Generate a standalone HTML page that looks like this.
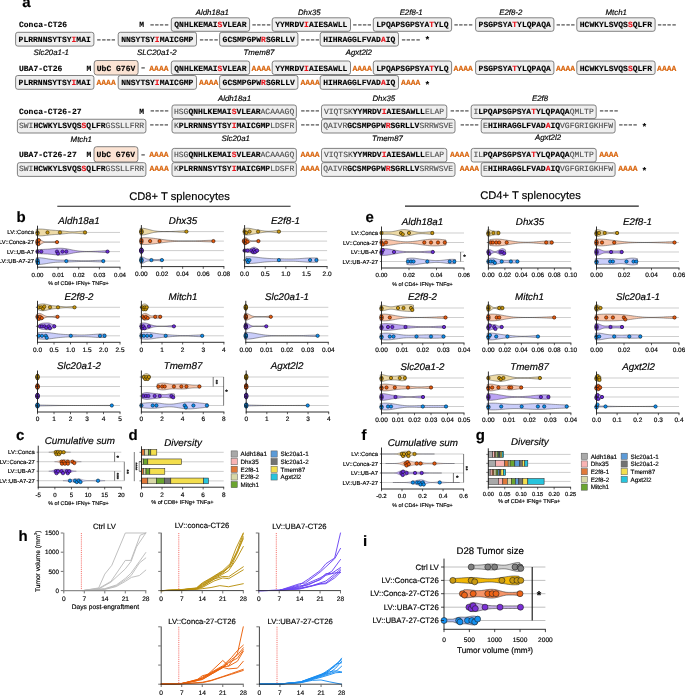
<!DOCTYPE html>
<html lang="en">
<head>
<meta charset="utf-8">
<title>Figure</title>
<style>
html,body{margin:0;padding:0;background:#fff;}
body{width:685px;height:695px;overflow:hidden;}
svg{display:block;font-family:"Liberation Sans", Arial, Helvetica, sans-serif;}
svg text{white-space:pre;}
svg .m{font-family:"Liberation Mono", "Courier New", monospace;}
</style>
</head>
<body>
<svg width="685" height="695" viewBox="0 0 685 695" text-rendering="geometricPrecision">
<rect width="685" height="695" fill="#fff"/>
<text x="22.3" y="7.3" font-size="15" font-weight="bold" stroke="#000" stroke-width="0.16">a</text>
<text x="212.3" y="14.6" font-size="7.85" text-anchor="middle" font-style="italic" stroke="#000" stroke-width="0.16">Aldh18a1</text>
<text x="309.3" y="14.6" font-size="7.85" text-anchor="middle" font-style="italic" stroke="#000" stroke-width="0.16">Dhx35</text>
<text x="411.2" y="14.6" font-size="7.85" text-anchor="middle" font-style="italic" stroke="#000" stroke-width="0.16">E2f8-1</text>
<text x="510.8" y="14.6" font-size="7.85" text-anchor="middle" font-style="italic" stroke="#000" stroke-width="0.16">E2f8-2</text>
<text x="616.2" y="14.6" font-size="7.85" text-anchor="middle" font-style="italic" stroke="#000" stroke-width="0.16">Mtch1</text>
<text x="19" y="27.3" font-size="8.03" font-weight="bold" stroke="#000" stroke-width="0.12" class="m">Conca-CT26</text>
<text x="139.2" y="27.3" font-size="8.03" font-weight="bold" stroke="#000" stroke-width="0.12" class="m">M</text>
<text class="m" font-size="8.03" font-weight="bold" fill="#1a1a1a" letter-spacing="-1.6" transform="translate(148.45 27.4) scale(1.5 1)">----</text>
<rect x="171.3" y="17.8" width="78.3" height="13.5" fill="#efefef" stroke="#6c6c6c" stroke-width="0.85" rx="2.2"/>
<text x="174.3" y="27.3" font-size="8.03" font-weight="bold" stroke="#000" stroke-width="0.12" class="m">QNHLKEMAI<tspan fill="#e8141c" stroke="#e8141c">S</tspan>VLEAR</text>
<text class="m" font-size="8.03" font-weight="bold" fill="#1a1a1a" letter-spacing="-1.6" transform="translate(250.45 27.4) scale(1.5 1)">----</text>
<rect x="272.2" y="17.8" width="78.3" height="13.5" fill="#efefef" stroke="#6c6c6c" stroke-width="0.85" rx="2.2"/>
<text x="275.2" y="27.3" font-size="8.03" font-weight="bold" stroke="#000" stroke-width="0.12" class="m">YYMRDV<tspan fill="#e8141c" stroke="#e8141c">I</tspan>AIESAWLL</text>
<text class="m" font-size="8.03" font-weight="bold" fill="#1a1a1a" letter-spacing="-1.6" transform="translate(351.35 27.4) scale(1.5 1)">----</text>
<rect x="373.3" y="17.8" width="78.3" height="13.5" fill="#efefef" stroke="#6c6c6c" stroke-width="0.85" rx="2.2"/>
<text x="376.3" y="27.3" font-size="8.03" font-weight="bold" stroke="#000" stroke-width="0.12" class="m">LPQAPSGPSYA<tspan fill="#e8141c" stroke="#e8141c">T</tspan>YLQ</text>
<text class="m" font-size="8.03" font-weight="bold" fill="#1a1a1a" letter-spacing="-1.6" transform="translate(452.45 27.4) scale(1.5 1)">----</text>
<rect x="475.6" y="17.8" width="78.3" height="13.5" fill="#efefef" stroke="#6c6c6c" stroke-width="0.85" rx="2.2"/>
<text x="478.6" y="27.3" font-size="8.03" font-weight="bold" stroke="#000" stroke-width="0.12" class="m">PSGPSYA<tspan fill="#e8141c" stroke="#e8141c">T</tspan>YLQPAQA</text>
<text class="m" font-size="8.03" font-weight="bold" fill="#1a1a1a" letter-spacing="-1.6" transform="translate(554.75 27.4) scale(1.5 1)">----</text>
<rect x="576.8" y="17.8" width="78.3" height="13.5" fill="#efefef" stroke="#6c6c6c" stroke-width="0.85" rx="2.2"/>
<text x="579.8" y="27.3" font-size="8.03" font-weight="bold" stroke="#000" stroke-width="0.12" class="m">HCWKYLSVQS<tspan fill="#e8141c" stroke="#e8141c">S</tspan>QLFR</text>
<text class="m" font-size="8.03" font-weight="bold" fill="#1a1a1a" letter-spacing="-1.6" transform="translate(655.95 27.4) scale(1.5 1)">----</text>
<rect x="15.6" y="32.3" width="78.3" height="13.8" fill="#efefef" stroke="#6c6c6c" stroke-width="0.85" rx="2.2"/>
<text x="18.6" y="41.7" font-size="8.03" font-weight="bold" stroke="#000" stroke-width="0.12" class="m">PLRRNNSYTSY<tspan fill="#e8141c" stroke="#e8141c">I</tspan>MAI</text>
<text class="m" font-size="8.03" font-weight="bold" fill="#1a1a1a" letter-spacing="-1.6" transform="translate(95.35 41.8) scale(1.5 1)">----</text>
<rect x="118.2" y="32.3" width="78.3" height="13.8" fill="#efefef" stroke="#6c6c6c" stroke-width="0.85" rx="2.2"/>
<text x="121.2" y="41.7" font-size="8.03" font-weight="bold" stroke="#000" stroke-width="0.12" class="m">NNSYTSY<tspan fill="#e8141c" stroke="#e8141c">I</tspan>MAICGMP</text>
<text class="m" font-size="8.03" font-weight="bold" fill="#1a1a1a" letter-spacing="-1.6" transform="translate(197.95 41.8) scale(1.5 1)">----</text>
<rect x="219.6" y="32.3" width="78.3" height="13.8" fill="#efefef" stroke="#6c6c6c" stroke-width="0.85" rx="2.2"/>
<text x="222.6" y="41.7" font-size="8.03" font-weight="bold" stroke="#000" stroke-width="0.12" class="m">GCSMPGPW<tspan fill="#e8141c" stroke="#e8141c">R</tspan>SGRLLV</text>
<text class="m" font-size="8.03" font-weight="bold" fill="#1a1a1a" letter-spacing="-1.6" transform="translate(299.35 41.8) scale(1.5 1)">----</text>
<rect x="320.2" y="32.3" width="78.3" height="13.8" fill="#efefef" stroke="#6c6c6c" stroke-width="0.85" rx="2.2"/>
<text x="323.2" y="41.7" font-size="8.03" font-weight="bold" stroke="#000" stroke-width="0.12" class="m">HIHRAGGLFVAD<tspan fill="#e8141c" stroke="#e8141c">A</tspan>IQ</text>
<text class="m" font-size="8.03" font-weight="bold" fill="#1a1a1a" letter-spacing="-1.6" transform="translate(399.95 41.8) scale(1.5 1)">----</text>
<text x="424.52" y="42.66" font-size="9.6" font-weight="bold" class="m">*</text>
<text x="51.2" y="54.6" font-size="7.85" text-anchor="middle" font-style="italic" stroke="#000" stroke-width="0.16">Slc20a1-1</text>
<text x="156.8" y="54.6" font-size="7.85" text-anchor="middle" font-style="italic" stroke="#000" stroke-width="0.16">SLC20a1-2</text>
<text x="259" y="54.6" font-size="7.85" text-anchor="middle" font-style="italic" stroke="#000" stroke-width="0.16">Tmem87</text>
<text x="358.8" y="54.6" font-size="7.85" text-anchor="middle" font-style="italic" stroke="#000" stroke-width="0.16">Agxt2l2</text>
<text x="19" y="70.5" font-size="8.03" font-weight="bold" stroke="#000" stroke-width="0.12" class="m">UBA7-CT26</text>
<text x="86.6" y="70.5" font-size="8.03" font-weight="bold" stroke="#000" stroke-width="0.12" class="m">M</text>
<rect x="94.2" y="60.5" width="43.9" height="14.5" fill="#fbe3d3" stroke="#6c6c6c" stroke-width="0.85" rx="2.6"/>
<text x="96.8" y="70.5" font-size="8.03" font-weight="bold" stroke="#000" stroke-width="0.12" class="m">UbC G76V</text>
<text class="m" font-size="8.03" font-weight="bold" fill="#1a1a1a" letter-spacing="-1.6" transform="translate(139.45 69.95) scale(1.5 1)">-</text>
<text x="149.3" y="70.5" font-size="8.03" font-weight="bold" fill="#d9660f" stroke="#d9660f" stroke-width="0.12" class="m">AAAA</text>
<rect x="171.3" y="61" width="78.3" height="13.5" fill="#efefef" stroke="#6c6c6c" stroke-width="0.85" rx="2.2"/>
<text x="174.3" y="70.5" font-size="8.03" font-weight="bold" stroke="#000" stroke-width="0.12" class="m">QNHLKEMAI<tspan fill="#e8141c" stroke="#e8141c">S</tspan>VLEAR</text>
<text x="251.6" y="70.5" font-size="8.03" font-weight="bold" fill="#d9660f" stroke="#d9660f" stroke-width="0.12" class="m">AAAA</text>
<rect x="272.2" y="61" width="78.3" height="13.5" fill="#efefef" stroke="#6c6c6c" stroke-width="0.85" rx="2.2"/>
<text x="275.2" y="70.5" font-size="8.03" font-weight="bold" stroke="#000" stroke-width="0.12" class="m">YYMRDV<tspan fill="#e8141c" stroke="#e8141c">I</tspan>AIESAWLL</text>
<text x="352.5" y="70.5" font-size="8.03" font-weight="bold" fill="#d9660f" stroke="#d9660f" stroke-width="0.12" class="m">AAAA</text>
<rect x="373.3" y="61" width="78.3" height="13.5" fill="#efefef" stroke="#6c6c6c" stroke-width="0.85" rx="2.2"/>
<text x="376.3" y="70.5" font-size="8.03" font-weight="bold" stroke="#000" stroke-width="0.12" class="m">LPQAPSGPSYA<tspan fill="#e8141c" stroke="#e8141c">T</tspan>YLQ</text>
<text x="453.6" y="70.5" font-size="8.03" font-weight="bold" fill="#d9660f" stroke="#d9660f" stroke-width="0.12" class="m">AAAA</text>
<rect x="475.6" y="61" width="78.3" height="13.5" fill="#efefef" stroke="#6c6c6c" stroke-width="0.85" rx="2.2"/>
<text x="478.6" y="70.5" font-size="8.03" font-weight="bold" stroke="#000" stroke-width="0.12" class="m">PSGPSYA<tspan fill="#e8141c" stroke="#e8141c">T</tspan>YLQPAQA</text>
<text x="555.9" y="70.5" font-size="8.03" font-weight="bold" fill="#d9660f" stroke="#d9660f" stroke-width="0.12" class="m">AAAA</text>
<rect x="576.8" y="61" width="78.3" height="13.5" fill="#efefef" stroke="#6c6c6c" stroke-width="0.85" rx="2.2"/>
<text x="579.8" y="70.5" font-size="8.03" font-weight="bold" stroke="#000" stroke-width="0.12" class="m">HCWKYLSVQS<tspan fill="#e8141c" stroke="#e8141c">S</tspan>QLFR</text>
<text x="657.1" y="70.5" font-size="8.03" font-weight="bold" fill="#d9660f" stroke="#d9660f" stroke-width="0.12" class="m">AAAA</text>
<rect x="15.6" y="75.5" width="78.3" height="13.8" fill="#efefef" stroke="#6c6c6c" stroke-width="0.85" rx="2.2"/>
<text x="18.6" y="84.9" font-size="8.03" font-weight="bold" stroke="#000" stroke-width="0.12" class="m">PLRRNNSYTSY<tspan fill="#e8141c" stroke="#e8141c">I</tspan>MAI</text>
<text x="96.5" y="84.9" font-size="8.03" font-weight="bold" fill="#d9660f" stroke="#d9660f" stroke-width="0.12" class="m">AAAA</text>
<rect x="118.2" y="75.5" width="78.3" height="13.8" fill="#efefef" stroke="#6c6c6c" stroke-width="0.85" rx="2.2"/>
<text x="121.2" y="84.9" font-size="8.03" font-weight="bold" stroke="#000" stroke-width="0.12" class="m">NNSYTSY<tspan fill="#e8141c" stroke="#e8141c">I</tspan>MAICGMP</text>
<text x="199.1" y="84.9" font-size="8.03" font-weight="bold" fill="#d9660f" stroke="#d9660f" stroke-width="0.12" class="m">AAAA</text>
<rect x="219.6" y="75.5" width="78.3" height="13.8" fill="#efefef" stroke="#6c6c6c" stroke-width="0.85" rx="2.2"/>
<text x="222.6" y="84.9" font-size="8.03" font-weight="bold" stroke="#000" stroke-width="0.12" class="m">GCSMPGPW<tspan fill="#e8141c" stroke="#e8141c">R</tspan>SGRLLV</text>
<text x="300.5" y="84.9" font-size="8.03" font-weight="bold" fill="#d9660f" stroke="#d9660f" stroke-width="0.12" class="m">AAAA</text>
<rect x="320.2" y="75.5" width="78.3" height="13.8" fill="#efefef" stroke="#6c6c6c" stroke-width="0.85" rx="2.2"/>
<text x="323.2" y="84.9" font-size="8.03" font-weight="bold" stroke="#000" stroke-width="0.12" class="m">HIHRAGGLFVAD<tspan fill="#e8141c" stroke="#e8141c">A</tspan>IQ</text>
<text x="401.1" y="84.9" font-size="8.03" font-weight="bold" fill="#d9660f" stroke="#d9660f" stroke-width="0.12" class="m">AAAA</text>
<text x="424.52" y="87.56" font-size="9.6" font-weight="bold" class="m">*</text>
<text x="234.5" y="101.1" font-size="7.85" text-anchor="middle" font-style="italic" stroke="#000" stroke-width="0.16">Aldh18a1</text>
<text x="383.8" y="101.1" font-size="7.85" text-anchor="middle" font-style="italic" stroke="#000" stroke-width="0.16">Dhx35</text>
<text x="540" y="101.1" font-size="7.85" text-anchor="middle" font-style="italic" stroke="#000" stroke-width="0.16">E2f8</text>
<text x="19" y="113.7" font-size="8.03" font-weight="bold" stroke="#000" stroke-width="0.12" class="m">Conca-CT26-27</text>
<text x="139.2" y="113.7" font-size="8.03" font-weight="bold" stroke="#000" stroke-width="0.12" class="m">M</text>
<text class="m" font-size="8.03" font-weight="bold" fill="#1a1a1a" letter-spacing="-1.6" transform="translate(148.65 113.15) scale(1.5 1)">----</text>
<rect x="172" y="105" width="124.4" height="13.6" fill="#efefef" stroke="#6c6c6c" stroke-width="0.85" rx="2.2"/>
<text x="173.95" y="113.7" font-size="8.03" font-weight="bold" stroke="#000" stroke-width="0.12" class="m"><tspan font-weight="normal" fill="#4a4a4a" stroke="#4a4a4a">HSG</tspan>QNHLKEMAI<tspan fill="#e8141c" stroke="#e8141c">S</tspan>VLEAR<tspan font-weight="normal" fill="#4a4a4a" stroke="#4a4a4a">ACAAAGQ</tspan></text>
<text class="m" font-size="8.03" font-weight="bold" fill="#1a1a1a" letter-spacing="-1.6" transform="translate(299.25 113.15) scale(1.5 1)">----</text>
<rect x="321.5" y="105" width="125.3" height="13.6" fill="#efefef" stroke="#6c6c6c" stroke-width="0.85" rx="2.2"/>
<text x="323.9" y="113.7" font-size="8.03" font-weight="bold" stroke="#000" stroke-width="0.12" class="m"><tspan font-weight="normal" fill="#4a4a4a" stroke="#4a4a4a">VIQTSK</tspan>YYMRDV<tspan fill="#e8141c" stroke="#e8141c">I</tspan>AIESAWLL<tspan font-weight="normal" fill="#4a4a4a" stroke="#4a4a4a">ELAP</tspan></text>
<text class="m" font-size="8.03" font-weight="bold" fill="#1a1a1a" letter-spacing="-1.6" transform="translate(448.85 113.15) scale(1.5 1)">----</text>
<rect x="471.2" y="105" width="125" height="13.6" fill="#efefef" stroke="#6c6c6c" stroke-width="0.85" rx="2.2"/>
<text x="473.45" y="113.7" font-size="8.03" font-weight="bold" stroke="#000" stroke-width="0.12" class="m"><tspan font-weight="normal" fill="#4a4a4a" stroke="#4a4a4a">I</tspan>LPQAPSGPSYA<tspan fill="#e8141c" stroke="#e8141c">T</tspan>YLQPAQA<tspan font-weight="normal" fill="#4a4a4a" stroke="#4a4a4a">QMLTP</tspan></text>
<text class="m" font-size="8.03" font-weight="bold" fill="#1a1a1a" letter-spacing="-1.6" transform="translate(598.05 113.15) scale(1.5 1)">----</text>
<rect x="17.4" y="119.25" width="128.5" height="13.75" fill="#efefef" stroke="#6c6c6c" stroke-width="0.85" rx="2.2"/>
<text x="18.99" y="128" font-size="8.03" font-weight="bold" stroke="#000" stroke-width="0.12" class="m"><tspan font-weight="normal" fill="#4a4a4a" stroke="#4a4a4a">SWI</tspan>HCWKYLSVQS<tspan fill="#e8141c" stroke="#e8141c">S</tspan>QLFR<tspan font-weight="normal" fill="#4a4a4a" stroke="#4a4a4a">GSSLLFRR</tspan></text>
<text class="m" font-size="8.03" font-weight="bold" fill="#1a1a1a" letter-spacing="-1.6" transform="translate(148.35 127.45) scale(1.5 1)">----</text>
<rect x="172" y="119.25" width="124.4" height="13.75" fill="#efefef" stroke="#6c6c6c" stroke-width="0.85" rx="2.2"/>
<text x="173.95" y="128" font-size="8.03" font-weight="bold" stroke="#000" stroke-width="0.12" class="m"><tspan font-weight="normal" fill="#4a4a4a" stroke="#4a4a4a">K</tspan>PLRRNNSYTSY<tspan fill="#e8141c" stroke="#e8141c">I</tspan>MAICGMP<tspan font-weight="normal" fill="#4a4a4a" stroke="#4a4a4a">LDSFR</tspan></text>
<text class="m" font-size="8.03" font-weight="bold" fill="#1a1a1a" letter-spacing="-1.6" transform="translate(299.25 127.45) scale(1.5 1)">----</text>
<rect x="321.5" y="119.25" width="133.5" height="13.75" fill="#efefef" stroke="#6c6c6c" stroke-width="0.85" rx="2.2"/>
<text x="323.18" y="128" font-size="8.03" font-weight="bold" stroke="#000" stroke-width="0.12" class="m"><tspan font-weight="normal" fill="#4a4a4a" stroke="#4a4a4a">QAIVR</tspan>GCSMPGPW<tspan fill="#e8141c" stroke="#e8141c">R</tspan>SGRLLV<tspan font-weight="normal" fill="#4a4a4a" stroke="#4a4a4a">SRRWSVE</tspan></text>
<text class="m" font-size="8.03" font-weight="bold" fill="#1a1a1a" letter-spacing="-1.6" transform="translate(458.65 127.45) scale(1.5 1)">----</text>
<rect x="481.2" y="119.25" width="133.9" height="13.75" fill="#efefef" stroke="#6c6c6c" stroke-width="0.85" rx="2.2"/>
<text x="483.08" y="128" font-size="8.03" font-weight="bold" stroke="#000" stroke-width="0.12" class="m"><tspan font-weight="normal" fill="#4a4a4a" stroke="#4a4a4a">E</tspan>HIHRAGGLFVAD<tspan fill="#e8141c" stroke="#e8141c">A</tspan>IQ<tspan font-weight="normal" fill="#4a4a4a" stroke="#4a4a4a">VGFGRIGKHFW</tspan></text>
<text class="m" font-size="8.03" font-weight="bold" fill="#1a1a1a" letter-spacing="-1.6" transform="translate(617.15 127.45) scale(1.5 1)">----</text>
<text x="641.52" y="129.76" font-size="9.6" font-weight="bold" class="m">*</text>
<text x="81.3" y="141.6" font-size="7.85" text-anchor="middle" font-style="italic" stroke="#000" stroke-width="0.16">Mtch1</text>
<text x="235.8" y="140.9" font-size="7.85" text-anchor="middle" font-style="italic" stroke="#000" stroke-width="0.16">Slc20a1</text>
<text x="387.4" y="140.8" font-size="7.85" text-anchor="middle" font-style="italic" stroke="#000" stroke-width="0.16">Tmem87</text>
<text x="548" y="139.5" font-size="7.85" text-anchor="middle" font-style="italic" stroke="#000" stroke-width="0.16">Agxt2l2</text>
<text x="19" y="157.1" font-size="8.03" font-weight="bold" stroke="#000" stroke-width="0.12" class="m">UBA7-CT26-27</text>
<text x="86.6" y="157.1" font-size="8.03" font-weight="bold" stroke="#000" stroke-width="0.12" class="m">M</text>
<rect x="94" y="146.7" width="43.9" height="15.3" fill="#fbe3d3" stroke="#6c6c6c" stroke-width="0.85" rx="2.6"/>
<text x="96.6" y="157.1" font-size="8.03" font-weight="bold" stroke="#000" stroke-width="0.12" class="m">UbC G76V</text>
<text class="m" font-size="8.03" font-weight="bold" fill="#1a1a1a" letter-spacing="-1.6" transform="translate(139.45 156.55) scale(1.5 1)">-</text>
<text x="149.3" y="157.1" font-size="8.03" font-weight="bold" fill="#d9660f" stroke="#d9660f" stroke-width="0.12" class="m">AAAA</text>
<rect x="172" y="148.4" width="124.4" height="13.6" fill="#efefef" stroke="#6c6c6c" stroke-width="0.85" rx="2.2"/>
<text x="173.95" y="157.1" font-size="8.03" font-weight="bold" stroke="#000" stroke-width="0.12" class="m"><tspan font-weight="normal" fill="#4a4a4a" stroke="#4a4a4a">HSG</tspan>QNHLKEMAI<tspan fill="#e8141c" stroke="#e8141c">S</tspan>VLEAR<tspan font-weight="normal" fill="#4a4a4a" stroke="#4a4a4a">ACAAAGQ</tspan></text>
<text x="300.4" y="157.1" font-size="8.03" font-weight="bold" fill="#d9660f" stroke="#d9660f" stroke-width="0.12" class="m">AAAA</text>
<rect x="321.5" y="148.4" width="125.3" height="13.6" fill="#efefef" stroke="#6c6c6c" stroke-width="0.85" rx="2.2"/>
<text x="323.9" y="157.1" font-size="8.03" font-weight="bold" stroke="#000" stroke-width="0.12" class="m"><tspan font-weight="normal" fill="#4a4a4a" stroke="#4a4a4a">VIQTSK</tspan>YYMRDV<tspan fill="#e8141c" stroke="#e8141c">I</tspan>AIESAWLL<tspan font-weight="normal" fill="#4a4a4a" stroke="#4a4a4a">ELAP</tspan></text>
<text x="450" y="157.1" font-size="8.03" font-weight="bold" fill="#d9660f" stroke="#d9660f" stroke-width="0.12" class="m">AAAA</text>
<rect x="471.2" y="148.4" width="125" height="13.6" fill="#efefef" stroke="#6c6c6c" stroke-width="0.85" rx="2.2"/>
<text x="473.45" y="157.1" font-size="8.03" font-weight="bold" stroke="#000" stroke-width="0.12" class="m"><tspan font-weight="normal" fill="#4a4a4a" stroke="#4a4a4a">IL</tspan>PQAPSGPSYA<tspan fill="#e8141c" stroke="#e8141c">T</tspan>YLQPAQA<tspan font-weight="normal" fill="#4a4a4a" stroke="#4a4a4a">QMLTP</tspan></text>
<text x="599.2" y="157.1" font-size="8.03" font-weight="bold" fill="#d9660f" stroke="#d9660f" stroke-width="0.12" class="m">AAAA</text>
<rect x="17.4" y="162.65" width="128.5" height="13.75" fill="#efefef" stroke="#6c6c6c" stroke-width="0.85" rx="2.2"/>
<text x="18.99" y="171.4" font-size="8.03" font-weight="bold" stroke="#000" stroke-width="0.12" class="m"><tspan font-weight="normal" fill="#4a4a4a" stroke="#4a4a4a">SWI</tspan>HCWKYLSVQS<tspan fill="#e8141c" stroke="#e8141c">S</tspan>QLFR<tspan font-weight="normal" fill="#4a4a4a" stroke="#4a4a4a">GSSLLFRR</tspan></text>
<text x="149.5" y="171.4" font-size="8.03" font-weight="bold" fill="#d9660f" stroke="#d9660f" stroke-width="0.12" class="m">AAAA</text>
<rect x="172" y="162.65" width="124.4" height="13.75" fill="#efefef" stroke="#6c6c6c" stroke-width="0.85" rx="2.2"/>
<text x="173.95" y="171.4" font-size="8.03" font-weight="bold" stroke="#000" stroke-width="0.12" class="m"><tspan font-weight="normal" fill="#4a4a4a" stroke="#4a4a4a">K</tspan>PLRRNNSYTSY<tspan fill="#e8141c" stroke="#e8141c">I</tspan>MAICGMP<tspan font-weight="normal" fill="#4a4a4a" stroke="#4a4a4a">LDSFR</tspan></text>
<text x="300.4" y="171.4" font-size="8.03" font-weight="bold" fill="#d9660f" stroke="#d9660f" stroke-width="0.12" class="m">AAAA</text>
<rect x="321.5" y="162.65" width="133.5" height="13.75" fill="#efefef" stroke="#6c6c6c" stroke-width="0.85" rx="2.2"/>
<text x="323.18" y="171.4" font-size="8.03" font-weight="bold" stroke="#000" stroke-width="0.12" class="m"><tspan font-weight="normal" fill="#4a4a4a" stroke="#4a4a4a">QAIVR</tspan>GCSMPGPW<tspan fill="#e8141c" stroke="#e8141c">R</tspan>SGRLLV<tspan font-weight="normal" fill="#4a4a4a" stroke="#4a4a4a">SRRWSVE</tspan></text>
<text x="459.8" y="171.4" font-size="8.03" font-weight="bold" fill="#d9660f" stroke="#d9660f" stroke-width="0.12" class="m">AAAA</text>
<rect x="481.2" y="162.65" width="133.9" height="13.75" fill="#efefef" stroke="#6c6c6c" stroke-width="0.85" rx="2.2"/>
<text x="483.08" y="171.4" font-size="8.03" font-weight="bold" stroke="#000" stroke-width="0.12" class="m"><tspan font-weight="normal" fill="#4a4a4a" stroke="#4a4a4a">E</tspan>HIHRAGGLFVAD<tspan fill="#e8141c" stroke="#e8141c">A</tspan>IQ<tspan font-weight="normal" fill="#4a4a4a" stroke="#4a4a4a">VGFGRIGKHFW</tspan></text>
<text x="618.3" y="171.4" font-size="8.03" font-weight="bold" fill="#d9660f" stroke="#d9660f" stroke-width="0.12" class="m">AAAA</text>
<text x="641.52" y="173.76" font-size="9.6" font-weight="bold" class="m">*</text>
<text x="129.2" y="199.6" font-size="11.2" stroke="#000" stroke-width="0.16">CD8+ T splenocytes</text>
<line x1="57.3" y1="206.3" x2="290.6" y2="206.3" stroke="#222" stroke-width="1.1" />
<text x="16.6" y="222.3" font-size="15" font-weight="bold" stroke="#000" stroke-width="0.16">b</text>
<line x1="37.5" y1="232.45" x2="120" y2="232.45" stroke="#b9b9b9" stroke-width="0.7" />
<line x1="37.5" y1="242.1" x2="120" y2="242.1" stroke="#b9b9b9" stroke-width="0.7" />
<line x1="37.5" y1="251.6" x2="120" y2="251.6" stroke="#b9b9b9" stroke-width="0.7" />
<line x1="37.5" y1="261.1" x2="120" y2="261.1" stroke="#b9b9b9" stroke-width="0.7" />
<text x="79" y="224.2" font-size="9.8" text-anchor="middle" font-style="italic" stroke="#000" stroke-width="0.16">Aldh18a1</text>
<path d="M36.3,229.34 L37.58,229.18 L38.86,229.09 L40.14,229.05 L41.42,229.07 L42.7,229.15 L43.98,229.26 L45.26,229.4 L46.54,229.55 L47.82,229.71 L49.09,229.86 L50.37,230 L51.65,230.13 L52.93,230.24 L54.21,230.33 L55.49,230.42 L56.77,230.5 L58.05,230.59 L59.33,230.68 L60.61,230.79 L61.89,230.91 L63.17,231.04 L64.45,231.18 L65.73,231.33 L67.01,231.46 L68.29,231.58 L69.57,231.68 L70.85,231.75 L72.13,231.78 L73.41,231.77 L74.68,231.73 L75.96,231.66 L77.24,231.57 L78.52,231.46 L79.8,231.35 L81.08,231.25 L82.36,231.17 L83.64,231.12 L84.92,231.1 L86.2,231.12 L86.2,233.78 L84.92,233.8 L83.64,233.78 L82.36,233.73 L81.08,233.65 L79.8,233.55 L78.52,233.44 L77.24,233.33 L75.96,233.24 L74.68,233.17 L73.41,233.13 L72.13,233.12 L70.85,233.15 L69.57,233.22 L68.29,233.32 L67.01,233.44 L65.73,233.57 L64.45,233.72 L63.17,233.86 L61.89,233.99 L60.61,234.11 L59.33,234.22 L58.05,234.31 L56.77,234.4 L55.49,234.48 L54.21,234.57 L52.93,234.66 L51.65,234.77 L50.37,234.9 L49.09,235.04 L47.82,235.19 L46.54,235.35 L45.26,235.5 L43.98,235.64 L42.7,235.75 L41.42,235.83 L40.14,235.85 L38.86,235.81 L37.58,235.72 L36.3,235.56Z" fill="#eddaa6" stroke="#333" stroke-width="0.45" stroke-linejoin="round"/>
<circle cx="37.5" cy="232.45" r="1.65" fill="#c9960c" stroke="#2c2102" stroke-width="0.6"/>
<circle cx="37.5" cy="233.45" r="1.65" fill="#c9960c" stroke="#2c2102" stroke-width="0.6"/>
<circle cx="47.5" cy="232.45" r="1.65" fill="#c9960c" stroke="#2c2102" stroke-width="0.6"/>
<circle cx="60" cy="232.45" r="1.65" fill="#c9960c" stroke="#2c2102" stroke-width="0.6"/>
<circle cx="85" cy="232.45" r="1.65" fill="#c9960c" stroke="#2c2102" stroke-width="0.6"/>
<path d="M36.3,239.15 L36.86,238.9 L37.42,238.74 L37.98,238.7 L38.55,238.77 L39.11,238.95 L39.67,239.22 L40.23,239.55 L40.79,239.92 L41.35,240.3 L41.92,240.67 L42.48,240.99 L43.04,241.27 L43.6,241.5 L44.16,241.68 L44.72,241.82 L45.28,241.92 L45.85,241.98 L46.41,242.03 L46.97,242.06 L47.53,242.07 L48.09,242.08 L48.65,242.08 L49.22,242.07 L49.78,242.06 L50.34,242.04 L50.9,242.01 L51.46,241.97 L52.02,241.93 L52.58,241.87 L53.15,241.8 L53.71,241.72 L54.27,241.64 L54.83,241.57 L55.39,241.5 L55.95,241.45 L56.52,241.42 L57.08,241.41 L57.64,241.42 L58.2,241.46 L58.2,242.74 L57.64,242.78 L57.08,242.79 L56.52,242.78 L55.95,242.75 L55.39,242.7 L54.83,242.63 L54.27,242.56 L53.71,242.48 L53.15,242.4 L52.58,242.33 L52.02,242.27 L51.46,242.23 L50.9,242.19 L50.34,242.16 L49.78,242.14 L49.22,242.13 L48.65,242.12 L48.09,242.12 L47.53,242.13 L46.97,242.14 L46.41,242.17 L45.85,242.22 L45.28,242.28 L44.72,242.38 L44.16,242.52 L43.6,242.7 L43.04,242.93 L42.48,243.21 L41.92,243.53 L41.35,243.9 L40.79,244.28 L40.23,244.65 L39.67,244.98 L39.11,245.25 L38.55,245.43 L37.98,245.5 L37.42,245.46 L36.86,245.3 L36.3,245.05Z" fill="#f9c6ab" stroke="#333" stroke-width="0.45" stroke-linejoin="round"/>
<circle cx="37.5" cy="242.1" r="1.65" fill="#e8590c" stroke="#331302" stroke-width="0.6"/>
<circle cx="37.5" cy="243.1" r="1.65" fill="#e8590c" stroke="#331302" stroke-width="0.6"/>
<circle cx="37.5" cy="241.1" r="1.65" fill="#e8590c" stroke="#331302" stroke-width="0.6"/>
<circle cx="38.3" cy="244.05" r="1.65" fill="#e8590c" stroke="#331302" stroke-width="0.6"/>
<circle cx="38.8" cy="240.15" r="1.65" fill="#e8590c" stroke="#331302" stroke-width="0.6"/>
<circle cx="57" cy="242.1" r="1.65" fill="#e8590c" stroke="#331302" stroke-width="0.6"/>
<path d="M36.3,249.83 L38.16,249.67 L40.01,249.55 L41.87,249.45 L43.73,249.36 L45.58,249.27 L47.44,249.16 L49.29,249.02 L51.15,248.84 L53.01,248.65 L54.86,248.47 L56.72,248.31 L58.58,248.21 L60.43,248.2 L62.29,248.28 L64.15,248.46 L66,248.72 L67.86,249.05 L69.72,249.42 L71.57,249.8 L73.43,250.16 L75.28,250.5 L77.14,250.78 L79,251.01 L80.85,251.19 L82.71,251.32 L84.57,251.4 L86.42,251.44 L88.28,251.45 L90.14,251.43 L91.99,251.38 L93.85,251.31 L95.71,251.22 L97.56,251.12 L99.42,251.01 L101.27,250.9 L103.13,250.81 L104.99,250.74 L106.84,250.71 L108.7,250.72 L108.7,252.48 L106.84,252.49 L104.99,252.46 L103.13,252.39 L101.27,252.3 L99.42,252.19 L97.56,252.08 L95.71,251.98 L93.85,251.89 L91.99,251.82 L90.14,251.77 L88.28,251.75 L86.42,251.76 L84.57,251.8 L82.71,251.88 L80.85,252.01 L79,252.19 L77.14,252.42 L75.28,252.7 L73.43,253.04 L71.57,253.4 L69.72,253.78 L67.86,254.15 L66,254.48 L64.15,254.74 L62.29,254.92 L60.43,255 L58.58,254.99 L56.72,254.89 L54.86,254.73 L53.01,254.55 L51.15,254.36 L49.29,254.18 L47.44,254.04 L45.58,253.93 L43.73,253.84 L41.87,253.75 L40.01,253.65 L38.16,253.53 L36.3,253.37Z" fill="#bba3f4" stroke="#333" stroke-width="0.45" stroke-linejoin="round"/>
<circle cx="37.5" cy="251.6" r="1.65" fill="#6a2bd9" stroke="#17092f" stroke-width="0.6"/>
<circle cx="41.3" cy="251.6" r="1.65" fill="#6a2bd9" stroke="#17092f" stroke-width="0.6"/>
<circle cx="57" cy="251.6" r="1.65" fill="#6a2bd9" stroke="#17092f" stroke-width="0.6"/>
<circle cx="58" cy="253.55" r="1.65" fill="#6a2bd9" stroke="#17092f" stroke-width="0.6"/>
<circle cx="62.5" cy="251.6" r="1.65" fill="#6a2bd9" stroke="#17092f" stroke-width="0.6"/>
<circle cx="66.3" cy="251.6" r="1.65" fill="#6a2bd9" stroke="#17092f" stroke-width="0.6"/>
<circle cx="107.5" cy="251.6" r="1.65" fill="#6a2bd9" stroke="#17092f" stroke-width="0.6"/>
<path d="M36.3,257.73 L38.05,257.7 L39.8,257.76 L41.55,257.9 L43.29,258.12 L45.04,258.38 L46.79,258.67 L48.54,258.96 L50.29,259.24 L52.04,259.49 L53.79,259.69 L55.54,259.85 L57.28,259.96 L59.03,260.04 L60.78,260.09 L62.53,260.12 L64.28,260.15 L66.03,260.17 L67.78,260.21 L69.53,260.26 L71.27,260.32 L73.02,260.39 L74.77,260.47 L76.52,260.55 L78.27,260.62 L80.02,260.68 L81.77,260.72 L83.52,260.75 L85.26,260.76 L87.01,260.74 L88.76,260.7 L90.51,260.65 L92.26,260.58 L94.01,260.51 L95.76,260.44 L97.51,260.37 L99.25,260.31 L101,260.27 L102.75,260.25 L104.5,260.26 L104.5,261.94 L102.75,261.95 L101,261.93 L99.25,261.89 L97.51,261.83 L95.76,261.76 L94.01,261.69 L92.26,261.62 L90.51,261.55 L88.76,261.5 L87.01,261.46 L85.26,261.44 L83.52,261.45 L81.77,261.48 L80.02,261.52 L78.27,261.58 L76.52,261.65 L74.77,261.73 L73.02,261.81 L71.27,261.88 L69.53,261.94 L67.78,261.99 L66.03,262.03 L64.28,262.05 L62.53,262.08 L60.78,262.11 L59.03,262.16 L57.28,262.24 L55.54,262.35 L53.79,262.51 L52.04,262.71 L50.29,262.96 L48.54,263.24 L46.79,263.53 L45.04,263.82 L43.29,264.08 L41.55,264.3 L39.8,264.44 L38.05,264.5 L36.3,264.47Z" fill="#c9cdfa" stroke="#333" stroke-width="0.45" stroke-linejoin="round"/>
<circle cx="37.5" cy="261.1" r="1.65" fill="#0d8ff0" stroke="#021f34" stroke-width="0.6"/>
<circle cx="37.5" cy="262.1" r="1.65" fill="#0d8ff0" stroke="#021f34" stroke-width="0.6"/>
<circle cx="37.5" cy="260.1" r="1.65" fill="#0d8ff0" stroke="#021f34" stroke-width="0.6"/>
<circle cx="38" cy="263.05" r="1.65" fill="#0d8ff0" stroke="#021f34" stroke-width="0.6"/>
<circle cx="66.3" cy="261.1" r="1.65" fill="#0d8ff0" stroke="#021f34" stroke-width="0.6"/>
<circle cx="103.3" cy="261.1" r="1.65" fill="#0d8ff0" stroke="#021f34" stroke-width="0.6"/>
<line x1="37.5" y1="225.7" x2="37.5" y2="267.65" stroke="#1a1a1a" stroke-width="0.9" />
<line x1="37.05" y1="267.2" x2="120.45" y2="267.2" stroke="#1a1a1a" stroke-width="0.9" />
<line x1="37.5" y1="267.2" x2="37.5" y2="269.4" stroke="#1a1a1a" stroke-width="0.7" />
<text x="37.5" y="276.5" font-size="6.1" text-anchor="middle" stroke="#000" stroke-width="0.16">0.00</text>
<line x1="58.12" y1="267.2" x2="58.12" y2="269.4" stroke="#1a1a1a" stroke-width="0.7" />
<text x="58.12" y="276.5" font-size="6.1" text-anchor="middle" stroke="#000" stroke-width="0.16">0.01</text>
<line x1="78.75" y1="267.2" x2="78.75" y2="269.4" stroke="#1a1a1a" stroke-width="0.7" />
<text x="78.75" y="276.5" font-size="6.1" text-anchor="middle" stroke="#000" stroke-width="0.16">0.02</text>
<line x1="99.38" y1="267.2" x2="99.38" y2="269.4" stroke="#1a1a1a" stroke-width="0.7" />
<text x="99.38" y="276.5" font-size="6.1" text-anchor="middle" stroke="#000" stroke-width="0.16">0.03</text>
<line x1="120" y1="267.2" x2="120" y2="269.4" stroke="#1a1a1a" stroke-width="0.7" />
<text x="120" y="276.5" font-size="6.1" text-anchor="middle" stroke="#000" stroke-width="0.16">0.04</text>
<line x1="35.9" y1="232.45" x2="37.5" y2="232.45" stroke="#1a1a1a" stroke-width="0.6" />
<line x1="35.9" y1="242.1" x2="37.5" y2="242.1" stroke="#1a1a1a" stroke-width="0.6" />
<line x1="35.9" y1="251.6" x2="37.5" y2="251.6" stroke="#1a1a1a" stroke-width="0.6" />
<line x1="35.9" y1="261.1" x2="37.5" y2="261.1" stroke="#1a1a1a" stroke-width="0.6" />
<text x="34" y="234.45" font-size="5.85" text-anchor="end" stroke="#000" stroke-width="0.16">LV::Conca</text>
<text x="34" y="244.1" font-size="5.85" text-anchor="end" stroke="#000" stroke-width="0.16">LV::Conca-27</text>
<text x="34" y="253.6" font-size="5.85" text-anchor="end" stroke="#000" stroke-width="0.16">LV::UB-A7</text>
<text x="34" y="263.1" font-size="5.85" text-anchor="end" stroke="#000" stroke-width="0.16">LV::UB-A7-27</text>
<text x="78.5" y="285.2" font-size="5.4" text-anchor="middle" stroke="#000" stroke-width="0.16">% of CD8+ IFNγ+ TNFα+</text>
<line x1="141.4" y1="231.6" x2="223.9" y2="231.6" stroke="#b9b9b9" stroke-width="0.7" />
<line x1="141.4" y1="241.1" x2="223.9" y2="241.1" stroke="#b9b9b9" stroke-width="0.7" />
<line x1="141.4" y1="250.6" x2="223.9" y2="250.6" stroke="#b9b9b9" stroke-width="0.7" />
<line x1="141.4" y1="260.1" x2="223.9" y2="260.1" stroke="#b9b9b9" stroke-width="0.7" />
<text x="183" y="224.2" font-size="9.8" text-anchor="middle" font-style="italic" stroke="#000" stroke-width="0.16">Dhx35</text>
<path d="M140.2,228.24 L141.42,228.2 L142.63,228.24 L143.85,228.37 L145.06,228.58 L146.28,228.84 L147.49,229.14 L148.71,229.47 L149.92,229.8 L151.14,230.12 L152.35,230.41 L153.57,230.67 L154.78,230.89 L156,231.07 L157.22,231.22 L158.43,231.33 L159.65,231.41 L160.86,231.47 L162.08,231.51 L163.29,231.54 L164.51,231.56 L165.72,231.56 L166.94,231.56 L168.15,231.55 L169.37,231.53 L170.58,231.5 L171.8,231.47 L173.02,231.42 L174.23,231.37 L175.45,231.3 L176.66,231.23 L177.88,231.15 L179.09,231.07 L180.31,230.99 L181.52,230.91 L182.74,230.84 L183.95,230.79 L185.17,230.76 L186.38,230.75 L187.6,230.76 L187.6,232.44 L186.38,232.45 L185.17,232.44 L183.95,232.41 L182.74,232.36 L181.52,232.29 L180.31,232.21 L179.09,232.13 L177.88,232.05 L176.66,231.97 L175.45,231.9 L174.23,231.83 L173.02,231.78 L171.8,231.73 L170.58,231.7 L169.37,231.67 L168.15,231.65 L166.94,231.64 L165.72,231.64 L164.51,231.64 L163.29,231.66 L162.08,231.69 L160.86,231.73 L159.65,231.79 L158.43,231.87 L157.22,231.98 L156,232.13 L154.78,232.31 L153.57,232.53 L152.35,232.79 L151.14,233.08 L149.92,233.4 L148.71,233.73 L147.49,234.06 L146.28,234.36 L145.06,234.62 L143.85,234.83 L142.63,234.96 L141.42,235 L140.2,234.96Z" fill="#eddaa6" stroke="#333" stroke-width="0.45" stroke-linejoin="round"/>
<circle cx="141.4" cy="231.6" r="1.65" fill="#c9960c" stroke="#2c2102" stroke-width="0.6"/>
<circle cx="141.4" cy="232.6" r="1.65" fill="#c9960c" stroke="#2c2102" stroke-width="0.6"/>
<circle cx="141.4" cy="230.6" r="1.65" fill="#c9960c" stroke="#2c2102" stroke-width="0.6"/>
<circle cx="141.4" cy="232.1" r="1.65" fill="#c9960c" stroke="#2c2102" stroke-width="0.6"/>
<circle cx="186.4" cy="231.6" r="1.65" fill="#c9960c" stroke="#2c2102" stroke-width="0.6"/>
<path d="M140.2,237.94 L142.11,237.78 L144.02,237.7 L145.92,237.7 L147.83,237.77 L149.74,237.9 L151.65,238.08 L153.55,238.3 L155.46,238.55 L157.37,238.81 L159.28,239.07 L161.18,239.34 L163.09,239.59 L165,239.83 L166.91,240.05 L168.82,240.25 L170.72,240.42 L172.63,240.57 L174.54,240.7 L176.45,240.8 L178.35,240.88 L180.26,240.94 L182.17,240.98 L184.08,241.01 L185.98,241.02 L187.89,241.02 L189.8,241.01 L191.71,240.98 L193.62,240.94 L195.52,240.89 L197.43,240.82 L199.34,240.75 L201.25,240.66 L203.15,240.57 L205.06,240.49 L206.97,240.41 L208.88,240.34 L210.78,240.3 L212.69,240.28 L214.6,240.28 L214.6,241.92 L212.69,241.92 L210.78,241.9 L208.88,241.86 L206.97,241.79 L205.06,241.71 L203.15,241.63 L201.25,241.54 L199.34,241.45 L197.43,241.38 L195.52,241.31 L193.62,241.26 L191.71,241.22 L189.8,241.19 L187.89,241.18 L185.98,241.18 L184.08,241.19 L182.17,241.22 L180.26,241.26 L178.35,241.32 L176.45,241.4 L174.54,241.5 L172.63,241.63 L170.72,241.78 L168.82,241.95 L166.91,242.15 L165,242.37 L163.09,242.61 L161.18,242.86 L159.28,243.13 L157.37,243.39 L155.46,243.65 L153.55,243.9 L151.65,244.12 L149.74,244.3 L147.83,244.43 L145.92,244.5 L144.02,244.5 L142.11,244.42 L140.2,244.26Z" fill="#f9c6ab" stroke="#333" stroke-width="0.45" stroke-linejoin="round"/>
<circle cx="141.4" cy="241.1" r="1.65" fill="#e8590c" stroke="#331302" stroke-width="0.6"/>
<circle cx="141.4" cy="242.1" r="1.65" fill="#e8590c" stroke="#331302" stroke-width="0.6"/>
<circle cx="141.4" cy="240.1" r="1.65" fill="#e8590c" stroke="#331302" stroke-width="0.6"/>
<circle cx="150.1" cy="241.1" r="1.65" fill="#e8590c" stroke="#331302" stroke-width="0.6"/>
<circle cx="159.6" cy="241.1" r="1.65" fill="#e8590c" stroke="#331302" stroke-width="0.6"/>
<circle cx="213.4" cy="241.1" r="1.65" fill="#e8590c" stroke="#331302" stroke-width="0.6"/>
<ellipse cx="141.4" cy="250.6" rx="1.3" ry="3.4" fill="#bba3f4" stroke="#333" stroke-width="0.45"/>
<circle cx="141.4" cy="250.6" r="1.65" fill="#6a2bd9" stroke="#17092f" stroke-width="0.6"/>
<circle cx="141.4" cy="251.6" r="1.65" fill="#6a2bd9" stroke="#17092f" stroke-width="0.6"/>
<circle cx="141.4" cy="249.6" r="1.65" fill="#6a2bd9" stroke="#17092f" stroke-width="0.6"/>
<circle cx="141.4" cy="251.1" r="1.65" fill="#6a2bd9" stroke="#17092f" stroke-width="0.6"/>
<circle cx="141.4" cy="250.1" r="1.65" fill="#6a2bd9" stroke="#17092f" stroke-width="0.6"/>
<circle cx="141.4" cy="251.4" r="1.65" fill="#6a2bd9" stroke="#17092f" stroke-width="0.6"/>
<circle cx="141.4" cy="249.8" r="1.65" fill="#6a2bd9" stroke="#17092f" stroke-width="0.6"/>
<path d="M140.2,256.93 L140.79,256.76 L141.37,256.7 L141.96,256.74 L142.55,256.89 L143.14,257.12 L143.72,257.41 L144.31,257.73 L144.9,258.06 L145.48,258.37 L146.07,258.65 L146.66,258.87 L147.25,259.03 L147.83,259.14 L148.42,259.2 L149.01,259.22 L149.59,259.22 L150.18,259.21 L150.77,259.21 L151.36,259.21 L151.94,259.24 L152.53,259.28 L153.12,259.33 L153.71,259.4 L154.29,259.47 L154.88,259.53 L155.47,259.58 L156.05,259.62 L156.64,259.63 L157.23,259.62 L157.82,259.59 L158.4,259.53 L158.99,259.47 L159.58,259.4 L160.16,259.34 L160.75,259.29 L161.34,259.26 L161.93,259.25 L162.51,259.26 L163.1,259.31 L163.1,260.89 L162.51,260.94 L161.93,260.95 L161.34,260.94 L160.75,260.91 L160.16,260.86 L159.58,260.8 L158.99,260.73 L158.4,260.67 L157.82,260.61 L157.23,260.58 L156.64,260.57 L156.05,260.58 L155.47,260.62 L154.88,260.67 L154.29,260.73 L153.71,260.8 L153.12,260.87 L152.53,260.92 L151.94,260.96 L151.36,260.99 L150.77,260.99 L150.18,260.99 L149.59,260.98 L149.01,260.98 L148.42,261 L147.83,261.06 L147.25,261.17 L146.66,261.33 L146.07,261.55 L145.48,261.83 L144.9,262.14 L144.31,262.47 L143.72,262.79 L143.14,263.08 L142.55,263.31 L141.96,263.46 L141.37,263.5 L140.79,263.44 L140.2,263.27Z" fill="#c9cdfa" stroke="#333" stroke-width="0.45" stroke-linejoin="round"/>
<circle cx="141.4" cy="260.1" r="1.65" fill="#0d8ff0" stroke="#021f34" stroke-width="0.6"/>
<circle cx="141.4" cy="261.1" r="1.65" fill="#0d8ff0" stroke="#021f34" stroke-width="0.6"/>
<circle cx="141.4" cy="259.1" r="1.65" fill="#0d8ff0" stroke="#021f34" stroke-width="0.6"/>
<circle cx="141.4" cy="260.6" r="1.65" fill="#0d8ff0" stroke="#021f34" stroke-width="0.6"/>
<circle cx="151.4" cy="260.1" r="1.65" fill="#0d8ff0" stroke="#021f34" stroke-width="0.6"/>
<circle cx="161.9" cy="260.1" r="1.65" fill="#0d8ff0" stroke="#021f34" stroke-width="0.6"/>
<line x1="141.4" y1="225.1" x2="141.4" y2="267.05" stroke="#1a1a1a" stroke-width="0.9" />
<line x1="140.95" y1="266.6" x2="224.35" y2="266.6" stroke="#1a1a1a" stroke-width="0.9" />
<line x1="141.4" y1="266.6" x2="141.4" y2="268.8" stroke="#1a1a1a" stroke-width="0.7" />
<text x="141.4" y="275.9" font-size="6.5" text-anchor="middle" stroke="#000" stroke-width="0.16">0.00</text>
<line x1="162.03" y1="266.6" x2="162.03" y2="268.8" stroke="#1a1a1a" stroke-width="0.7" />
<text x="162.03" y="275.9" font-size="6.5" text-anchor="middle" stroke="#000" stroke-width="0.16">0.02</text>
<line x1="182.65" y1="266.6" x2="182.65" y2="268.8" stroke="#1a1a1a" stroke-width="0.7" />
<text x="182.65" y="275.9" font-size="6.5" text-anchor="middle" stroke="#000" stroke-width="0.16">0.04</text>
<line x1="203.28" y1="266.6" x2="203.28" y2="268.8" stroke="#1a1a1a" stroke-width="0.7" />
<text x="203.28" y="275.9" font-size="6.5" text-anchor="middle" stroke="#000" stroke-width="0.16">0.06</text>
<line x1="223.9" y1="266.6" x2="223.9" y2="268.8" stroke="#1a1a1a" stroke-width="0.7" />
<text x="223.9" y="275.9" font-size="6.5" text-anchor="middle" stroke="#000" stroke-width="0.16">0.08</text>
<line x1="139.8" y1="231.6" x2="141.4" y2="231.6" stroke="#1a1a1a" stroke-width="0.6" />
<line x1="139.8" y1="241.1" x2="141.4" y2="241.1" stroke="#1a1a1a" stroke-width="0.6" />
<line x1="139.8" y1="250.6" x2="141.4" y2="250.6" stroke="#1a1a1a" stroke-width="0.6" />
<line x1="139.8" y1="260.1" x2="141.4" y2="260.1" stroke="#1a1a1a" stroke-width="0.6" />
<line x1="244.6" y1="231.6" x2="327.1" y2="231.6" stroke="#b9b9b9" stroke-width="0.7" />
<line x1="244.6" y1="241.1" x2="327.1" y2="241.1" stroke="#b9b9b9" stroke-width="0.7" />
<line x1="244.6" y1="250.6" x2="327.1" y2="250.6" stroke="#b9b9b9" stroke-width="0.7" />
<line x1="244.6" y1="260.1" x2="327.1" y2="260.1" stroke="#b9b9b9" stroke-width="0.7" />
<text x="285.5" y="224.2" font-size="9.8" text-anchor="middle" font-style="italic" stroke="#000" stroke-width="0.16">E2f8-1</text>
<path d="M243.4,228.83 L244.34,228.58 L245.28,228.38 L246.22,228.25 L247.16,228.2 L248.11,228.22 L249.05,228.3 L249.99,228.44 L250.93,228.61 L251.87,228.81 L252.81,229 L253.75,229.2 L254.69,229.38 L255.63,229.55 L256.57,229.71 L257.52,229.86 L258.46,230.02 L259.4,230.17 L260.34,230.33 L261.28,230.48 L262.22,230.64 L263.16,230.79 L264.1,230.93 L265.04,231.05 L265.98,231.14 L266.93,231.21 L267.87,231.25 L268.81,231.26 L269.75,231.23 L270.69,231.18 L271.63,231.1 L272.57,231 L273.51,230.88 L274.45,230.77 L275.39,230.65 L276.34,230.55 L277.28,230.48 L278.22,230.43 L279.16,230.43 L280.1,230.45 L280.1,232.75 L279.16,232.77 L278.22,232.77 L277.28,232.72 L276.34,232.65 L275.39,232.55 L274.45,232.43 L273.51,232.32 L272.57,232.2 L271.63,232.1 L270.69,232.02 L269.75,231.97 L268.81,231.94 L267.87,231.95 L266.93,231.99 L265.98,232.06 L265.04,232.15 L264.1,232.27 L263.16,232.41 L262.22,232.56 L261.28,232.72 L260.34,232.87 L259.4,233.03 L258.46,233.18 L257.52,233.34 L256.57,233.49 L255.63,233.65 L254.69,233.82 L253.75,234 L252.81,234.2 L251.87,234.39 L250.93,234.59 L249.99,234.76 L249.05,234.9 L248.11,234.98 L247.16,235 L246.22,234.95 L245.28,234.82 L244.34,234.62 L243.4,234.37Z" fill="#eddaa6" stroke="#333" stroke-width="0.45" stroke-linejoin="round"/>
<circle cx="244.6" cy="231.6" r="1.65" fill="#c9960c" stroke="#2c2102" stroke-width="0.6"/>
<circle cx="246.35" cy="232.9" r="1.65" fill="#c9960c" stroke="#2c2102" stroke-width="0.6"/>
<circle cx="249.6" cy="231.6" r="1.65" fill="#c9960c" stroke="#2c2102" stroke-width="0.6"/>
<circle cx="258.1" cy="231.6" r="1.65" fill="#c9960c" stroke="#2c2102" stroke-width="0.6"/>
<circle cx="278.9" cy="231.6" r="1.65" fill="#c9960c" stroke="#2c2102" stroke-width="0.6"/>
<path d="M242.65,239.23 L243.08,238.88 L243.52,238.54 L243.95,238.23 L244.39,237.98 L244.82,237.8 L245.26,237.7 L245.69,237.7 L246.13,237.78 L246.56,237.95 L247,238.18 L247.43,238.47 L247.87,238.78 L248.3,239.11 L248.73,239.44 L249.17,239.75 L249.6,240.04 L250.04,240.28 L250.47,240.49 L250.91,240.66 L251.34,240.79 L251.78,240.88 L252.21,240.94 L252.65,240.98 L253.08,240.99 L253.52,240.98 L253.95,240.95 L254.38,240.9 L254.82,240.82 L255.25,240.73 L255.69,240.62 L256.12,240.5 L256.56,240.38 L256.99,240.27 L257.43,240.18 L257.86,240.12 L258.3,240.09 L258.73,240.1 L259.17,240.15 L259.6,240.23 L259.6,241.97 L259.17,242.05 L258.73,242.1 L258.3,242.11 L257.86,242.08 L257.43,242.02 L256.99,241.93 L256.56,241.82 L256.12,241.7 L255.69,241.58 L255.25,241.47 L254.82,241.38 L254.38,241.3 L253.95,241.25 L253.52,241.22 L253.08,241.21 L252.65,241.22 L252.21,241.26 L251.78,241.32 L251.34,241.41 L250.91,241.54 L250.47,241.71 L250.04,241.92 L249.6,242.16 L249.17,242.45 L248.73,242.76 L248.3,243.09 L247.87,243.42 L247.43,243.73 L247,244.02 L246.56,244.25 L246.13,244.42 L245.69,244.5 L245.26,244.5 L244.82,244.4 L244.39,244.22 L243.95,243.97 L243.52,243.66 L243.08,243.32 L242.65,242.97Z" fill="#f9c6ab" stroke="#333" stroke-width="0.45" stroke-linejoin="round"/>
<circle cx="243.85" cy="241.1" r="1.65" fill="#e8590c" stroke="#331302" stroke-width="0.6"/>
<circle cx="245.1" cy="243.05" r="1.65" fill="#e8590c" stroke="#331302" stroke-width="0.6"/>
<circle cx="245.8" cy="240.45" r="1.65" fill="#e8590c" stroke="#331302" stroke-width="0.6"/>
<circle cx="247.6" cy="241.75" r="1.65" fill="#e8590c" stroke="#331302" stroke-width="0.6"/>
<circle cx="258.4" cy="241.1" r="1.65" fill="#e8590c" stroke="#331302" stroke-width="0.6"/>
<path d="M243.4,249.65 L243.78,249.53 L244.16,249.42 L244.55,249.32 L244.93,249.23 L245.31,249.16 L245.69,249.11 L246.07,249.08 L246.46,249.06 L246.84,249.05 L247.22,249.05 L247.6,249.05 L247.98,249.04 L248.37,249.02 L248.75,248.99 L249.13,248.93 L249.51,248.84 L249.89,248.73 L250.28,248.58 L250.66,248.41 L251.04,248.22 L251.42,248.02 L251.81,247.82 L252.19,247.64 L252.57,247.47 L252.95,247.34 L253.33,247.25 L253.72,247.2 L254.1,247.2 L254.48,247.25 L254.86,247.35 L255.24,247.49 L255.63,247.66 L256.01,247.86 L256.39,248.09 L256.77,248.32 L257.15,248.57 L257.54,248.82 L257.92,249.06 L258.3,249.29 L258.3,251.91 L257.92,252.14 L257.54,252.38 L257.15,252.63 L256.77,252.88 L256.39,253.11 L256.01,253.34 L255.63,253.54 L255.24,253.71 L254.86,253.85 L254.48,253.95 L254.1,254 L253.72,254 L253.33,253.95 L252.95,253.86 L252.57,253.73 L252.19,253.56 L251.81,253.38 L251.42,253.18 L251.04,252.98 L250.66,252.79 L250.28,252.62 L249.89,252.47 L249.51,252.36 L249.13,252.27 L248.75,252.21 L248.37,252.18 L247.98,252.16 L247.6,252.15 L247.22,252.15 L246.84,252.15 L246.46,252.14 L246.07,252.12 L245.69,252.09 L245.31,252.04 L244.93,251.97 L244.55,251.88 L244.16,251.78 L243.78,251.67 L243.4,251.55Z" fill="#bba3f4" stroke="#333" stroke-width="0.45" stroke-linejoin="round"/>
<circle cx="244.6" cy="250.6" r="1.65" fill="#6a2bd9" stroke="#17092f" stroke-width="0.6"/>
<circle cx="247.6" cy="250.6" r="1.65" fill="#6a2bd9" stroke="#17092f" stroke-width="0.6"/>
<circle cx="251.4" cy="250.6" r="1.65" fill="#6a2bd9" stroke="#17092f" stroke-width="0.6"/>
<circle cx="253.1" cy="251.9" r="1.65" fill="#6a2bd9" stroke="#17092f" stroke-width="0.6"/>
<circle cx="253.9" cy="249.95" r="1.65" fill="#6a2bd9" stroke="#17092f" stroke-width="0.6"/>
<circle cx="255.1" cy="251.9" r="1.65" fill="#6a2bd9" stroke="#17092f" stroke-width="0.6"/>
<circle cx="257.1" cy="250.6" r="1.65" fill="#6a2bd9" stroke="#17092f" stroke-width="0.6"/>
<path d="M245.9,256.77 L247.74,256.7 L249.58,256.7 L251.42,256.77 L253.25,256.89 L255.09,257.06 L256.93,257.26 L258.77,257.49 L260.61,257.71 L262.45,257.93 L264.28,258.12 L266.12,258.28 L267.96,258.42 L269.8,258.52 L271.64,258.6 L273.48,258.66 L275.32,258.7 L277.15,258.74 L278.99,258.78 L280.83,258.81 L282.67,258.85 L284.51,258.88 L286.35,258.91 L288.18,258.93 L290.02,258.94 L291.86,258.93 L293.7,258.89 L295.54,258.83 L297.38,258.75 L299.22,258.64 L301.05,258.51 L302.89,258.38 L304.73,258.24 L306.57,258.12 L308.41,258.02 L310.25,257.95 L312.08,257.91 L313.92,257.91 L315.76,257.96 L317.6,258.04 L317.6,262.16 L315.76,262.24 L313.92,262.29 L312.08,262.29 L310.25,262.25 L308.41,262.18 L306.57,262.08 L304.73,261.96 L302.89,261.82 L301.05,261.69 L299.22,261.56 L297.38,261.45 L295.54,261.37 L293.7,261.31 L291.86,261.27 L290.02,261.26 L288.18,261.27 L286.35,261.29 L284.51,261.32 L282.67,261.35 L280.83,261.39 L278.99,261.42 L277.15,261.46 L275.32,261.5 L273.48,261.54 L271.64,261.6 L269.8,261.68 L267.96,261.78 L266.12,261.92 L264.28,262.08 L262.45,262.27 L260.61,262.49 L258.77,262.71 L256.93,262.94 L255.09,263.14 L253.25,263.31 L251.42,263.43 L249.58,263.5 L247.74,263.5 L245.9,263.43Z" fill="#c9cdfa" stroke="#333" stroke-width="0.45" stroke-linejoin="round"/>
<circle cx="247.1" cy="260.1" r="1.65" fill="#0d8ff0" stroke="#021f34" stroke-width="0.6"/>
<circle cx="248.1" cy="262.05" r="1.65" fill="#0d8ff0" stroke="#021f34" stroke-width="0.6"/>
<circle cx="249.4" cy="260.1" r="1.65" fill="#0d8ff0" stroke="#021f34" stroke-width="0.6"/>
<circle cx="278.9" cy="260.1" r="1.65" fill="#0d8ff0" stroke="#021f34" stroke-width="0.6"/>
<circle cx="310.1" cy="260.1" r="1.65" fill="#0d8ff0" stroke="#021f34" stroke-width="0.6"/>
<circle cx="316.4" cy="260.1" r="1.65" fill="#0d8ff0" stroke="#021f34" stroke-width="0.6"/>
<line x1="244.6" y1="225.1" x2="244.6" y2="267.05" stroke="#1a1a1a" stroke-width="0.9" />
<line x1="244.15" y1="266.6" x2="327.55" y2="266.6" stroke="#1a1a1a" stroke-width="0.9" />
<line x1="244.6" y1="266.6" x2="244.6" y2="268.8" stroke="#1a1a1a" stroke-width="0.7" />
<text x="244.6" y="275.9" font-size="6.5" text-anchor="middle" stroke="#000" stroke-width="0.16">0.0</text>
<line x1="265.23" y1="266.6" x2="265.23" y2="268.8" stroke="#1a1a1a" stroke-width="0.7" />
<text x="265.23" y="275.9" font-size="6.5" text-anchor="middle" stroke="#000" stroke-width="0.16">0.5</text>
<line x1="285.85" y1="266.6" x2="285.85" y2="268.8" stroke="#1a1a1a" stroke-width="0.7" />
<text x="285.85" y="275.9" font-size="6.5" text-anchor="middle" stroke="#000" stroke-width="0.16">1.0</text>
<line x1="306.48" y1="266.6" x2="306.48" y2="268.8" stroke="#1a1a1a" stroke-width="0.7" />
<text x="306.48" y="275.9" font-size="6.5" text-anchor="middle" stroke="#000" stroke-width="0.16">1.5</text>
<line x1="327.1" y1="266.6" x2="327.1" y2="268.8" stroke="#1a1a1a" stroke-width="0.7" />
<text x="327.1" y="275.9" font-size="6.5" text-anchor="middle" stroke="#000" stroke-width="0.16">2.0</text>
<line x1="243" y1="231.6" x2="244.6" y2="231.6" stroke="#1a1a1a" stroke-width="0.6" />
<line x1="243" y1="241.1" x2="244.6" y2="241.1" stroke="#1a1a1a" stroke-width="0.6" />
<line x1="243" y1="250.6" x2="244.6" y2="250.6" stroke="#1a1a1a" stroke-width="0.6" />
<line x1="243" y1="260.1" x2="244.6" y2="260.1" stroke="#1a1a1a" stroke-width="0.6" />
<line x1="37.5" y1="307.3" x2="120" y2="307.3" stroke="#b9b9b9" stroke-width="0.7" />
<line x1="37.5" y1="316.8" x2="120" y2="316.8" stroke="#b9b9b9" stroke-width="0.7" />
<line x1="37.5" y1="326.3" x2="120" y2="326.3" stroke="#b9b9b9" stroke-width="0.7" />
<line x1="37.5" y1="335.8" x2="120" y2="335.8" stroke="#b9b9b9" stroke-width="0.7" />
<text x="79" y="299.6" font-size="9.8" text-anchor="middle" font-style="italic" stroke="#000" stroke-width="0.16">E2f8-2</text>
<path d="M37.6,304.99 L38.58,304.65 L39.55,304.36 L40.53,304.12 L41.51,303.97 L42.48,303.9 L43.46,303.92 L44.44,304.02 L45.42,304.18 L46.39,304.38 L47.37,304.62 L48.35,304.86 L49.32,305.09 L50.3,305.3 L51.28,305.49 L52.25,305.64 L53.23,305.77 L54.21,305.87 L55.18,305.96 L56.16,306.04 L57.14,306.11 L58.12,306.2 L59.09,306.29 L60.07,306.4 L61.05,306.5 L62.02,306.61 L63,306.71 L63.98,306.8 L64.95,306.85 L65.93,306.88 L66.91,306.88 L67.88,306.85 L68.86,306.79 L69.84,306.71 L70.82,306.63 L71.79,306.55 L72.77,306.49 L73.75,306.45 L74.72,306.44 L75.7,306.47 L75.7,308.13 L74.72,308.16 L73.75,308.15 L72.77,308.11 L71.79,308.05 L70.82,307.97 L69.84,307.89 L68.86,307.81 L67.88,307.75 L66.91,307.72 L65.93,307.72 L64.95,307.75 L63.98,307.8 L63,307.89 L62.02,307.99 L61.05,308.1 L60.07,308.2 L59.09,308.31 L58.12,308.4 L57.14,308.49 L56.16,308.56 L55.18,308.64 L54.21,308.73 L53.23,308.83 L52.25,308.96 L51.28,309.11 L50.3,309.3 L49.32,309.51 L48.35,309.74 L47.37,309.98 L46.39,310.22 L45.42,310.42 L44.44,310.58 L43.46,310.68 L42.48,310.7 L41.51,310.63 L40.53,310.48 L39.55,310.24 L38.58,309.95 L37.6,309.61Z" fill="#eddaa6" stroke="#333" stroke-width="0.45" stroke-linejoin="round"/>
<circle cx="38.8" cy="307.3" r="1.65" fill="#c9960c" stroke="#2c2102" stroke-width="0.6"/>
<circle cx="41.3" cy="307.3" r="1.65" fill="#c9960c" stroke="#2c2102" stroke-width="0.6"/>
<circle cx="43" cy="308.6" r="1.65" fill="#c9960c" stroke="#2c2102" stroke-width="0.6"/>
<circle cx="44.3" cy="306.65" r="1.65" fill="#c9960c" stroke="#2c2102" stroke-width="0.6"/>
<circle cx="50" cy="307.3" r="1.65" fill="#c9960c" stroke="#2c2102" stroke-width="0.6"/>
<circle cx="58" cy="307.3" r="1.65" fill="#c9960c" stroke="#2c2102" stroke-width="0.6"/>
<circle cx="74.5" cy="307.3" r="1.65" fill="#c9960c" stroke="#2c2102" stroke-width="0.6"/>
<path d="M36.3,314.54 L36.87,314.21 L37.45,313.91 L38.02,313.67 L38.6,313.49 L39.17,313.4 L39.75,313.4 L40.32,313.49 L40.89,313.65 L41.47,313.89 L42.04,314.18 L42.62,314.5 L43.19,314.84 L43.77,315.17 L44.34,315.48 L44.92,315.76 L45.49,316.01 L46.06,316.21 L46.64,316.37 L47.21,316.5 L47.79,316.59 L48.36,316.65 L48.94,316.69 L49.51,316.71 L50.08,316.72 L50.66,316.7 L51.23,316.67 L51.81,316.62 L52.38,316.55 L52.96,316.47 L53.53,316.38 L54.11,316.27 L54.68,316.16 L55.25,316.06 L55.83,315.97 L56.4,315.89 L56.98,315.85 L57.55,315.83 L58.13,315.85 L58.7,315.9 L58.7,317.7 L58.13,317.75 L57.55,317.77 L56.98,317.75 L56.4,317.71 L55.83,317.63 L55.25,317.54 L54.68,317.44 L54.11,317.33 L53.53,317.22 L52.96,317.13 L52.38,317.05 L51.81,316.98 L51.23,316.93 L50.66,316.9 L50.08,316.88 L49.51,316.89 L48.94,316.91 L48.36,316.95 L47.79,317.01 L47.21,317.1 L46.64,317.23 L46.06,317.39 L45.49,317.59 L44.92,317.84 L44.34,318.12 L43.77,318.43 L43.19,318.76 L42.62,319.1 L42.04,319.42 L41.47,319.71 L40.89,319.95 L40.32,320.11 L39.75,320.2 L39.17,320.2 L38.6,320.11 L38.02,319.93 L37.45,319.69 L36.87,319.39 L36.3,319.06Z" fill="#f9c6ab" stroke="#333" stroke-width="0.45" stroke-linejoin="round"/>
<circle cx="37.5" cy="316.8" r="1.65" fill="#e8590c" stroke="#331302" stroke-width="0.6"/>
<circle cx="38.8" cy="318.75" r="1.65" fill="#e8590c" stroke="#331302" stroke-width="0.6"/>
<circle cx="40" cy="316.8" r="1.65" fill="#e8590c" stroke="#331302" stroke-width="0.6"/>
<circle cx="41.8" cy="318.1" r="1.65" fill="#e8590c" stroke="#331302" stroke-width="0.6"/>
<circle cx="57.5" cy="316.8" r="1.65" fill="#e8590c" stroke="#331302" stroke-width="0.6"/>
<path d="M38.8,324.72 L39.23,324.45 L39.66,324.2 L40.08,323.97 L40.51,323.77 L40.94,323.6 L41.37,323.46 L41.8,323.36 L42.23,323.28 L42.65,323.22 L43.08,323.18 L43.51,323.14 L43.94,323.1 L44.37,323.06 L44.79,323.03 L45.22,323 L45.65,322.97 L46.08,322.95 L46.51,322.92 L46.94,322.91 L47.36,322.9 L47.79,322.91 L48.22,322.93 L48.65,322.99 L49.08,323.07 L49.51,323.2 L49.93,323.35 L50.36,323.53 L50.79,323.73 L51.22,323.92 L51.65,324.1 L52.07,324.26 L52.5,324.39 L52.93,324.5 L53.36,324.59 L53.79,324.67 L54.22,324.76 L54.64,324.87 L55.07,324.99 L55.5,325.14 L55.5,327.46 L55.07,327.61 L54.64,327.73 L54.22,327.84 L53.79,327.93 L53.36,328.01 L52.93,328.1 L52.5,328.21 L52.07,328.34 L51.65,328.5 L51.22,328.68 L50.79,328.87 L50.36,329.07 L49.93,329.25 L49.51,329.4 L49.08,329.53 L48.65,329.61 L48.22,329.67 L47.79,329.69 L47.36,329.7 L46.94,329.69 L46.51,329.68 L46.08,329.65 L45.65,329.63 L45.22,329.6 L44.79,329.57 L44.37,329.54 L43.94,329.5 L43.51,329.46 L43.08,329.42 L42.65,329.38 L42.23,329.32 L41.8,329.24 L41.37,329.14 L40.94,329 L40.51,328.83 L40.08,328.63 L39.66,328.4 L39.23,328.15 L38.8,327.88Z" fill="#bba3f4" stroke="#333" stroke-width="0.45" stroke-linejoin="round"/>
<circle cx="40" cy="326.3" r="1.65" fill="#6a2bd9" stroke="#17092f" stroke-width="0.6"/>
<circle cx="42" cy="326.3" r="1.65" fill="#6a2bd9" stroke="#17092f" stroke-width="0.6"/>
<circle cx="44.5" cy="326.3" r="1.65" fill="#6a2bd9" stroke="#17092f" stroke-width="0.6"/>
<circle cx="46.3" cy="327.6" r="1.65" fill="#6a2bd9" stroke="#17092f" stroke-width="0.6"/>
<circle cx="48.8" cy="326.3" r="1.65" fill="#6a2bd9" stroke="#17092f" stroke-width="0.6"/>
<circle cx="50" cy="328.25" r="1.65" fill="#6a2bd9" stroke="#17092f" stroke-width="0.6"/>
<circle cx="54.3" cy="326.3" r="1.65" fill="#6a2bd9" stroke="#17092f" stroke-width="0.6"/>
<path d="M37.6,332.83 L39.35,332.62 L41.09,332.48 L42.84,332.4 L44.58,332.4 L46.33,332.47 L48.08,332.6 L49.82,332.79 L51.57,333.01 L53.32,333.25 L55.06,333.5 L56.81,333.73 L58.55,333.95 L60.3,334.13 L62.05,334.29 L63.79,334.41 L65.54,334.51 L67.28,334.59 L69.03,334.65 L70.78,334.71 L72.52,334.76 L74.27,334.81 L76.02,334.86 L77.76,334.9 L79.51,334.93 L81.25,334.94 L83,334.93 L84.75,334.91 L86.49,334.85 L88.24,334.77 L89.98,334.67 L91.73,334.56 L93.48,334.44 L95.22,334.32 L96.97,334.21 L98.72,334.13 L100.46,334.08 L102.21,334.07 L103.95,334.09 L105.7,334.16 L105.7,337.44 L103.95,337.51 L102.21,337.53 L100.46,337.52 L98.72,337.47 L96.97,337.39 L95.22,337.28 L93.48,337.16 L91.73,337.04 L89.98,336.93 L88.24,336.83 L86.49,336.75 L84.75,336.69 L83,336.67 L81.25,336.66 L79.51,336.67 L77.76,336.7 L76.02,336.74 L74.27,336.79 L72.52,336.84 L70.78,336.89 L69.03,336.95 L67.28,337.01 L65.54,337.09 L63.79,337.19 L62.05,337.31 L60.3,337.47 L58.55,337.65 L56.81,337.87 L55.06,338.1 L53.32,338.35 L51.57,338.59 L49.82,338.81 L48.08,339 L46.33,339.13 L44.58,339.2 L42.84,339.2 L41.09,339.12 L39.35,338.98 L37.6,338.77Z" fill="#c9cdfa" stroke="#333" stroke-width="0.45" stroke-linejoin="round"/>
<circle cx="38.8" cy="335.8" r="1.65" fill="#0d8ff0" stroke="#021f34" stroke-width="0.6"/>
<circle cx="42" cy="335.8" r="1.65" fill="#0d8ff0" stroke="#021f34" stroke-width="0.6"/>
<circle cx="45.8" cy="335.8" r="1.65" fill="#0d8ff0" stroke="#021f34" stroke-width="0.6"/>
<circle cx="46.8" cy="337.75" r="1.65" fill="#0d8ff0" stroke="#021f34" stroke-width="0.6"/>
<circle cx="70.8" cy="335.8" r="1.65" fill="#0d8ff0" stroke="#021f34" stroke-width="0.6"/>
<circle cx="100" cy="335.8" r="1.65" fill="#0d8ff0" stroke="#021f34" stroke-width="0.6"/>
<circle cx="104.5" cy="335.8" r="1.65" fill="#0d8ff0" stroke="#021f34" stroke-width="0.6"/>
<line x1="37.5" y1="300.8" x2="37.5" y2="342.75" stroke="#1a1a1a" stroke-width="0.9" />
<line x1="37.05" y1="342.3" x2="120.45" y2="342.3" stroke="#1a1a1a" stroke-width="0.9" />
<line x1="37.5" y1="342.3" x2="37.5" y2="344.5" stroke="#1a1a1a" stroke-width="0.7" />
<text x="37.5" y="351.6" font-size="6.5" text-anchor="middle" stroke="#000" stroke-width="0.16">0.0</text>
<line x1="54" y1="342.3" x2="54" y2="344.5" stroke="#1a1a1a" stroke-width="0.7" />
<text x="54" y="351.6" font-size="6.5" text-anchor="middle" stroke="#000" stroke-width="0.16">0.5</text>
<line x1="70.5" y1="342.3" x2="70.5" y2="344.5" stroke="#1a1a1a" stroke-width="0.7" />
<text x="70.5" y="351.6" font-size="6.5" text-anchor="middle" stroke="#000" stroke-width="0.16">1.0</text>
<line x1="87" y1="342.3" x2="87" y2="344.5" stroke="#1a1a1a" stroke-width="0.7" />
<text x="87" y="351.6" font-size="6.5" text-anchor="middle" stroke="#000" stroke-width="0.16">1.5</text>
<line x1="103.5" y1="342.3" x2="103.5" y2="344.5" stroke="#1a1a1a" stroke-width="0.7" />
<text x="103.5" y="351.6" font-size="6.5" text-anchor="middle" stroke="#000" stroke-width="0.16">2.0</text>
<line x1="120" y1="342.3" x2="120" y2="344.5" stroke="#1a1a1a" stroke-width="0.7" />
<text x="120" y="351.6" font-size="6.5" text-anchor="middle" stroke="#000" stroke-width="0.16">2.5</text>
<line x1="35.9" y1="307.3" x2="37.5" y2="307.3" stroke="#1a1a1a" stroke-width="0.6" />
<line x1="35.9" y1="316.8" x2="37.5" y2="316.8" stroke="#1a1a1a" stroke-width="0.6" />
<line x1="35.9" y1="326.3" x2="37.5" y2="326.3" stroke="#1a1a1a" stroke-width="0.6" />
<line x1="35.9" y1="335.8" x2="37.5" y2="335.8" stroke="#1a1a1a" stroke-width="0.6" />
<line x1="141.4" y1="307.3" x2="223.9" y2="307.3" stroke="#b9b9b9" stroke-width="0.7" />
<line x1="141.4" y1="316.8" x2="223.9" y2="316.8" stroke="#b9b9b9" stroke-width="0.7" />
<line x1="141.4" y1="326.3" x2="223.9" y2="326.3" stroke="#b9b9b9" stroke-width="0.7" />
<line x1="141.4" y1="335.8" x2="223.9" y2="335.8" stroke="#b9b9b9" stroke-width="0.7" />
<text x="183" y="299.6" font-size="9.8" text-anchor="middle" font-style="italic" stroke="#000" stroke-width="0.16">Mitch1</text>
<path d="M141,305.75 L141.18,305.62 L141.35,305.49 L141.53,305.36 L141.71,305.24 L141.88,305.11 L142.06,304.98 L142.24,304.86 L142.42,304.74 L142.59,304.62 L142.77,304.51 L142.95,304.41 L143.12,304.31 L143.3,304.22 L143.48,304.15 L143.65,304.08 L143.83,304.02 L144.01,303.97 L144.18,303.94 L144.36,303.91 L144.54,303.9 L144.72,303.9 L144.89,303.91 L145.07,303.94 L145.25,303.98 L145.42,304.03 L145.6,304.09 L145.78,304.16 L145.95,304.24 L146.13,304.34 L146.31,304.44 L146.48,304.55 L146.66,304.67 L146.84,304.79 L147.02,304.92 L147.19,305.05 L147.37,305.18 L147.55,305.32 L147.72,305.46 L147.9,305.59 L147.9,309.01 L147.72,309.14 L147.55,309.28 L147.37,309.42 L147.19,309.55 L147.02,309.68 L146.84,309.81 L146.66,309.93 L146.48,310.05 L146.31,310.16 L146.13,310.26 L145.95,310.36 L145.78,310.44 L145.6,310.51 L145.42,310.57 L145.25,310.62 L145.07,310.66 L144.89,310.69 L144.72,310.7 L144.54,310.7 L144.36,310.69 L144.18,310.66 L144.01,310.63 L143.83,310.58 L143.65,310.52 L143.48,310.45 L143.3,310.38 L143.12,310.29 L142.95,310.19 L142.77,310.09 L142.59,309.98 L142.42,309.86 L142.24,309.74 L142.06,309.62 L141.88,309.49 L141.71,309.36 L141.53,309.24 L141.35,309.11 L141.18,308.98 L141,308.85Z" fill="#eddaa6" stroke="#333" stroke-width="0.45" stroke-linejoin="round"/>
<circle cx="142.2" cy="307.3" r="1.65" fill="#c9960c" stroke="#2c2102" stroke-width="0.6"/>
<circle cx="143.4" cy="309.25" r="1.65" fill="#c9960c" stroke="#2c2102" stroke-width="0.6"/>
<circle cx="144.7" cy="307.3" r="1.65" fill="#c9960c" stroke="#2c2102" stroke-width="0.6"/>
<circle cx="145.7" cy="309.25" r="1.65" fill="#c9960c" stroke="#2c2102" stroke-width="0.6"/>
<circle cx="146.7" cy="307.3" r="1.65" fill="#c9960c" stroke="#2c2102" stroke-width="0.6"/>
<path d="M141.5,314.93 L142.01,314.61 L142.52,314.29 L143.03,314.01 L143.54,313.76 L144.05,313.57 L144.56,313.45 L145.07,313.4 L145.58,313.42 L146.09,313.52 L146.6,313.69 L147.11,313.91 L147.62,314.17 L148.13,314.46 L148.64,314.76 L149.15,315.05 L149.66,315.32 L150.17,315.54 L150.68,315.72 L151.19,315.84 L151.71,315.9 L152.22,315.91 L152.73,315.88 L153.24,315.82 L153.75,315.74 L154.26,315.66 L154.77,315.59 L155.28,315.53 L155.79,315.49 L156.3,315.46 L156.81,315.45 L157.32,315.44 L157.83,315.44 L158.34,315.45 L158.85,315.46 L159.36,315.48 L159.87,315.52 L160.38,315.58 L160.89,315.67 L161.4,315.77 L161.4,317.83 L160.89,317.93 L160.38,318.02 L159.87,318.08 L159.36,318.12 L158.85,318.14 L158.34,318.15 L157.83,318.16 L157.32,318.16 L156.81,318.15 L156.3,318.14 L155.79,318.11 L155.28,318.07 L154.77,318.01 L154.26,317.94 L153.75,317.86 L153.24,317.78 L152.73,317.72 L152.22,317.69 L151.71,317.7 L151.19,317.76 L150.68,317.88 L150.17,318.06 L149.66,318.28 L149.15,318.55 L148.64,318.84 L148.13,319.14 L147.62,319.43 L147.11,319.69 L146.6,319.91 L146.09,320.08 L145.58,320.18 L145.07,320.2 L144.56,320.15 L144.05,320.03 L143.54,319.84 L143.03,319.59 L142.52,319.31 L142.01,318.99 L141.5,318.67Z" fill="#f9c6ab" stroke="#333" stroke-width="0.45" stroke-linejoin="round"/>
<circle cx="142.7" cy="316.8" r="1.65" fill="#e8590c" stroke="#331302" stroke-width="0.6"/>
<circle cx="144.4" cy="318.1" r="1.65" fill="#e8590c" stroke="#331302" stroke-width="0.6"/>
<circle cx="145.9" cy="316.8" r="1.65" fill="#e8590c" stroke="#331302" stroke-width="0.6"/>
<circle cx="147.7" cy="318.1" r="1.65" fill="#e8590c" stroke="#331302" stroke-width="0.6"/>
<circle cx="155.2" cy="316.8" r="1.65" fill="#e8590c" stroke="#331302" stroke-width="0.6"/>
<circle cx="160.2" cy="316.8" r="1.65" fill="#e8590c" stroke="#331302" stroke-width="0.6"/>
<path d="M140.2,323.57 L141.09,323.29 L141.99,323.07 L142.88,322.94 L143.78,322.9 L144.67,322.95 L145.57,323.09 L146.46,323.29 L147.36,323.55 L148.25,323.85 L149.15,324.17 L150.04,324.48 L150.94,324.79 L151.83,325.07 L152.73,325.32 L153.62,325.54 L154.52,325.72 L155.41,325.87 L156.31,325.99 L157.2,326.08 L158.1,326.15 L158.99,326.2 L159.89,326.23 L160.78,326.24 L161.68,326.25 L162.57,326.24 L163.47,326.22 L164.36,326.19 L165.26,326.15 L166.15,326.09 L167.05,326.02 L167.94,325.94 L168.84,325.86 L169.73,325.77 L170.63,325.69 L171.52,325.61 L172.42,325.56 L173.31,325.53 L174.21,325.52 L175.1,325.55 L175.1,327.05 L174.21,327.08 L173.31,327.07 L172.42,327.04 L171.52,326.99 L170.63,326.91 L169.73,326.83 L168.84,326.74 L167.94,326.66 L167.05,326.58 L166.15,326.51 L165.26,326.45 L164.36,326.41 L163.47,326.38 L162.57,326.36 L161.68,326.35 L160.78,326.36 L159.89,326.37 L158.99,326.4 L158.1,326.45 L157.2,326.52 L156.31,326.61 L155.41,326.73 L154.52,326.88 L153.62,327.06 L152.73,327.28 L151.83,327.53 L150.94,327.81 L150.04,328.12 L149.15,328.43 L148.25,328.75 L147.36,329.05 L146.46,329.31 L145.57,329.51 L144.67,329.65 L143.78,329.7 L142.88,329.66 L141.99,329.53 L141.09,329.31 L140.2,329.03Z" fill="#bba3f4" stroke="#333" stroke-width="0.45" stroke-linejoin="round"/>
<circle cx="141.4" cy="326.3" r="1.65" fill="#6a2bd9" stroke="#17092f" stroke-width="0.6"/>
<circle cx="142.2" cy="328.25" r="1.65" fill="#6a2bd9" stroke="#17092f" stroke-width="0.6"/>
<circle cx="143.4" cy="326.3" r="1.65" fill="#6a2bd9" stroke="#17092f" stroke-width="0.6"/>
<circle cx="144.7" cy="328.25" r="1.65" fill="#6a2bd9" stroke="#17092f" stroke-width="0.6"/>
<circle cx="148.9" cy="326.3" r="1.65" fill="#6a2bd9" stroke="#17092f" stroke-width="0.6"/>
<circle cx="173.9" cy="326.3" r="1.65" fill="#6a2bd9" stroke="#17092f" stroke-width="0.6"/>
<path d="M140.2,332.98 L141.82,332.72 L143.44,332.53 L145.06,332.42 L146.68,332.4 L148.3,332.46 L149.92,332.59 L151.54,332.77 L153.16,332.99 L154.78,333.23 L156.41,333.48 L158.03,333.7 L159.65,333.91 L161.27,334.1 L162.89,334.26 L164.51,334.41 L166.13,334.55 L167.75,334.68 L169.37,334.81 L170.99,334.94 L172.61,335.07 L174.23,335.19 L175.85,335.3 L177.47,335.4 L179.09,335.48 L180.71,335.54 L182.33,335.57 L183.95,335.59 L185.57,335.57 L187.19,335.54 L188.82,335.49 L190.44,335.41 L192.06,335.32 L193.68,335.23 L195.3,335.13 L196.92,335.05 L198.54,334.97 L200.16,334.92 L201.78,334.9 L203.4,334.91 L203.4,336.69 L201.78,336.7 L200.16,336.68 L198.54,336.63 L196.92,336.55 L195.3,336.47 L193.68,336.37 L192.06,336.28 L190.44,336.19 L188.82,336.11 L187.19,336.06 L185.57,336.03 L183.95,336.01 L182.33,336.03 L180.71,336.06 L179.09,336.12 L177.47,336.2 L175.85,336.3 L174.23,336.41 L172.61,336.53 L170.99,336.66 L169.37,336.79 L167.75,336.92 L166.13,337.05 L164.51,337.19 L162.89,337.34 L161.27,337.5 L159.65,337.69 L158.03,337.9 L156.41,338.12 L154.78,338.37 L153.16,338.61 L151.54,338.83 L149.92,339.01 L148.3,339.14 L146.68,339.2 L145.06,339.18 L143.44,339.07 L141.82,338.88 L140.2,338.62Z" fill="#c9cdfa" stroke="#333" stroke-width="0.45" stroke-linejoin="round"/>
<circle cx="141.4" cy="335.8" r="1.65" fill="#0d8ff0" stroke="#021f34" stroke-width="0.6"/>
<circle cx="143.9" cy="335.8" r="1.65" fill="#0d8ff0" stroke="#021f34" stroke-width="0.6"/>
<circle cx="147.2" cy="335.8" r="1.65" fill="#0d8ff0" stroke="#021f34" stroke-width="0.6"/>
<circle cx="150.9" cy="335.8" r="1.65" fill="#0d8ff0" stroke="#021f34" stroke-width="0.6"/>
<circle cx="165.7" cy="335.8" r="1.65" fill="#0d8ff0" stroke="#021f34" stroke-width="0.6"/>
<circle cx="202.2" cy="335.8" r="1.65" fill="#0d8ff0" stroke="#021f34" stroke-width="0.6"/>
<line x1="141.4" y1="300.8" x2="141.4" y2="342.75" stroke="#1a1a1a" stroke-width="0.9" />
<line x1="140.95" y1="342.3" x2="224.35" y2="342.3" stroke="#1a1a1a" stroke-width="0.9" />
<line x1="141.4" y1="342.3" x2="141.4" y2="344.5" stroke="#1a1a1a" stroke-width="0.7" />
<text x="141.4" y="351.6" font-size="6.5" text-anchor="middle" stroke="#000" stroke-width="0.16">0</text>
<line x1="162.03" y1="342.3" x2="162.03" y2="344.5" stroke="#1a1a1a" stroke-width="0.7" />
<text x="162.03" y="351.6" font-size="6.5" text-anchor="middle" stroke="#000" stroke-width="0.16">1</text>
<line x1="182.65" y1="342.3" x2="182.65" y2="344.5" stroke="#1a1a1a" stroke-width="0.7" />
<text x="182.65" y="351.6" font-size="6.5" text-anchor="middle" stroke="#000" stroke-width="0.16">2</text>
<line x1="203.28" y1="342.3" x2="203.28" y2="344.5" stroke="#1a1a1a" stroke-width="0.7" />
<text x="203.28" y="351.6" font-size="6.5" text-anchor="middle" stroke="#000" stroke-width="0.16">3</text>
<line x1="223.9" y1="342.3" x2="223.9" y2="344.5" stroke="#1a1a1a" stroke-width="0.7" />
<text x="223.9" y="351.6" font-size="6.5" text-anchor="middle" stroke="#000" stroke-width="0.16">4</text>
<line x1="139.8" y1="307.3" x2="141.4" y2="307.3" stroke="#1a1a1a" stroke-width="0.6" />
<line x1="139.8" y1="316.8" x2="141.4" y2="316.8" stroke="#1a1a1a" stroke-width="0.6" />
<line x1="139.8" y1="326.3" x2="141.4" y2="326.3" stroke="#1a1a1a" stroke-width="0.6" />
<line x1="139.8" y1="335.8" x2="141.4" y2="335.8" stroke="#1a1a1a" stroke-width="0.6" />
<line x1="245.8" y1="307.3" x2="328.3" y2="307.3" stroke="#b9b9b9" stroke-width="0.7" />
<line x1="245.8" y1="316.8" x2="328.3" y2="316.8" stroke="#b9b9b9" stroke-width="0.7" />
<line x1="245.8" y1="326.3" x2="328.3" y2="326.3" stroke="#b9b9b9" stroke-width="0.7" />
<line x1="245.8" y1="335.8" x2="328.3" y2="335.8" stroke="#b9b9b9" stroke-width="0.7" />
<text x="287" y="299.6" font-size="9.8" text-anchor="middle" font-style="italic" stroke="#000" stroke-width="0.16">Slc20a1-1</text>
<ellipse cx="245.8" cy="307.3" rx="1.3" ry="3.4" fill="#eddaa6" stroke="#333" stroke-width="0.45"/>
<circle cx="245.8" cy="307.3" r="1.65" fill="#c9960c" stroke="#2c2102" stroke-width="0.6"/>
<circle cx="245.8" cy="308.3" r="1.65" fill="#c9960c" stroke="#2c2102" stroke-width="0.6"/>
<circle cx="245.8" cy="306.3" r="1.65" fill="#c9960c" stroke="#2c2102" stroke-width="0.6"/>
<circle cx="245.8" cy="307.8" r="1.65" fill="#c9960c" stroke="#2c2102" stroke-width="0.6"/>
<circle cx="245.8" cy="306.8" r="1.65" fill="#c9960c" stroke="#2c2102" stroke-width="0.6"/>
<path d="M244.6,313.55 L245.3,313.42 L246.01,313.4 L246.71,313.49 L247.41,313.67 L248.11,313.94 L248.82,314.27 L249.52,314.63 L250.22,315 L250.92,315.35 L251.63,315.68 L252.33,315.95 L253.03,316.18 L253.73,316.36 L254.44,316.5 L255.14,316.6 L255.84,316.67 L256.54,316.72 L257.25,316.75 L257.95,316.77 L258.65,316.78 L259.35,316.78 L260.06,316.78 L260.76,316.77 L261.46,316.76 L262.16,316.74 L262.87,316.71 L263.57,316.68 L264.27,316.63 L264.97,316.58 L265.68,316.51 L266.38,316.44 L267.08,316.37 L267.78,316.29 L268.49,316.23 L269.19,316.17 L269.89,316.14 L270.59,316.12 L271.3,316.12 L272,316.15 L272,317.45 L271.3,317.48 L270.59,317.48 L269.89,317.46 L269.19,317.43 L268.49,317.37 L267.78,317.31 L267.08,317.23 L266.38,317.16 L265.68,317.09 L264.97,317.02 L264.27,316.97 L263.57,316.92 L262.87,316.89 L262.16,316.86 L261.46,316.84 L260.76,316.83 L260.06,316.82 L259.35,316.82 L258.65,316.82 L257.95,316.83 L257.25,316.85 L256.54,316.88 L255.84,316.93 L255.14,317 L254.44,317.1 L253.73,317.24 L253.03,317.42 L252.33,317.65 L251.63,317.92 L250.92,318.25 L250.22,318.6 L249.52,318.97 L248.82,319.33 L248.11,319.66 L247.41,319.93 L246.71,320.11 L246.01,320.2 L245.3,320.18 L244.6,320.05Z" fill="#f9c6ab" stroke="#333" stroke-width="0.45" stroke-linejoin="round"/>
<circle cx="245.8" cy="316.8" r="1.65" fill="#e8590c" stroke="#331302" stroke-width="0.6"/>
<circle cx="245.8" cy="317.8" r="1.65" fill="#e8590c" stroke="#331302" stroke-width="0.6"/>
<circle cx="245.8" cy="315.8" r="1.65" fill="#e8590c" stroke="#331302" stroke-width="0.6"/>
<circle cx="245.8" cy="317.3" r="1.65" fill="#e8590c" stroke="#331302" stroke-width="0.6"/>
<circle cx="245.8" cy="316.3" r="1.65" fill="#e8590c" stroke="#331302" stroke-width="0.6"/>
<circle cx="270.8" cy="316.8" r="1.65" fill="#e8590c" stroke="#331302" stroke-width="0.6"/>
<path d="M244.6,323.16 L245.19,322.97 L245.77,322.9 L246.36,322.96 L246.95,323.14 L247.54,323.42 L248.12,323.77 L248.71,324.17 L249.3,324.57 L249.88,324.94 L250.47,325.28 L251.06,325.56 L251.65,325.78 L252.23,325.95 L252.82,326.07 L253.41,326.16 L253.99,326.22 L254.58,326.25 L255.17,326.27 L255.76,326.28 L256.34,326.29 L256.93,326.29 L257.52,326.29 L258.11,326.29 L258.69,326.28 L259.28,326.26 L259.87,326.24 L260.45,326.21 L261.04,326.18 L261.63,326.13 L262.22,326.07 L262.8,326.01 L263.39,325.94 L263.98,325.88 L264.56,325.82 L265.15,325.77 L265.74,325.74 L266.33,325.73 L266.91,325.74 L267.5,325.78 L267.5,326.82 L266.91,326.86 L266.33,326.87 L265.74,326.86 L265.15,326.83 L264.56,326.78 L263.98,326.72 L263.39,326.66 L262.8,326.59 L262.22,326.53 L261.63,326.47 L261.04,326.42 L260.45,326.39 L259.87,326.36 L259.28,326.34 L258.69,326.32 L258.11,326.31 L257.52,326.31 L256.93,326.31 L256.34,326.31 L255.76,326.32 L255.17,326.33 L254.58,326.35 L253.99,326.38 L253.41,326.44 L252.82,326.53 L252.23,326.65 L251.65,326.82 L251.06,327.04 L250.47,327.32 L249.88,327.66 L249.3,328.03 L248.71,328.43 L248.12,328.83 L247.54,329.18 L246.95,329.46 L246.36,329.64 L245.77,329.7 L245.19,329.63 L244.6,329.44Z" fill="#bba3f4" stroke="#333" stroke-width="0.45" stroke-linejoin="round"/>
<circle cx="245.8" cy="326.3" r="1.65" fill="#6a2bd9" stroke="#17092f" stroke-width="0.6"/>
<circle cx="245.8" cy="327.3" r="1.65" fill="#6a2bd9" stroke="#17092f" stroke-width="0.6"/>
<circle cx="245.8" cy="325.3" r="1.65" fill="#6a2bd9" stroke="#17092f" stroke-width="0.6"/>
<circle cx="245.8" cy="326.8" r="1.65" fill="#6a2bd9" stroke="#17092f" stroke-width="0.6"/>
<circle cx="245.8" cy="325.8" r="1.65" fill="#6a2bd9" stroke="#17092f" stroke-width="0.6"/>
<circle cx="245.8" cy="327.1" r="1.65" fill="#6a2bd9" stroke="#17092f" stroke-width="0.6"/>
<circle cx="266.3" cy="326.3" r="1.65" fill="#6a2bd9" stroke="#17092f" stroke-width="0.6"/>
<path d="M244.6,332.41 L246.5,332.4 L248.41,332.48 L250.31,332.66 L252.21,332.9 L254.11,333.21 L256.02,333.55 L257.92,333.9 L259.82,334.24 L261.72,334.55 L263.63,334.83 L265.53,335.07 L267.43,335.27 L269.33,335.42 L271.24,335.54 L273.14,335.62 L275.04,335.68 L276.94,335.73 L278.85,335.75 L280.75,335.77 L282.65,335.78 L284.55,335.78 L286.46,335.78 L288.36,335.77 L290.26,335.76 L292.16,335.75 L294.07,335.72 L295.97,335.69 L297.87,335.65 L299.77,335.61 L301.68,335.55 L303.58,335.49 L305.48,335.42 L307.38,335.35 L309.29,335.28 L311.19,335.22 L313.09,335.17 L314.99,335.14 L316.9,335.12 L318.8,335.12 L318.8,336.48 L316.9,336.48 L314.99,336.46 L313.09,336.43 L311.19,336.38 L309.29,336.32 L307.38,336.25 L305.48,336.18 L303.58,336.11 L301.68,336.05 L299.77,335.99 L297.87,335.95 L295.97,335.91 L294.07,335.88 L292.16,335.85 L290.26,335.84 L288.36,335.83 L286.46,335.82 L284.55,335.82 L282.65,335.82 L280.75,335.83 L278.85,335.85 L276.94,335.87 L275.04,335.92 L273.14,335.98 L271.24,336.06 L269.33,336.18 L267.43,336.33 L265.53,336.53 L263.63,336.77 L261.72,337.05 L259.82,337.36 L257.92,337.7 L256.02,338.05 L254.11,338.39 L252.21,338.7 L250.31,338.94 L248.41,339.12 L246.5,339.2 L244.6,339.19Z" fill="#c9cdfa" stroke="#333" stroke-width="0.45" stroke-linejoin="round"/>
<circle cx="245.8" cy="335.8" r="1.65" fill="#0d8ff0" stroke="#021f34" stroke-width="0.6"/>
<circle cx="245.8" cy="336.8" r="1.65" fill="#0d8ff0" stroke="#021f34" stroke-width="0.6"/>
<circle cx="245.8" cy="334.8" r="1.65" fill="#0d8ff0" stroke="#021f34" stroke-width="0.6"/>
<circle cx="245.8" cy="336.3" r="1.65" fill="#0d8ff0" stroke="#021f34" stroke-width="0.6"/>
<circle cx="245.8" cy="335.3" r="1.65" fill="#0d8ff0" stroke="#021f34" stroke-width="0.6"/>
<circle cx="317.6" cy="335.8" r="1.65" fill="#0d8ff0" stroke="#021f34" stroke-width="0.6"/>
<line x1="245.8" y1="300.8" x2="245.8" y2="342.75" stroke="#1a1a1a" stroke-width="0.9" />
<line x1="245.35" y1="342.3" x2="328.75" y2="342.3" stroke="#1a1a1a" stroke-width="0.9" />
<line x1="245.8" y1="342.3" x2="245.8" y2="344.5" stroke="#1a1a1a" stroke-width="0.7" />
<text x="245.8" y="351.6" font-size="6.5" text-anchor="middle" stroke="#000" stroke-width="0.16">0.00</text>
<line x1="266.43" y1="342.3" x2="266.43" y2="344.5" stroke="#1a1a1a" stroke-width="0.7" />
<text x="266.43" y="351.6" font-size="6.5" text-anchor="middle" stroke="#000" stroke-width="0.16">0.01</text>
<line x1="287.05" y1="342.3" x2="287.05" y2="344.5" stroke="#1a1a1a" stroke-width="0.7" />
<text x="287.05" y="351.6" font-size="6.5" text-anchor="middle" stroke="#000" stroke-width="0.16">0.02</text>
<line x1="307.68" y1="342.3" x2="307.68" y2="344.5" stroke="#1a1a1a" stroke-width="0.7" />
<text x="307.68" y="351.6" font-size="6.5" text-anchor="middle" stroke="#000" stroke-width="0.16">0.03</text>
<line x1="328.3" y1="342.3" x2="328.3" y2="344.5" stroke="#1a1a1a" stroke-width="0.7" />
<text x="328.3" y="351.6" font-size="6.5" text-anchor="middle" stroke="#000" stroke-width="0.16">0.04</text>
<line x1="244.2" y1="307.3" x2="245.8" y2="307.3" stroke="#1a1a1a" stroke-width="0.6" />
<line x1="244.2" y1="316.8" x2="245.8" y2="316.8" stroke="#1a1a1a" stroke-width="0.6" />
<line x1="244.2" y1="326.3" x2="245.8" y2="326.3" stroke="#1a1a1a" stroke-width="0.6" />
<line x1="244.2" y1="335.8" x2="245.8" y2="335.8" stroke="#1a1a1a" stroke-width="0.6" />
<line x1="37.5" y1="377" x2="120" y2="377" stroke="#b9b9b9" stroke-width="0.7" />
<line x1="37.5" y1="386.5" x2="120" y2="386.5" stroke="#b9b9b9" stroke-width="0.7" />
<line x1="37.5" y1="396" x2="120" y2="396" stroke="#b9b9b9" stroke-width="0.7" />
<line x1="37.5" y1="405.5" x2="120" y2="405.5" stroke="#b9b9b9" stroke-width="0.7" />
<text x="79" y="369.4" font-size="9.8" text-anchor="middle" font-style="italic" stroke="#000" stroke-width="0.16">Slc20a1-2</text>
<ellipse cx="37.5" cy="377" rx="1.3" ry="3.4" fill="#eddaa6" stroke="#333" stroke-width="0.45"/>
<circle cx="37.5" cy="377" r="1.65" fill="#c9960c" stroke="#2c2102" stroke-width="0.6"/>
<circle cx="37.5" cy="378" r="1.65" fill="#c9960c" stroke="#2c2102" stroke-width="0.6"/>
<circle cx="37.5" cy="376" r="1.65" fill="#c9960c" stroke="#2c2102" stroke-width="0.6"/>
<circle cx="37.5" cy="377.5" r="1.65" fill="#c9960c" stroke="#2c2102" stroke-width="0.6"/>
<circle cx="37.5" cy="376.5" r="1.65" fill="#c9960c" stroke="#2c2102" stroke-width="0.6"/>
<ellipse cx="37.5" cy="386.5" rx="1.3" ry="3.4" fill="#f9c6ab" stroke="#333" stroke-width="0.45"/>
<circle cx="37.5" cy="386.5" r="1.65" fill="#e8590c" stroke="#331302" stroke-width="0.6"/>
<circle cx="37.5" cy="387.5" r="1.65" fill="#e8590c" stroke="#331302" stroke-width="0.6"/>
<circle cx="37.5" cy="385.5" r="1.65" fill="#e8590c" stroke="#331302" stroke-width="0.6"/>
<circle cx="37.5" cy="387" r="1.65" fill="#e8590c" stroke="#331302" stroke-width="0.6"/>
<circle cx="37.5" cy="386" r="1.65" fill="#e8590c" stroke="#331302" stroke-width="0.6"/>
<circle cx="37.5" cy="387.3" r="1.65" fill="#e8590c" stroke="#331302" stroke-width="0.6"/>
<ellipse cx="37.5" cy="396" rx="1.3" ry="3.4" fill="#bba3f4" stroke="#333" stroke-width="0.45"/>
<circle cx="37.5" cy="396" r="1.65" fill="#6a2bd9" stroke="#17092f" stroke-width="0.6"/>
<circle cx="37.5" cy="397" r="1.65" fill="#6a2bd9" stroke="#17092f" stroke-width="0.6"/>
<circle cx="37.5" cy="395" r="1.65" fill="#6a2bd9" stroke="#17092f" stroke-width="0.6"/>
<circle cx="37.5" cy="396.5" r="1.65" fill="#6a2bd9" stroke="#17092f" stroke-width="0.6"/>
<circle cx="37.5" cy="395.5" r="1.65" fill="#6a2bd9" stroke="#17092f" stroke-width="0.6"/>
<circle cx="37.5" cy="396.8" r="1.65" fill="#6a2bd9" stroke="#17092f" stroke-width="0.6"/>
<circle cx="37.5" cy="395.2" r="1.65" fill="#6a2bd9" stroke="#17092f" stroke-width="0.6"/>
<path d="M36.3,405.05 L38.27,405.05 L40.23,405.06 L42.2,405.08 L44.17,405.12 L46.13,405.16 L48.1,405.2 L50.07,405.25 L52.03,405.29 L54,405.34 L55.97,405.37 L57.93,405.4 L59.9,405.43 L61.87,405.45 L63.83,405.47 L65.8,405.48 L67.77,405.48 L69.73,405.49 L71.7,405.49 L73.67,405.5 L75.63,405.5 L77.6,405.5 L79.57,405.5 L81.53,405.5 L83.5,405.5 L85.47,405.49 L87.43,405.49 L89.4,405.49 L91.37,405.48 L93.33,405.47 L95.3,405.47 L97.27,405.46 L99.23,405.45 L101.2,405.44 L103.17,405.43 L105.13,405.42 L107.1,405.42 L109.07,405.41 L111.03,405.41 L113,405.41 L113,405.59 L111.03,405.59 L109.07,405.59 L107.1,405.58 L105.13,405.58 L103.17,405.57 L101.2,405.56 L99.23,405.55 L97.27,405.54 L95.3,405.53 L93.33,405.53 L91.37,405.52 L89.4,405.51 L87.43,405.51 L85.47,405.51 L83.5,405.5 L81.53,405.5 L79.57,405.5 L77.6,405.5 L75.63,405.5 L73.67,405.5 L71.7,405.51 L69.73,405.51 L67.77,405.52 L65.8,405.52 L63.83,405.53 L61.87,405.55 L59.9,405.57 L57.93,405.6 L55.97,405.63 L54,405.66 L52.03,405.71 L50.07,405.75 L48.1,405.8 L46.13,405.84 L44.17,405.88 L42.2,405.92 L40.23,405.94 L38.27,405.95 L36.3,405.95Z" fill="#c9cdfa" stroke="#333" stroke-width="0.45" stroke-linejoin="round"/>
<circle cx="37.5" cy="405.5" r="1.65" fill="#0d8ff0" stroke="#021f34" stroke-width="0.6"/>
<circle cx="37.5" cy="406.5" r="1.65" fill="#0d8ff0" stroke="#021f34" stroke-width="0.6"/>
<circle cx="37.5" cy="404.5" r="1.65" fill="#0d8ff0" stroke="#021f34" stroke-width="0.6"/>
<circle cx="37.5" cy="406" r="1.65" fill="#0d8ff0" stroke="#021f34" stroke-width="0.6"/>
<circle cx="37.5" cy="405" r="1.65" fill="#0d8ff0" stroke="#021f34" stroke-width="0.6"/>
<circle cx="111.8" cy="405.5" r="1.65" fill="#0d8ff0" stroke="#021f34" stroke-width="0.6"/>
<line x1="37.5" y1="370.5" x2="37.5" y2="412.45" stroke="#1a1a1a" stroke-width="0.9" />
<line x1="37.05" y1="412" x2="120.45" y2="412" stroke="#1a1a1a" stroke-width="0.9" />
<line x1="37.5" y1="412" x2="37.5" y2="414.2" stroke="#1a1a1a" stroke-width="0.7" />
<text x="37.5" y="421.3" font-size="6.5" text-anchor="middle" stroke="#000" stroke-width="0.16">0</text>
<line x1="54" y1="412" x2="54" y2="414.2" stroke="#1a1a1a" stroke-width="0.7" />
<text x="54" y="421.3" font-size="6.5" text-anchor="middle" stroke="#000" stroke-width="0.16">1</text>
<line x1="70.5" y1="412" x2="70.5" y2="414.2" stroke="#1a1a1a" stroke-width="0.7" />
<text x="70.5" y="421.3" font-size="6.5" text-anchor="middle" stroke="#000" stroke-width="0.16">2</text>
<line x1="87" y1="412" x2="87" y2="414.2" stroke="#1a1a1a" stroke-width="0.7" />
<text x="87" y="421.3" font-size="6.5" text-anchor="middle" stroke="#000" stroke-width="0.16">3</text>
<line x1="103.5" y1="412" x2="103.5" y2="414.2" stroke="#1a1a1a" stroke-width="0.7" />
<text x="103.5" y="421.3" font-size="6.5" text-anchor="middle" stroke="#000" stroke-width="0.16">4</text>
<line x1="120" y1="412" x2="120" y2="414.2" stroke="#1a1a1a" stroke-width="0.7" />
<text x="120" y="421.3" font-size="6.5" text-anchor="middle" stroke="#000" stroke-width="0.16">5</text>
<line x1="35.9" y1="377" x2="37.5" y2="377" stroke="#1a1a1a" stroke-width="0.6" />
<line x1="35.9" y1="386.5" x2="37.5" y2="386.5" stroke="#1a1a1a" stroke-width="0.6" />
<line x1="35.9" y1="396" x2="37.5" y2="396" stroke="#1a1a1a" stroke-width="0.6" />
<line x1="35.9" y1="405.5" x2="37.5" y2="405.5" stroke="#1a1a1a" stroke-width="0.6" />
<line x1="141.4" y1="377" x2="223.9" y2="377" stroke="#b9b9b9" stroke-width="0.7" />
<line x1="141.4" y1="386.5" x2="223.9" y2="386.5" stroke="#b9b9b9" stroke-width="0.7" />
<line x1="141.4" y1="396" x2="223.9" y2="396" stroke="#b9b9b9" stroke-width="0.7" />
<line x1="141.4" y1="405.5" x2="223.9" y2="405.5" stroke="#b9b9b9" stroke-width="0.7" />
<text x="183" y="369.4" font-size="9.8" text-anchor="middle" font-style="italic" stroke="#000" stroke-width="0.16">Tmem87</text>
<path d="M142.7,375.44 L142.89,375.3 L143.08,375.17 L143.27,375.03 L143.46,374.89 L143.65,374.76 L143.84,374.63 L144.03,374.5 L144.22,374.37 L144.41,374.26 L144.6,374.15 L144.79,374.04 L144.98,373.95 L145.17,373.87 L145.36,373.79 L145.55,373.73 L145.74,373.68 L145.93,373.64 L146.12,373.62 L146.31,373.6 L146.49,373.6 L146.68,373.61 L146.87,373.63 L147.06,373.67 L147.25,373.72 L147.44,373.77 L147.63,373.84 L147.82,373.92 L148.01,374.01 L148.2,374.11 L148.39,374.22 L148.58,374.34 L148.77,374.46 L148.96,374.59 L149.15,374.72 L149.34,374.86 L149.53,374.99 L149.72,375.13 L149.91,375.27 L150.1,375.41 L150.1,378.59 L149.91,378.73 L149.72,378.87 L149.53,379.01 L149.34,379.14 L149.15,379.28 L148.96,379.41 L148.77,379.54 L148.58,379.66 L148.39,379.78 L148.2,379.89 L148.01,379.99 L147.82,380.08 L147.63,380.16 L147.44,380.23 L147.25,380.28 L147.06,380.33 L146.87,380.37 L146.68,380.39 L146.49,380.4 L146.31,380.4 L146.12,380.38 L145.93,380.36 L145.74,380.32 L145.55,380.27 L145.36,380.21 L145.17,380.13 L144.98,380.05 L144.79,379.96 L144.6,379.85 L144.41,379.74 L144.22,379.63 L144.03,379.5 L143.84,379.37 L143.65,379.24 L143.46,379.11 L143.27,378.97 L143.08,378.83 L142.89,378.7 L142.7,378.56Z" fill="#eddaa6" stroke="#333" stroke-width="0.45" stroke-linejoin="round"/>
<circle cx="143.9" cy="377" r="1.65" fill="#c9960c" stroke="#2c2102" stroke-width="0.6"/>
<circle cx="145.2" cy="378.95" r="1.65" fill="#c9960c" stroke="#2c2102" stroke-width="0.6"/>
<circle cx="146.4" cy="377" r="1.65" fill="#c9960c" stroke="#2c2102" stroke-width="0.6"/>
<circle cx="147.7" cy="378.95" r="1.65" fill="#c9960c" stroke="#2c2102" stroke-width="0.6"/>
<circle cx="148.9" cy="377" r="1.65" fill="#c9960c" stroke="#2c2102" stroke-width="0.6"/>
<path d="M157.2,383.99 L158.31,383.68 L159.43,383.43 L160.54,383.24 L161.65,383.13 L162.76,383.1 L163.88,383.14 L164.99,383.25 L166.1,383.39 L167.22,383.56 L168.33,383.73 L169.44,383.88 L170.55,384.01 L171.67,384.1 L172.78,384.15 L173.89,384.17 L175.01,384.16 L176.12,384.13 L177.23,384.08 L178.34,384.03 L179.46,383.99 L180.57,383.96 L181.68,383.95 L182.79,383.97 L183.91,384.03 L185.02,384.12 L186.13,384.25 L187.25,384.4 L188.36,384.56 L189.47,384.72 L190.58,384.86 L191.7,384.98 L192.81,385.07 L193.92,385.12 L195.04,385.15 L196.15,385.15 L197.26,385.16 L198.37,385.17 L199.49,385.21 L200.6,385.27 L200.6,387.73 L199.49,387.79 L198.37,387.83 L197.26,387.84 L196.15,387.85 L195.04,387.85 L193.92,387.88 L192.81,387.93 L191.7,388.02 L190.58,388.14 L189.47,388.28 L188.36,388.44 L187.25,388.6 L186.13,388.75 L185.02,388.88 L183.91,388.97 L182.79,389.03 L181.68,389.05 L180.57,389.04 L179.46,389.01 L178.34,388.97 L177.23,388.92 L176.12,388.87 L175.01,388.84 L173.89,388.83 L172.78,388.85 L171.67,388.9 L170.55,388.99 L169.44,389.12 L168.33,389.27 L167.22,389.44 L166.1,389.61 L164.99,389.75 L163.88,389.86 L162.76,389.9 L161.65,389.87 L160.54,389.76 L159.43,389.57 L158.31,389.32 L157.2,389.01Z" fill="#f9c6ab" stroke="#333" stroke-width="0.45" stroke-linejoin="round"/>
<circle cx="158.4" cy="386.5" r="1.65" fill="#e8590c" stroke="#331302" stroke-width="0.6"/>
<circle cx="162.2" cy="386.5" r="1.65" fill="#e8590c" stroke="#331302" stroke-width="0.6"/>
<circle cx="164.7" cy="386.5" r="1.65" fill="#e8590c" stroke="#331302" stroke-width="0.6"/>
<circle cx="173.9" cy="386.5" r="1.65" fill="#e8590c" stroke="#331302" stroke-width="0.6"/>
<circle cx="181.4" cy="386.5" r="1.65" fill="#e8590c" stroke="#331302" stroke-width="0.6"/>
<circle cx="186.4" cy="386.5" r="1.65" fill="#e8590c" stroke="#331302" stroke-width="0.6"/>
<circle cx="199.4" cy="386.5" r="1.65" fill="#e8590c" stroke="#331302" stroke-width="0.6"/>
<path d="M142.2,393.53 L143.03,393.25 L143.85,393.01 L144.68,392.82 L145.5,392.68 L146.33,392.61 L147.15,392.6 L147.98,392.64 L148.81,392.72 L149.63,392.83 L150.46,392.95 L151.28,393.07 L152.11,393.19 L152.93,393.29 L153.76,393.38 L154.58,393.47 L155.41,393.54 L156.24,393.62 L157.06,393.7 L157.89,393.8 L158.71,393.91 L159.54,394.03 L160.36,394.16 L161.19,394.29 L162.02,394.41 L162.84,394.51 L163.67,394.57 L164.49,394.6 L165.32,394.58 L166.14,394.52 L166.97,394.41 L167.79,394.28 L168.62,394.12 L169.45,393.97 L170.27,393.84 L171.1,393.75 L171.92,393.71 L172.75,393.72 L173.57,393.8 L174.4,393.94 L174.4,398.06 L173.57,398.2 L172.75,398.28 L171.92,398.29 L171.1,398.25 L170.27,398.16 L169.45,398.03 L168.62,397.88 L167.79,397.72 L166.97,397.59 L166.14,397.48 L165.32,397.42 L164.49,397.4 L163.67,397.43 L162.84,397.49 L162.02,397.59 L161.19,397.71 L160.36,397.84 L159.54,397.97 L158.71,398.09 L157.89,398.2 L157.06,398.3 L156.24,398.38 L155.41,398.46 L154.58,398.53 L153.76,398.62 L152.93,398.71 L152.11,398.81 L151.28,398.93 L150.46,399.05 L149.63,399.17 L148.81,399.28 L147.98,399.36 L147.15,399.4 L146.33,399.39 L145.5,399.32 L144.68,399.18 L143.85,398.99 L143.03,398.75 L142.2,398.47Z" fill="#bba3f4" stroke="#333" stroke-width="0.45" stroke-linejoin="round"/>
<circle cx="143.4" cy="396" r="1.65" fill="#6a2bd9" stroke="#17092f" stroke-width="0.6"/>
<circle cx="145.9" cy="396" r="1.65" fill="#6a2bd9" stroke="#17092f" stroke-width="0.6"/>
<circle cx="148.4" cy="396" r="1.65" fill="#6a2bd9" stroke="#17092f" stroke-width="0.6"/>
<circle cx="154.7" cy="396" r="1.65" fill="#6a2bd9" stroke="#17092f" stroke-width="0.6"/>
<circle cx="159.7" cy="396" r="1.65" fill="#6a2bd9" stroke="#17092f" stroke-width="0.6"/>
<circle cx="171.4" cy="396" r="1.65" fill="#6a2bd9" stroke="#17092f" stroke-width="0.6"/>
<circle cx="173.2" cy="397.3" r="1.65" fill="#6a2bd9" stroke="#17092f" stroke-width="0.6"/>
<path d="M140.2,403.59 L141.94,403.36 L143.68,403.16 L145.42,402.97 L147.16,402.83 L148.91,402.72 L150.65,402.67 L152.39,402.67 L154.13,402.73 L155.87,402.85 L157.61,403.02 L159.35,403.23 L161.09,403.46 L162.83,403.69 L164.57,403.89 L166.32,404.05 L168.06,404.15 L169.8,404.17 L171.54,404.12 L173.28,403.99 L175.02,403.79 L176.76,403.54 L178.5,403.25 L180.24,402.95 L181.98,402.67 L183.73,402.43 L185.47,402.25 L187.21,402.14 L188.95,402.1 L190.69,402.13 L192.43,402.23 L194.17,402.37 L195.91,402.54 L197.65,402.73 L199.39,402.93 L201.14,403.12 L202.88,403.32 L204.62,403.5 L206.36,403.69 L208.1,403.87 L208.1,407.13 L206.36,407.31 L204.62,407.5 L202.88,407.68 L201.14,407.88 L199.39,408.07 L197.65,408.27 L195.91,408.46 L194.17,408.63 L192.43,408.77 L190.69,408.87 L188.95,408.9 L187.21,408.86 L185.47,408.75 L183.73,408.57 L181.98,408.33 L180.24,408.05 L178.5,407.75 L176.76,407.46 L175.02,407.21 L173.28,407.01 L171.54,406.88 L169.8,406.83 L168.06,406.85 L166.32,406.95 L164.57,407.11 L162.83,407.31 L161.09,407.54 L159.35,407.77 L157.61,407.98 L155.87,408.15 L154.13,408.27 L152.39,408.33 L150.65,408.33 L148.91,408.28 L147.16,408.17 L145.42,408.03 L143.68,407.84 L141.94,407.64 L140.2,407.41Z" fill="#c9cdfa" stroke="#333" stroke-width="0.45" stroke-linejoin="round"/>
<circle cx="141.4" cy="405.5" r="1.65" fill="#0d8ff0" stroke="#021f34" stroke-width="0.6"/>
<circle cx="152.7" cy="405.5" r="1.65" fill="#0d8ff0" stroke="#021f34" stroke-width="0.6"/>
<circle cx="156.4" cy="405.5" r="1.65" fill="#0d8ff0" stroke="#021f34" stroke-width="0.6"/>
<circle cx="184.7" cy="405.5" r="1.65" fill="#0d8ff0" stroke="#021f34" stroke-width="0.6"/>
<circle cx="185.9" cy="407.45" r="1.65" fill="#0d8ff0" stroke="#021f34" stroke-width="0.6"/>
<circle cx="193.4" cy="405.5" r="1.65" fill="#0d8ff0" stroke="#021f34" stroke-width="0.6"/>
<circle cx="206.9" cy="405.5" r="1.65" fill="#0d8ff0" stroke="#021f34" stroke-width="0.6"/>
<line x1="141.4" y1="370.5" x2="141.4" y2="412.45" stroke="#1a1a1a" stroke-width="0.9" />
<line x1="140.95" y1="412" x2="224.35" y2="412" stroke="#1a1a1a" stroke-width="0.9" />
<line x1="141.4" y1="412" x2="141.4" y2="414.2" stroke="#1a1a1a" stroke-width="0.7" />
<text x="141.4" y="421.3" font-size="6.5" text-anchor="middle" stroke="#000" stroke-width="0.16">0</text>
<line x1="162.03" y1="412" x2="162.03" y2="414.2" stroke="#1a1a1a" stroke-width="0.7" />
<text x="162.03" y="421.3" font-size="6.5" text-anchor="middle" stroke="#000" stroke-width="0.16">2</text>
<line x1="182.65" y1="412" x2="182.65" y2="414.2" stroke="#1a1a1a" stroke-width="0.7" />
<text x="182.65" y="421.3" font-size="6.5" text-anchor="middle" stroke="#000" stroke-width="0.16">4</text>
<line x1="203.28" y1="412" x2="203.28" y2="414.2" stroke="#1a1a1a" stroke-width="0.7" />
<text x="203.28" y="421.3" font-size="6.5" text-anchor="middle" stroke="#000" stroke-width="0.16">6</text>
<line x1="223.9" y1="412" x2="223.9" y2="414.2" stroke="#1a1a1a" stroke-width="0.7" />
<text x="223.9" y="421.3" font-size="6.5" text-anchor="middle" stroke="#000" stroke-width="0.16">8</text>
<line x1="139.8" y1="377" x2="141.4" y2="377" stroke="#1a1a1a" stroke-width="0.6" />
<line x1="139.8" y1="386.5" x2="141.4" y2="386.5" stroke="#1a1a1a" stroke-width="0.6" />
<line x1="139.8" y1="396" x2="141.4" y2="396" stroke="#1a1a1a" stroke-width="0.6" />
<line x1="139.8" y1="405.5" x2="141.4" y2="405.5" stroke="#1a1a1a" stroke-width="0.6" />
<line x1="213.2" y1="377" x2="213.2" y2="386.5" stroke="#222" stroke-width="0.6" />
<text x="213.79" y="381.95" font-size="5.5" text-anchor="middle" font-weight="bold" stroke="#000" stroke-width="0.16" transform="rotate(90 213.79 381.95)">**</text>
<line x1="223.6" y1="377" x2="223.6" y2="405.5" stroke="#222" stroke-width="0.6" />
<text x="226.6" y="393.5" font-size="6.5" text-anchor="middle" font-weight="bold" stroke="#000" stroke-width="0.16">*</text>
<line x1="246.2" y1="377" x2="328.7" y2="377" stroke="#b9b9b9" stroke-width="0.7" />
<line x1="246.2" y1="386.5" x2="328.7" y2="386.5" stroke="#b9b9b9" stroke-width="0.7" />
<line x1="246.2" y1="396" x2="328.7" y2="396" stroke="#b9b9b9" stroke-width="0.7" />
<line x1="246.2" y1="405.5" x2="328.7" y2="405.5" stroke="#b9b9b9" stroke-width="0.7" />
<text x="287" y="369.4" font-size="9.8" text-anchor="middle" font-style="italic" stroke="#000" stroke-width="0.16">Agxt2l2</text>
<ellipse cx="246.2" cy="377" rx="1.3" ry="3.4" fill="#eddaa6" stroke="#333" stroke-width="0.45"/>
<circle cx="246.2" cy="377" r="1.65" fill="#c9960c" stroke="#2c2102" stroke-width="0.6"/>
<circle cx="246.2" cy="378" r="1.65" fill="#c9960c" stroke="#2c2102" stroke-width="0.6"/>
<circle cx="246.2" cy="376" r="1.65" fill="#c9960c" stroke="#2c2102" stroke-width="0.6"/>
<circle cx="246.2" cy="377.5" r="1.65" fill="#c9960c" stroke="#2c2102" stroke-width="0.6"/>
<circle cx="246.2" cy="376.5" r="1.65" fill="#c9960c" stroke="#2c2102" stroke-width="0.6"/>
<ellipse cx="246.2" cy="386.5" rx="1.3" ry="3.4" fill="#f9c6ab" stroke="#333" stroke-width="0.45"/>
<circle cx="246.2" cy="386.5" r="1.65" fill="#e8590c" stroke="#331302" stroke-width="0.6"/>
<circle cx="246.2" cy="387.5" r="1.65" fill="#e8590c" stroke="#331302" stroke-width="0.6"/>
<circle cx="246.2" cy="385.5" r="1.65" fill="#e8590c" stroke="#331302" stroke-width="0.6"/>
<circle cx="246.2" cy="387" r="1.65" fill="#e8590c" stroke="#331302" stroke-width="0.6"/>
<circle cx="246.2" cy="386" r="1.65" fill="#e8590c" stroke="#331302" stroke-width="0.6"/>
<circle cx="246.2" cy="387.3" r="1.65" fill="#e8590c" stroke="#331302" stroke-width="0.6"/>
<ellipse cx="246.2" cy="396" rx="1.3" ry="3.4" fill="#bba3f4" stroke="#333" stroke-width="0.45"/>
<circle cx="246.2" cy="396" r="1.65" fill="#6a2bd9" stroke="#17092f" stroke-width="0.6"/>
<circle cx="246.2" cy="397" r="1.65" fill="#6a2bd9" stroke="#17092f" stroke-width="0.6"/>
<circle cx="246.2" cy="395" r="1.65" fill="#6a2bd9" stroke="#17092f" stroke-width="0.6"/>
<circle cx="246.2" cy="396.5" r="1.65" fill="#6a2bd9" stroke="#17092f" stroke-width="0.6"/>
<circle cx="246.2" cy="395.5" r="1.65" fill="#6a2bd9" stroke="#17092f" stroke-width="0.6"/>
<circle cx="246.2" cy="396.8" r="1.65" fill="#6a2bd9" stroke="#17092f" stroke-width="0.6"/>
<circle cx="246.2" cy="395.2" r="1.65" fill="#6a2bd9" stroke="#17092f" stroke-width="0.6"/>
<path d="M245,405.05 L246.64,405.05 L248.28,405.06 L249.92,405.08 L251.55,405.11 L253.19,405.15 L254.83,405.2 L256.47,405.25 L258.11,405.29 L259.75,405.33 L261.38,405.37 L263.02,405.4 L264.66,405.43 L266.3,405.45 L267.94,405.46 L269.58,405.48 L271.22,405.48 L272.85,405.49 L274.49,405.49 L276.13,405.5 L277.77,405.5 L279.41,405.5 L281.05,405.5 L282.68,405.5 L284.32,405.5 L285.96,405.49 L287.6,405.49 L289.24,405.49 L290.88,405.48 L292.52,405.47 L294.15,405.47 L295.79,405.46 L297.43,405.45 L299.07,405.44 L300.71,405.43 L302.35,405.42 L303.98,405.42 L305.62,405.41 L307.26,405.41 L308.9,405.41 L308.9,405.59 L307.26,405.59 L305.62,405.59 L303.98,405.58 L302.35,405.58 L300.71,405.57 L299.07,405.56 L297.43,405.55 L295.79,405.54 L294.15,405.53 L292.52,405.53 L290.88,405.52 L289.24,405.51 L287.6,405.51 L285.96,405.51 L284.32,405.5 L282.68,405.5 L281.05,405.5 L279.41,405.5 L277.77,405.5 L276.13,405.5 L274.49,405.51 L272.85,405.51 L271.22,405.52 L269.58,405.52 L267.94,405.54 L266.3,405.55 L264.66,405.57 L263.02,405.6 L261.38,405.63 L259.75,405.67 L258.11,405.71 L256.47,405.75 L254.83,405.8 L253.19,405.85 L251.55,405.89 L249.92,405.92 L248.28,405.94 L246.64,405.95 L245,405.95Z" fill="#c9cdfa" stroke="#333" stroke-width="0.45" stroke-linejoin="round"/>
<circle cx="246.2" cy="405.5" r="1.65" fill="#0d8ff0" stroke="#021f34" stroke-width="0.6"/>
<circle cx="246.2" cy="406.5" r="1.65" fill="#0d8ff0" stroke="#021f34" stroke-width="0.6"/>
<circle cx="246.2" cy="404.5" r="1.65" fill="#0d8ff0" stroke="#021f34" stroke-width="0.6"/>
<circle cx="246.2" cy="406" r="1.65" fill="#0d8ff0" stroke="#021f34" stroke-width="0.6"/>
<circle cx="246.2" cy="405" r="1.65" fill="#0d8ff0" stroke="#021f34" stroke-width="0.6"/>
<circle cx="307.7" cy="405.5" r="1.65" fill="#0d8ff0" stroke="#021f34" stroke-width="0.6"/>
<line x1="246.2" y1="370.5" x2="246.2" y2="412.45" stroke="#1a1a1a" stroke-width="0.9" />
<line x1="245.75" y1="412" x2="329.15" y2="412" stroke="#1a1a1a" stroke-width="0.9" />
<line x1="246.2" y1="412" x2="246.2" y2="414.2" stroke="#1a1a1a" stroke-width="0.7" />
<text x="246.2" y="421.3" font-size="6.5" text-anchor="middle" stroke="#000" stroke-width="0.16">0</text>
<line x1="266.82" y1="412" x2="266.82" y2="414.2" stroke="#1a1a1a" stroke-width="0.7" />
<text x="266.82" y="421.3" font-size="6.5" text-anchor="middle" stroke="#000" stroke-width="0.16">1</text>
<line x1="287.45" y1="412" x2="287.45" y2="414.2" stroke="#1a1a1a" stroke-width="0.7" />
<text x="287.45" y="421.3" font-size="6.5" text-anchor="middle" stroke="#000" stroke-width="0.16">2</text>
<line x1="308.07" y1="412" x2="308.07" y2="414.2" stroke="#1a1a1a" stroke-width="0.7" />
<text x="308.07" y="421.3" font-size="6.5" text-anchor="middle" stroke="#000" stroke-width="0.16">3</text>
<line x1="328.7" y1="412" x2="328.7" y2="414.2" stroke="#1a1a1a" stroke-width="0.7" />
<text x="328.7" y="421.3" font-size="6.5" text-anchor="middle" stroke="#000" stroke-width="0.16">4</text>
<line x1="244.6" y1="377" x2="246.2" y2="377" stroke="#1a1a1a" stroke-width="0.6" />
<line x1="244.6" y1="386.5" x2="246.2" y2="386.5" stroke="#1a1a1a" stroke-width="0.6" />
<line x1="244.6" y1="396" x2="246.2" y2="396" stroke="#1a1a1a" stroke-width="0.6" />
<line x1="244.6" y1="405.5" x2="246.2" y2="405.5" stroke="#1a1a1a" stroke-width="0.6" />
<text x="16" y="440.3" font-size="15" font-weight="bold" stroke="#000" stroke-width="0.16">c</text>
<line x1="38.25" y1="452.2" x2="121.3" y2="452.2" stroke="#b9b9b9" stroke-width="0.7" />
<line x1="38.25" y1="461.7" x2="121.3" y2="461.7" stroke="#b9b9b9" stroke-width="0.7" />
<line x1="38.25" y1="471.2" x2="121.3" y2="471.2" stroke="#b9b9b9" stroke-width="0.7" />
<line x1="38.25" y1="480.7" x2="121.3" y2="480.7" stroke="#b9b9b9" stroke-width="0.7" />
<text x="79.8" y="443.8" font-size="9.8" text-anchor="middle" font-style="italic" stroke="#000" stroke-width="0.16">Cumulative sum</text>
<path d="M48.8,452.15 L49.36,452.12 L49.92,452.08 L50.48,452.02 L51.04,451.94 L51.59,451.84 L52.15,451.72 L52.71,451.58 L53.27,451.41 L53.83,451.23 L54.39,451.04 L54.95,450.85 L55.51,450.67 L56.07,450.51 L56.63,450.37 L57.18,450.28 L57.74,450.22 L58.3,450.2 L58.86,450.22 L59.42,450.28 L59.98,450.37 L60.54,450.48 L61.1,450.61 L61.66,450.74 L62.22,450.89 L62.77,451.03 L63.33,451.17 L63.89,451.3 L64.45,451.43 L65.01,451.56 L65.57,451.67 L66.13,451.77 L66.69,451.86 L67.25,451.94 L67.81,452 L68.36,452.05 L68.92,452.1 L69.48,452.13 L70.04,452.15 L70.6,452.17 L70.6,452.23 L70.04,452.25 L69.48,452.27 L68.92,452.3 L68.36,452.35 L67.81,452.4 L67.25,452.46 L66.69,452.54 L66.13,452.63 L65.57,452.73 L65.01,452.84 L64.45,452.97 L63.89,453.1 L63.33,453.23 L62.77,453.37 L62.22,453.51 L61.66,453.66 L61.1,453.79 L60.54,453.92 L59.98,454.03 L59.42,454.12 L58.86,454.18 L58.3,454.2 L57.74,454.18 L57.18,454.12 L56.63,454.03 L56.07,453.89 L55.51,453.73 L54.95,453.55 L54.39,453.36 L53.83,453.17 L53.27,452.99 L52.71,452.82 L52.15,452.68 L51.59,452.56 L51.04,452.46 L50.48,452.38 L49.92,452.32 L49.36,452.28 L48.8,452.25Z" fill="#eddaa6" stroke="#7a7a84" stroke-width="0.4" stroke-linejoin="round"/>
<circle cx="55.8" cy="452.2" r="1.7" fill="#c9960c" stroke="#2c2102" stroke-width="0.6"/>
<circle cx="56.5" cy="454.15" r="1.7" fill="#c9960c" stroke="#2c2102" stroke-width="0.6"/>
<circle cx="58" cy="452.2" r="1.7" fill="#c9960c" stroke="#2c2102" stroke-width="0.6"/>
<circle cx="59" cy="454.15" r="1.7" fill="#c9960c" stroke="#2c2102" stroke-width="0.6"/>
<circle cx="60.5" cy="452.2" r="1.7" fill="#c9960c" stroke="#2c2102" stroke-width="0.6"/>
<circle cx="63.6" cy="452.2" r="1.7" fill="#c9960c" stroke="#2c2102" stroke-width="0.6"/>
<path d="M54.6,461.64 L55.28,461.6 L55.97,461.54 L56.65,461.45 L57.34,461.33 L58.02,461.18 L58.71,460.99 L59.39,460.78 L60.08,460.56 L60.76,460.34 L61.45,460.13 L62.13,459.96 L62.82,459.83 L63.5,459.74 L64.18,459.7 L64.87,459.7 L65.55,459.74 L66.24,459.8 L66.92,459.89 L67.61,459.99 L68.29,460.09 L68.98,460.19 L69.66,460.29 L70.35,460.37 L71.03,460.44 L71.72,460.5 L72.4,460.56 L73.08,460.62 L73.77,460.7 L74.45,460.79 L75.14,460.9 L75.82,461.03 L76.51,461.15 L77.19,461.27 L77.88,461.38 L78.56,461.47 L79.25,461.55 L79.93,461.6 L80.62,461.64 L81.3,461.66 L81.3,461.74 L80.62,461.76 L79.93,461.8 L79.25,461.85 L78.56,461.93 L77.88,462.02 L77.19,462.13 L76.51,462.25 L75.82,462.37 L75.14,462.5 L74.45,462.61 L73.77,462.7 L73.08,462.78 L72.4,462.84 L71.72,462.9 L71.03,462.96 L70.35,463.03 L69.66,463.11 L68.98,463.21 L68.29,463.31 L67.61,463.41 L66.92,463.51 L66.24,463.6 L65.55,463.66 L64.87,463.7 L64.18,463.7 L63.5,463.66 L62.82,463.57 L62.13,463.44 L61.45,463.27 L60.76,463.06 L60.08,462.84 L59.39,462.62 L58.71,462.41 L58.02,462.22 L57.34,462.07 L56.65,461.95 L55.97,461.86 L55.28,461.8 L54.6,461.76Z" fill="#f9c6ab" stroke="#7a7a84" stroke-width="0.4" stroke-linejoin="round"/>
<circle cx="61.6" cy="461.7" r="1.7" fill="#e8590c" stroke="#331302" stroke-width="0.6"/>
<circle cx="62" cy="463.65" r="1.7" fill="#e8590c" stroke="#331302" stroke-width="0.6"/>
<circle cx="63.8" cy="461.7" r="1.7" fill="#e8590c" stroke="#331302" stroke-width="0.6"/>
<circle cx="64.9" cy="463.65" r="1.7" fill="#e8590c" stroke="#331302" stroke-width="0.6"/>
<circle cx="67.8" cy="461.7" r="1.7" fill="#e8590c" stroke="#331302" stroke-width="0.6"/>
<circle cx="67.9" cy="463.65" r="1.7" fill="#e8590c" stroke="#331302" stroke-width="0.6"/>
<circle cx="72.5" cy="461.7" r="1.7" fill="#e8590c" stroke="#331302" stroke-width="0.6"/>
<circle cx="74.3" cy="463" r="1.7" fill="#e8590c" stroke="#331302" stroke-width="0.6"/>
<path d="M48.8,471.13 L49.51,471.09 L50.21,471.01 L50.92,470.9 L51.62,470.76 L52.33,470.57 L53.03,470.35 L53.74,470.11 L54.44,469.87 L55.15,469.64 L55.85,469.45 L56.56,469.32 L57.26,469.23 L57.97,469.2 L58.67,469.21 L59.38,469.24 L60.08,469.28 L60.79,469.31 L61.49,469.34 L62.2,469.35 L62.9,469.35 L63.61,469.33 L64.31,469.31 L65.02,469.27 L65.72,469.24 L66.43,469.23 L67.13,469.25 L67.84,469.31 L68.54,469.43 L69.25,469.59 L69.95,469.79 L70.66,470.02 L71.36,470.26 L72.07,470.48 L72.77,470.67 L73.48,470.83 L74.18,470.96 L74.89,471.05 L75.59,471.11 L76.3,471.15 L76.3,471.25 L75.59,471.29 L74.89,471.35 L74.18,471.44 L73.48,471.57 L72.77,471.73 L72.07,471.92 L71.36,472.14 L70.66,472.38 L69.95,472.61 L69.25,472.81 L68.54,472.97 L67.84,473.09 L67.13,473.15 L66.43,473.17 L65.72,473.16 L65.02,473.13 L64.31,473.09 L63.61,473.07 L62.9,473.05 L62.2,473.05 L61.49,473.06 L60.79,473.09 L60.08,473.12 L59.38,473.16 L58.67,473.19 L57.97,473.2 L57.26,473.17 L56.56,473.08 L55.85,472.95 L55.15,472.76 L54.44,472.53 L53.74,472.29 L53.03,472.05 L52.33,471.83 L51.62,471.64 L50.92,471.5 L50.21,471.39 L49.51,471.31 L48.8,471.27Z" fill="#bba3f4" stroke="#7a7a84" stroke-width="0.4" stroke-linejoin="round"/>
<circle cx="55.8" cy="471.2" r="1.7" fill="#6a2bd9" stroke="#17092f" stroke-width="0.6"/>
<circle cx="56.5" cy="473.15" r="1.7" fill="#6a2bd9" stroke="#17092f" stroke-width="0.6"/>
<circle cx="58" cy="471.2" r="1.7" fill="#6a2bd9" stroke="#17092f" stroke-width="0.6"/>
<circle cx="61.6" cy="471.2" r="1.7" fill="#6a2bd9" stroke="#17092f" stroke-width="0.6"/>
<circle cx="63" cy="473.15" r="1.7" fill="#6a2bd9" stroke="#17092f" stroke-width="0.6"/>
<circle cx="66.7" cy="471.2" r="1.7" fill="#6a2bd9" stroke="#17092f" stroke-width="0.6"/>
<circle cx="67.8" cy="473.15" r="1.7" fill="#6a2bd9" stroke="#17092f" stroke-width="0.6"/>
<circle cx="69.3" cy="471.2" r="1.7" fill="#6a2bd9" stroke="#17092f" stroke-width="0.6"/>
<path d="M63,480.6 L64.08,480.54 L65.15,480.44 L66.23,480.32 L67.31,480.18 L68.38,480.02 L69.46,479.85 L70.54,479.68 L71.62,479.5 L72.69,479.3 L73.77,479.1 L74.85,478.92 L75.92,478.78 L77,478.7 L78.08,478.71 L79.15,478.83 L80.23,479.03 L81.31,479.3 L82.38,479.6 L83.46,479.89 L84.54,480.14 L85.62,480.34 L86.69,480.48 L87.77,480.57 L88.85,480.61 L89.92,480.62 L91,480.6 L92.08,480.54 L93.15,480.46 L94.23,480.37 L95.31,480.27 L96.38,480.19 L97.46,480.14 L98.54,480.14 L99.62,480.19 L100.69,480.27 L101.77,480.37 L102.85,480.46 L103.92,480.55 L105,480.61 L105,480.79 L103.92,480.85 L102.85,480.94 L101.77,481.03 L100.69,481.13 L99.62,481.21 L98.54,481.26 L97.46,481.26 L96.38,481.21 L95.31,481.13 L94.23,481.03 L93.15,480.94 L92.08,480.86 L91,480.8 L89.92,480.78 L88.85,480.79 L87.77,480.83 L86.69,480.92 L85.62,481.06 L84.54,481.26 L83.46,481.51 L82.38,481.8 L81.31,482.1 L80.23,482.37 L79.15,482.57 L78.08,482.69 L77,482.7 L75.92,482.62 L74.85,482.48 L73.77,482.3 L72.69,482.1 L71.62,481.9 L70.54,481.72 L69.46,481.55 L68.38,481.38 L67.31,481.22 L66.23,481.08 L65.15,480.96 L64.08,480.86 L63,480.8Z" fill="#c9cdfa" stroke="#7a7a84" stroke-width="0.4" stroke-linejoin="round"/>
<circle cx="70" cy="480.7" r="1.7" fill="#0d8ff0" stroke="#021f34" stroke-width="0.6"/>
<circle cx="75" cy="480.7" r="1.7" fill="#0d8ff0" stroke="#021f34" stroke-width="0.6"/>
<circle cx="76.8" cy="482" r="1.7" fill="#0d8ff0" stroke="#021f34" stroke-width="0.6"/>
<circle cx="78.8" cy="480.7" r="1.7" fill="#0d8ff0" stroke="#021f34" stroke-width="0.6"/>
<circle cx="80.5" cy="482" r="1.7" fill="#0d8ff0" stroke="#021f34" stroke-width="0.6"/>
<circle cx="98" cy="480.7" r="1.7" fill="#0d8ff0" stroke="#021f34" stroke-width="0.6"/>
<line x1="38.25" y1="445.7" x2="38.25" y2="487.65" stroke="#1a1a1a" stroke-width="0.9" />
<line x1="37.8" y1="487.2" x2="121.75" y2="487.2" stroke="#1a1a1a" stroke-width="0.9" />
<line x1="38.25" y1="487.2" x2="38.25" y2="489.4" stroke="#1a1a1a" stroke-width="0.7" />
<text x="38.25" y="496.5" font-size="6.1" text-anchor="middle" stroke="#000" stroke-width="0.16">-5</text>
<line x1="54.86" y1="487.2" x2="54.86" y2="489.4" stroke="#1a1a1a" stroke-width="0.7" />
<text x="54.86" y="496.5" font-size="6.1" text-anchor="middle" stroke="#000" stroke-width="0.16">0</text>
<line x1="71.47" y1="487.2" x2="71.47" y2="489.4" stroke="#1a1a1a" stroke-width="0.7" />
<text x="71.47" y="496.5" font-size="6.1" text-anchor="middle" stroke="#000" stroke-width="0.16">5</text>
<line x1="88.08" y1="487.2" x2="88.08" y2="489.4" stroke="#1a1a1a" stroke-width="0.7" />
<text x="88.08" y="496.5" font-size="6.1" text-anchor="middle" stroke="#000" stroke-width="0.16">10</text>
<line x1="104.69" y1="487.2" x2="104.69" y2="489.4" stroke="#1a1a1a" stroke-width="0.7" />
<text x="104.69" y="496.5" font-size="6.1" text-anchor="middle" stroke="#000" stroke-width="0.16">15</text>
<line x1="121.3" y1="487.2" x2="121.3" y2="489.4" stroke="#1a1a1a" stroke-width="0.7" />
<text x="121.3" y="496.5" font-size="6.1" text-anchor="middle" stroke="#000" stroke-width="0.16">20</text>
<line x1="36.65" y1="452.2" x2="38.25" y2="452.2" stroke="#1a1a1a" stroke-width="0.6" />
<line x1="36.65" y1="461.7" x2="38.25" y2="461.7" stroke="#1a1a1a" stroke-width="0.6" />
<line x1="36.65" y1="471.2" x2="38.25" y2="471.2" stroke="#1a1a1a" stroke-width="0.6" />
<line x1="36.65" y1="480.7" x2="38.25" y2="480.7" stroke="#1a1a1a" stroke-width="0.6" />
<text x="34.75" y="454.2" font-size="5.85" text-anchor="end" stroke="#000" stroke-width="0.16">LV::Conca</text>
<text x="34.75" y="463.7" font-size="5.85" text-anchor="end" stroke="#000" stroke-width="0.16">LV::Conca-27</text>
<text x="34.75" y="473.2" font-size="5.85" text-anchor="end" stroke="#000" stroke-width="0.16">LV::UB-A7</text>
<text x="34.75" y="482.7" font-size="5.85" text-anchor="end" stroke="#000" stroke-width="0.16">LV::UB-A7-27</text>
<text x="78.5" y="505.2" font-size="5.4" text-anchor="middle" stroke="#000" stroke-width="0.16">% of CD8+ IFNγ+ TNFα+</text>
<line x1="114.6" y1="452.2" x2="114.6" y2="461.7" stroke="#222" stroke-width="0.6" />
<text x="117.8" y="459.6" font-size="6.5" text-anchor="middle" font-weight="bold" stroke="#000" stroke-width="0.16">*</text>
<line x1="114.6" y1="471.2" x2="114.6" y2="480.7" stroke="#222" stroke-width="0.6" />
<text x="114.59" y="475.95" font-size="5.5" text-anchor="middle" font-weight="bold" stroke="#000" stroke-width="0.16" transform="rotate(90 114.59 475.95)">***</text>
<line x1="124.3" y1="461.7" x2="124.3" y2="480.7" stroke="#222" stroke-width="0.6" />
<line x1="121.3" y1="461.7" x2="124.3" y2="461.7" stroke="#b9b9b9" stroke-width="0.7" />
<line x1="121.3" y1="480.7" x2="124.3" y2="480.7" stroke="#b9b9b9" stroke-width="0.7" />
<text x="124.59" y="471.7" font-size="5.5" text-anchor="middle" font-weight="bold" stroke="#000" stroke-width="0.16" transform="rotate(90 124.59 471.7)">**</text>
<text x="128.4" y="440.1" font-size="15" font-weight="bold" stroke="#000" stroke-width="0.16">d</text>
<line x1="141.5" y1="452.3" x2="223.7" y2="452.3" stroke="#b9b9b9" stroke-width="0.7" />
<line x1="141.5" y1="461.8" x2="223.7" y2="461.8" stroke="#b9b9b9" stroke-width="0.7" />
<line x1="141.5" y1="471.4" x2="223.7" y2="471.4" stroke="#b9b9b9" stroke-width="0.7" />
<line x1="141.5" y1="480.9" x2="223.7" y2="480.9" stroke="#b9b9b9" stroke-width="0.7" />
<text x="183" y="445.5" font-size="9.8" text-anchor="middle" font-style="italic" stroke="#000" stroke-width="0.16">Diversity</text>
<rect x="141.5" y="449.45" width="3" height="5.7" fill="#e0793a" stroke="#2a2a2a" stroke-width="0.55"/>
<rect x="144.5" y="449.45" width="4" height="5.7" fill="#d8d8a6" stroke="#2a2a2a" stroke-width="0.55"/>
<rect x="148.5" y="449.45" width="2.3" height="5.7" fill="#6ba52f" stroke="#2a2a2a" stroke-width="0.55"/>
<rect x="150.8" y="449.45" width="6" height="5.7" fill="#f3de4d" stroke="#2a2a2a" stroke-width="0.55"/>
<rect x="141.5" y="458.95" width="1.8" height="5.7" fill="#d8d8a6" stroke="#2a2a2a" stroke-width="0.55"/>
<rect x="143.3" y="458.95" width="4.5" height="5.7" fill="#6ba52f" stroke="#2a2a2a" stroke-width="0.55"/>
<rect x="147.8" y="458.95" width="33.7" height="5.7" fill="#f3de4d" stroke="#2a2a2a" stroke-width="0.55"/>
<rect x="141.5" y="468.55" width="1.8" height="5.7" fill="#e0793a" stroke="#2a2a2a" stroke-width="0.55"/>
<rect x="143.3" y="468.55" width="2.7" height="5.7" fill="#d8d8a6" stroke="#2a2a2a" stroke-width="0.55"/>
<rect x="146" y="468.55" width="3.8" height="5.7" fill="#6ba52f" stroke="#2a2a2a" stroke-width="0.55"/>
<rect x="149.8" y="468.55" width="15" height="5.7" fill="#f3de4d" stroke="#2a2a2a" stroke-width="0.55"/>
<rect x="141.5" y="478.05" width="6.3" height="5.7" fill="#e0793a" stroke="#2a2a2a" stroke-width="0.55"/>
<rect x="147.8" y="478.05" width="8.5" height="5.7" fill="#d8d8a6" stroke="#2a2a2a" stroke-width="0.55"/>
<rect x="156.3" y="478.05" width="8" height="5.7" fill="#6ba52f" stroke="#2a2a2a" stroke-width="0.55"/>
<rect x="164.3" y="478.05" width="6.5" height="5.7" fill="#727272" stroke="#2a2a2a" stroke-width="0.55"/>
<rect x="170.8" y="478.05" width="32.7" height="5.7" fill="#f3de4d" stroke="#2a2a2a" stroke-width="0.55"/>
<rect x="203.5" y="478.05" width="5" height="5.7" fill="#27c4dc" stroke="#2a2a2a" stroke-width="0.55"/>
<line x1="141.5" y1="446.3" x2="141.5" y2="487.65" stroke="#1a1a1a" stroke-width="0.9" />
<line x1="141.05" y1="487.2" x2="224.15" y2="487.2" stroke="#1a1a1a" stroke-width="0.9" />
<line x1="141.5" y1="487.2" x2="141.5" y2="489.4" stroke="#1a1a1a" stroke-width="0.7" />
<text x="141.5" y="496.8" font-size="6.4" text-anchor="middle" stroke="#000" stroke-width="0.16">0</text>
<line x1="162.05" y1="487.2" x2="162.05" y2="489.4" stroke="#1a1a1a" stroke-width="0.7" />
<text x="162.05" y="496.8" font-size="6.4" text-anchor="middle" stroke="#000" stroke-width="0.16">2</text>
<line x1="182.6" y1="487.2" x2="182.6" y2="489.4" stroke="#1a1a1a" stroke-width="0.7" />
<text x="182.6" y="496.8" font-size="6.4" text-anchor="middle" stroke="#000" stroke-width="0.16">4</text>
<line x1="203.15" y1="487.2" x2="203.15" y2="489.4" stroke="#1a1a1a" stroke-width="0.7" />
<text x="203.15" y="496.8" font-size="6.4" text-anchor="middle" stroke="#000" stroke-width="0.16">6</text>
<line x1="223.7" y1="487.2" x2="223.7" y2="489.4" stroke="#1a1a1a" stroke-width="0.7" />
<text x="223.7" y="496.8" font-size="6.4" text-anchor="middle" stroke="#000" stroke-width="0.16">8</text>
<line x1="139.5" y1="452.3" x2="141.5" y2="452.3" stroke="#1a1a1a" stroke-width="0.6" />
<line x1="139.5" y1="461.8" x2="141.5" y2="461.8" stroke="#1a1a1a" stroke-width="0.6" />
<line x1="139.5" y1="471.4" x2="141.5" y2="471.4" stroke="#1a1a1a" stroke-width="0.6" />
<line x1="139.5" y1="480.9" x2="141.5" y2="480.9" stroke="#1a1a1a" stroke-width="0.6" />
<text x="182.4" y="503.6" font-size="5.55" text-anchor="middle" stroke="#000" stroke-width="0.16">% of CD8+ IFNg+ TNFa+</text>
<line x1="134.3" y1="452" x2="134.3" y2="481.2" stroke="#222" stroke-width="0.6" />
<path d="M140.7,461.5 L139.2,461.5 L139.2,471.2 L140.7,471.2" fill="none" stroke="#222" stroke-width="0.5" />
<text x="134.2" y="466.4" font-size="5" text-anchor="middle" font-weight="bold" stroke="#000" stroke-width="0.16" transform="rotate(90 134.2 466.4)">****</text>
<rect x="231.1" y="450.9" width="6.2" height="6.2" fill="#a9a9a9" stroke="#555" stroke-width="0.5"/>
<text x="240.6" y="456.25" font-size="6.25" stroke="#000" stroke-width="0.16">Aldh18a1</text>
<rect x="231.1" y="458.55" width="6.2" height="6.2" fill="#f9b3b3" stroke="#555" stroke-width="0.5"/>
<text x="240.6" y="463.9" font-size="6.25" stroke="#000" stroke-width="0.16">Dhx35</text>
<rect x="231.1" y="466.2" width="6.2" height="6.2" fill="#e0793a" stroke="#555" stroke-width="0.5"/>
<text x="240.6" y="471.55" font-size="6.25" stroke="#000" stroke-width="0.16">E2f8-1</text>
<rect x="231.1" y="473.85" width="6.2" height="6.2" fill="#d8d8a6" stroke="#555" stroke-width="0.5"/>
<text x="240.6" y="479.2" font-size="6.25" stroke="#000" stroke-width="0.16">E2f8-2</text>
<rect x="231.1" y="481.5" width="6.2" height="6.2" fill="#6ba52f" stroke="#555" stroke-width="0.5"/>
<text x="240.6" y="486.85" font-size="6.25" stroke="#000" stroke-width="0.16">Mitch1</text>
<rect x="271" y="450.9" width="6.2" height="6.2" fill="#5c9bd8" stroke="#555" stroke-width="0.5"/>
<text x="280.5" y="456.25" font-size="6.25" stroke="#000" stroke-width="0.16">Slc20a1-1</text>
<rect x="271" y="458.55" width="6.2" height="6.2" fill="#727272" stroke="#555" stroke-width="0.5"/>
<text x="280.5" y="463.9" font-size="6.25" stroke="#000" stroke-width="0.16">Slc20a1-2</text>
<rect x="271" y="466.2" width="6.2" height="6.2" fill="#f3de4d" stroke="#555" stroke-width="0.5"/>
<text x="280.5" y="471.55" font-size="6.25" stroke="#000" stroke-width="0.16">Tmem87</text>
<rect x="271" y="473.85" width="6.2" height="6.2" fill="#27c4dc" stroke="#555" stroke-width="0.5"/>
<text x="280.5" y="479.2" font-size="6.25" stroke="#000" stroke-width="0.16">Agxt2l2</text>
<text x="480.2" y="199" font-size="11.2" stroke="#000" stroke-width="0.16">CD4+ T splenocytes</text>
<line x1="405" y1="206.1" x2="638.8" y2="206.1" stroke="#222" stroke-width="1.1" />
<text x="365.6" y="222.3" font-size="15" font-weight="bold" stroke="#000" stroke-width="0.16">e</text>
<line x1="381.5" y1="233" x2="464" y2="233" stroke="#b9b9b9" stroke-width="0.7" />
<line x1="381.5" y1="242.5" x2="464" y2="242.5" stroke="#b9b9b9" stroke-width="0.7" />
<line x1="381.5" y1="252" x2="464" y2="252" stroke="#b9b9b9" stroke-width="0.7" />
<line x1="381.5" y1="261.5" x2="464" y2="261.5" stroke="#b9b9b9" stroke-width="0.7" />
<text x="422.5" y="225.2" font-size="9.8" text-anchor="middle" font-style="italic" stroke="#000" stroke-width="0.16">Aldh18a1</text>
<path d="M380.3,231.72 L381.66,231.69 L383.03,231.69 L384.39,231.73 L385.76,231.78 L387.12,231.82 L388.48,231.84 L389.85,231.81 L391.21,231.72 L392.58,231.56 L393.94,231.33 L395.31,231.05 L396.67,230.73 L398.03,230.41 L399.4,230.11 L400.76,229.86 L402.13,229.68 L403.49,229.6 L404.85,229.62 L406.22,229.74 L407.58,229.94 L408.95,230.21 L410.31,230.53 L411.67,230.87 L413.04,231.21 L414.4,231.53 L415.77,231.8 L417.13,232.03 L418.49,232.2 L419.86,232.3 L421.22,232.34 L422.59,232.32 L423.95,232.26 L425.32,232.16 L426.68,232.04 L428.04,231.92 L429.41,231.81 L430.77,231.75 L432.14,231.72 L433.5,231.74 L433.5,234.26 L432.14,234.28 L430.77,234.25 L429.41,234.19 L428.04,234.08 L426.68,233.96 L425.32,233.84 L423.95,233.74 L422.59,233.68 L421.22,233.66 L419.86,233.7 L418.49,233.8 L417.13,233.97 L415.77,234.2 L414.4,234.47 L413.04,234.79 L411.67,235.13 L410.31,235.47 L408.95,235.79 L407.58,236.06 L406.22,236.26 L404.85,236.38 L403.49,236.4 L402.13,236.32 L400.76,236.14 L399.4,235.89 L398.03,235.59 L396.67,235.27 L395.31,234.95 L393.94,234.67 L392.58,234.44 L391.21,234.28 L389.85,234.19 L388.48,234.16 L387.12,234.18 L385.76,234.22 L384.39,234.27 L383.03,234.31 L381.66,234.31 L380.3,234.28Z" fill="#eddaa6" stroke="#333" stroke-width="0.45" stroke-linejoin="round"/>
<circle cx="381.5" cy="233" r="1.65" fill="#c9960c" stroke="#2c2102" stroke-width="0.6"/>
<circle cx="401" cy="233" r="1.65" fill="#c9960c" stroke="#2c2102" stroke-width="0.6"/>
<circle cx="402.8" cy="234.3" r="1.65" fill="#c9960c" stroke="#2c2102" stroke-width="0.6"/>
<circle cx="409" cy="233" r="1.65" fill="#c9960c" stroke="#2c2102" stroke-width="0.6"/>
<circle cx="432.3" cy="233" r="1.65" fill="#c9960c" stroke="#2c2102" stroke-width="0.6"/>
<path d="M380.3,239.47 L381.98,239.37 L383.67,239.34 L385.35,239.39 L387.04,239.51 L388.72,239.68 L390.41,239.9 L392.09,240.16 L393.78,240.44 L395.46,240.71 L397.15,240.98 L398.83,241.22 L400.52,241.42 L402.2,241.57 L403.88,241.68 L405.57,241.74 L407.25,241.75 L408.94,241.71 L410.62,241.62 L412.31,241.49 L413.99,241.32 L415.68,241.11 L417.36,240.89 L419.05,240.64 L420.73,240.39 L422.42,240.14 L424.1,239.9 L425.78,239.68 L427.47,239.49 L429.15,239.33 L430.84,239.21 L432.52,239.13 L434.21,239.1 L435.89,239.12 L437.58,239.18 L439.26,239.28 L440.95,239.43 L442.63,239.61 L444.32,239.83 L446,240.06 L446,244.94 L444.32,245.17 L442.63,245.39 L440.95,245.57 L439.26,245.72 L437.58,245.82 L435.89,245.88 L434.21,245.9 L432.52,245.87 L430.84,245.79 L429.15,245.67 L427.47,245.51 L425.78,245.32 L424.1,245.1 L422.42,244.86 L420.73,244.61 L419.05,244.36 L417.36,244.11 L415.68,243.89 L413.99,243.68 L412.31,243.51 L410.62,243.38 L408.94,243.29 L407.25,243.25 L405.57,243.26 L403.88,243.32 L402.2,243.43 L400.52,243.58 L398.83,243.78 L397.15,244.02 L395.46,244.29 L393.78,244.56 L392.09,244.84 L390.41,245.1 L388.72,245.32 L387.04,245.49 L385.35,245.61 L383.67,245.66 L381.98,245.63 L380.3,245.53Z" fill="#f9c6ab" stroke="#333" stroke-width="0.45" stroke-linejoin="round"/>
<circle cx="381.5" cy="242.5" r="1.65" fill="#e8590c" stroke="#331302" stroke-width="0.6"/>
<circle cx="382.8" cy="244.45" r="1.65" fill="#e8590c" stroke="#331302" stroke-width="0.6"/>
<circle cx="386" cy="242.5" r="1.65" fill="#e8590c" stroke="#331302" stroke-width="0.6"/>
<circle cx="424.3" cy="242.5" r="1.65" fill="#e8590c" stroke="#331302" stroke-width="0.6"/>
<circle cx="431" cy="242.5" r="1.65" fill="#e8590c" stroke="#331302" stroke-width="0.6"/>
<circle cx="438" cy="242.5" r="1.65" fill="#e8590c" stroke="#331302" stroke-width="0.6"/>
<circle cx="444.8" cy="242.5" r="1.65" fill="#e8590c" stroke="#331302" stroke-width="0.6"/>
<path d="M380.3,248.79 L381.68,248.66 L383.05,248.6 L384.43,248.61 L385.81,248.69 L387.18,248.82 L388.56,249 L389.94,249.22 L391.32,249.46 L392.69,249.71 L394.07,249.96 L395.45,250.21 L396.82,250.45 L398.2,250.68 L399.58,250.88 L400.95,251.08 L402.33,251.25 L403.71,251.4 L405.08,251.52 L406.46,251.63 L407.84,251.72 L409.22,251.78 L410.59,251.83 L411.97,251.86 L413.35,251.87 L414.72,251.86 L416.1,251.84 L417.48,251.8 L418.85,251.75 L420.23,251.68 L421.61,251.59 L422.98,251.5 L424.36,251.4 L425.74,251.3 L427.12,251.21 L428.49,251.12 L429.87,251.06 L431.25,251.01 L432.62,250.99 L434,251.01 L434,252.99 L432.62,253.01 L431.25,252.99 L429.87,252.94 L428.49,252.88 L427.12,252.79 L425.74,252.7 L424.36,252.6 L422.98,252.5 L421.61,252.41 L420.23,252.32 L418.85,252.25 L417.48,252.2 L416.1,252.16 L414.72,252.14 L413.35,252.13 L411.97,252.14 L410.59,252.17 L409.22,252.22 L407.84,252.28 L406.46,252.37 L405.08,252.48 L403.71,252.6 L402.33,252.75 L400.95,252.92 L399.58,253.12 L398.2,253.32 L396.82,253.55 L395.45,253.79 L394.07,254.04 L392.69,254.29 L391.32,254.54 L389.94,254.78 L388.56,255 L387.18,255.18 L385.81,255.31 L384.43,255.39 L383.05,255.4 L381.68,255.34 L380.3,255.21Z" fill="#bba3f4" stroke="#333" stroke-width="0.45" stroke-linejoin="round"/>
<circle cx="381.5" cy="252" r="1.65" fill="#6a2bd9" stroke="#17092f" stroke-width="0.6"/>
<circle cx="381.5" cy="253" r="1.65" fill="#6a2bd9" stroke="#17092f" stroke-width="0.6"/>
<circle cx="382.8" cy="250.05" r="1.65" fill="#6a2bd9" stroke="#17092f" stroke-width="0.6"/>
<circle cx="394" cy="252" r="1.65" fill="#6a2bd9" stroke="#17092f" stroke-width="0.6"/>
<circle cx="432.8" cy="252" r="1.65" fill="#6a2bd9" stroke="#17092f" stroke-width="0.6"/>
<path d="M406.8,258.58 L408.05,258.37 L409.3,258.21 L410.55,258.12 L411.79,258.1 L413.04,258.14 L414.29,258.23 L415.54,258.37 L416.79,258.54 L418.04,258.73 L419.29,258.93 L420.54,259.12 L421.78,259.3 L423.03,259.46 L424.28,259.61 L425.53,259.75 L426.78,259.88 L428.03,260 L429.28,260.11 L430.53,260.22 L431.77,260.33 L433.02,260.42 L434.27,260.49 L435.52,260.55 L436.77,260.57 L438.02,260.56 L439.27,260.51 L440.52,260.43 L441.76,260.32 L443.01,260.18 L444.26,260.02 L445.51,259.85 L446.76,259.69 L448.01,259.54 L449.26,259.43 L450.51,259.35 L451.75,259.32 L453,259.33 L454.25,259.4 L455.5,259.51 L455.5,263.49 L454.25,263.6 L453,263.67 L451.75,263.68 L450.51,263.65 L449.26,263.57 L448.01,263.46 L446.76,263.31 L445.51,263.15 L444.26,262.98 L443.01,262.82 L441.76,262.68 L440.52,262.57 L439.27,262.49 L438.02,262.44 L436.77,262.43 L435.52,262.45 L434.27,262.51 L433.02,262.58 L431.77,262.67 L430.53,262.78 L429.28,262.89 L428.03,263 L426.78,263.12 L425.53,263.25 L424.28,263.39 L423.03,263.54 L421.78,263.7 L420.54,263.88 L419.29,264.07 L418.04,264.27 L416.79,264.46 L415.54,264.63 L414.29,264.77 L413.04,264.86 L411.79,264.9 L410.55,264.88 L409.3,264.79 L408.05,264.63 L406.8,264.42Z" fill="#c9cdfa" stroke="#333" stroke-width="0.45" stroke-linejoin="round"/>
<circle cx="408" cy="261.5" r="1.65" fill="#0d8ff0" stroke="#021f34" stroke-width="0.6"/>
<circle cx="411" cy="261.5" r="1.65" fill="#0d8ff0" stroke="#021f34" stroke-width="0.6"/>
<circle cx="413.5" cy="261.5" r="1.65" fill="#0d8ff0" stroke="#021f34" stroke-width="0.6"/>
<circle cx="427.3" cy="261.5" r="1.65" fill="#0d8ff0" stroke="#021f34" stroke-width="0.6"/>
<circle cx="449.8" cy="261.5" r="1.65" fill="#0d8ff0" stroke="#021f34" stroke-width="0.6"/>
<circle cx="454.3" cy="261.5" r="1.65" fill="#0d8ff0" stroke="#021f34" stroke-width="0.6"/>
<line x1="381.5" y1="226.5" x2="381.5" y2="268.45" stroke="#1a1a1a" stroke-width="0.9" />
<line x1="381.05" y1="268" x2="464.45" y2="268" stroke="#1a1a1a" stroke-width="0.9" />
<line x1="381.5" y1="268" x2="381.5" y2="270.2" stroke="#1a1a1a" stroke-width="0.7" />
<text x="381.5" y="277.3" font-size="6.1" text-anchor="middle" stroke="#000" stroke-width="0.16">0.00</text>
<line x1="409" y1="268" x2="409" y2="270.2" stroke="#1a1a1a" stroke-width="0.7" />
<text x="409" y="277.3" font-size="6.1" text-anchor="middle" stroke="#000" stroke-width="0.16">0.02</text>
<line x1="436.5" y1="268" x2="436.5" y2="270.2" stroke="#1a1a1a" stroke-width="0.7" />
<text x="436.5" y="277.3" font-size="6.1" text-anchor="middle" stroke="#000" stroke-width="0.16">0.04</text>
<line x1="464" y1="268" x2="464" y2="270.2" stroke="#1a1a1a" stroke-width="0.7" />
<text x="464" y="277.3" font-size="6.1" text-anchor="middle" stroke="#000" stroke-width="0.16">0.06</text>
<line x1="379.9" y1="233" x2="381.5" y2="233" stroke="#1a1a1a" stroke-width="0.6" />
<line x1="379.9" y1="242.5" x2="381.5" y2="242.5" stroke="#1a1a1a" stroke-width="0.6" />
<line x1="379.9" y1="252" x2="381.5" y2="252" stroke="#1a1a1a" stroke-width="0.6" />
<line x1="379.9" y1="261.5" x2="381.5" y2="261.5" stroke="#1a1a1a" stroke-width="0.6" />
<text x="378" y="235" font-size="5.85" text-anchor="end" stroke="#000" stroke-width="0.16">LV::Conca</text>
<text x="378" y="244.5" font-size="5.85" text-anchor="end" stroke="#000" stroke-width="0.16">LV::Conca-27</text>
<text x="378" y="254" font-size="5.85" text-anchor="end" stroke="#000" stroke-width="0.16">LV::UB-A7</text>
<text x="378" y="263.5" font-size="5.85" text-anchor="end" stroke="#000" stroke-width="0.16">LV::UB-A7-27</text>
<text x="422.5" y="286" font-size="5.4" text-anchor="middle" stroke="#000" stroke-width="0.16">% of CD4+ IFNγ+ TNFα+</text>
<line x1="460.6" y1="252" x2="460.6" y2="261.5" stroke="#222" stroke-width="0.6" />
<text x="464.4" y="259.2" font-size="6.5" text-anchor="middle" font-weight="bold" stroke="#000" stroke-width="0.16">*</text>
<line x1="488.4" y1="233" x2="570.9" y2="233" stroke="#b9b9b9" stroke-width="0.7" />
<line x1="488.4" y1="242.5" x2="570.9" y2="242.5" stroke="#b9b9b9" stroke-width="0.7" />
<line x1="488.4" y1="252" x2="570.9" y2="252" stroke="#b9b9b9" stroke-width="0.7" />
<line x1="488.4" y1="261.5" x2="570.9" y2="261.5" stroke="#b9b9b9" stroke-width="0.7" />
<text x="530" y="225.2" font-size="9.8" text-anchor="middle" font-style="italic" stroke="#000" stroke-width="0.16">Dhx35</text>
<path d="M487.2,230.15 L487.52,229.94 L487.84,229.77 L488.15,229.66 L488.47,229.6 L488.79,229.6 L489.11,229.65 L489.43,229.75 L489.74,229.88 L490.06,230.02 L490.38,230.18 L490.7,230.33 L491.02,230.47 L491.33,230.6 L491.65,230.7 L491.97,230.78 L492.29,230.84 L492.61,230.89 L492.92,230.93 L493.24,230.98 L493.56,231.02 L493.88,231.06 L494.19,231.1 L494.51,231.15 L494.83,231.19 L495.15,231.23 L495.47,231.26 L495.78,231.27 L496.1,231.28 L496.42,231.27 L496.74,231.25 L497.06,231.23 L497.37,231.21 L497.69,231.2 L498.01,231.21 L498.33,231.23 L498.65,231.28 L498.96,231.35 L499.28,231.45 L499.6,231.56 L499.6,234.44 L499.28,234.55 L498.96,234.65 L498.65,234.72 L498.33,234.77 L498.01,234.79 L497.69,234.8 L497.37,234.79 L497.06,234.77 L496.74,234.75 L496.42,234.73 L496.1,234.72 L495.78,234.73 L495.47,234.74 L495.15,234.77 L494.83,234.81 L494.51,234.85 L494.19,234.9 L493.88,234.94 L493.56,234.98 L493.24,235.02 L492.92,235.07 L492.61,235.11 L492.29,235.16 L491.97,235.22 L491.65,235.3 L491.33,235.4 L491.02,235.53 L490.7,235.67 L490.38,235.82 L490.06,235.98 L489.74,236.12 L489.43,236.25 L489.11,236.35 L488.79,236.4 L488.47,236.4 L488.15,236.34 L487.84,236.23 L487.52,236.06 L487.2,235.85Z" fill="#eddaa6" stroke="#333" stroke-width="0.45" stroke-linejoin="round"/>
<circle cx="488.4" cy="233" r="1.65" fill="#c9960c" stroke="#2c2102" stroke-width="0.6"/>
<circle cx="488.4" cy="234" r="1.65" fill="#c9960c" stroke="#2c2102" stroke-width="0.6"/>
<circle cx="493.4" cy="233" r="1.65" fill="#c9960c" stroke="#2c2102" stroke-width="0.6"/>
<circle cx="498.4" cy="233" r="1.65" fill="#c9960c" stroke="#2c2102" stroke-width="0.6"/>
<path d="M489.7,239.66 L491.32,239.44 L492.94,239.26 L494.56,239.15 L496.18,239.1 L497.8,239.12 L499.42,239.2 L501.04,239.34 L502.66,239.53 L504.28,239.76 L505.91,240.01 L507.53,240.29 L509.15,240.56 L510.77,240.83 L512.39,241.09 L514.01,241.33 L515.63,241.54 L517.25,241.73 L518.87,241.88 L520.49,242.01 L522.11,242.1 L523.73,242.17 L525.35,242.2 L526.97,242.21 L528.59,242.19 L530.21,242.14 L531.83,242.07 L533.45,241.98 L535.07,241.86 L536.69,241.74 L538.32,241.6 L539.94,241.46 L541.56,241.33 L543.18,241.21 L544.8,241.11 L546.42,241.04 L548.04,241 L549.66,241 L551.28,241.03 L552.9,241.1 L552.9,243.9 L551.28,243.97 L549.66,244 L548.04,244 L546.42,243.96 L544.8,243.89 L543.18,243.79 L541.56,243.67 L539.94,243.54 L538.32,243.4 L536.69,243.26 L535.07,243.14 L533.45,243.02 L531.83,242.93 L530.21,242.86 L528.59,242.81 L526.97,242.79 L525.35,242.8 L523.73,242.83 L522.11,242.9 L520.49,242.99 L518.87,243.12 L517.25,243.27 L515.63,243.46 L514.01,243.67 L512.39,243.91 L510.77,244.17 L509.15,244.44 L507.53,244.71 L505.91,244.99 L504.28,245.24 L502.66,245.47 L501.04,245.66 L499.42,245.8 L497.8,245.88 L496.18,245.9 L494.56,245.85 L492.94,245.74 L491.32,245.56 L489.7,245.34Z" fill="#f9c6ab" stroke="#333" stroke-width="0.45" stroke-linejoin="round"/>
<circle cx="490.9" cy="242.5" r="1.65" fill="#e8590c" stroke="#331302" stroke-width="0.6"/>
<circle cx="492.9" cy="242.5" r="1.65" fill="#e8590c" stroke="#331302" stroke-width="0.6"/>
<circle cx="496.2" cy="242.5" r="1.65" fill="#e8590c" stroke="#331302" stroke-width="0.6"/>
<circle cx="499.2" cy="242.5" r="1.65" fill="#e8590c" stroke="#331302" stroke-width="0.6"/>
<circle cx="506.7" cy="242.5" r="1.65" fill="#e8590c" stroke="#331302" stroke-width="0.6"/>
<circle cx="546.2" cy="242.5" r="1.65" fill="#e8590c" stroke="#331302" stroke-width="0.6"/>
<circle cx="551.7" cy="242.5" r="1.65" fill="#e8590c" stroke="#331302" stroke-width="0.6"/>
<path d="M487.2,249.78 L487.67,249.6 L488.13,249.47 L488.6,249.41 L489.07,249.41 L489.53,249.48 L490,249.62 L490.47,249.8 L490.93,250.03 L491.4,250.27 L491.87,250.52 L492.33,250.76 L492.8,250.98 L493.27,251.17 L493.73,251.32 L494.2,251.42 L494.67,251.48 L495.13,251.49 L495.6,251.45 L496.07,251.36 L496.53,251.23 L497,251.05 L497.47,250.84 L497.93,250.59 L498.4,250.32 L498.87,250.04 L499.33,249.74 L499.8,249.46 L500.27,249.2 L500.73,248.97 L501.2,248.79 L501.67,248.66 L502.13,248.6 L502.6,248.6 L503.07,248.67 L503.53,248.8 L504,248.99 L504.47,249.22 L504.93,249.49 L505.4,249.78 L505.4,254.22 L504.93,254.51 L504.47,254.78 L504,255.01 L503.53,255.2 L503.07,255.33 L502.6,255.4 L502.13,255.4 L501.67,255.34 L501.2,255.21 L500.73,255.03 L500.27,254.8 L499.8,254.54 L499.33,254.26 L498.87,253.96 L498.4,253.68 L497.93,253.41 L497.47,253.16 L497,252.95 L496.53,252.77 L496.07,252.64 L495.6,252.55 L495.13,252.51 L494.67,252.52 L494.2,252.58 L493.73,252.68 L493.27,252.83 L492.8,253.02 L492.33,253.24 L491.87,253.48 L491.4,253.73 L490.93,253.97 L490.47,254.2 L490,254.38 L489.53,254.52 L489.07,254.59 L488.6,254.59 L488.13,254.53 L487.67,254.4 L487.2,254.22Z" fill="#bba3f4" stroke="#333" stroke-width="0.45" stroke-linejoin="round"/>
<circle cx="488.4" cy="252" r="1.65" fill="#6a2bd9" stroke="#17092f" stroke-width="0.6"/>
<circle cx="489.2" cy="253.95" r="1.65" fill="#6a2bd9" stroke="#17092f" stroke-width="0.6"/>
<circle cx="500.4" cy="252" r="1.65" fill="#6a2bd9" stroke="#17092f" stroke-width="0.6"/>
<circle cx="502.4" cy="252" r="1.65" fill="#6a2bd9" stroke="#17092f" stroke-width="0.6"/>
<circle cx="504.2" cy="253.3" r="1.65" fill="#6a2bd9" stroke="#17092f" stroke-width="0.6"/>
<path d="M487.2,259.37 L488.01,259.05 L488.81,258.76 L489.62,258.5 L490.42,258.3 L491.23,258.17 L492.03,258.1 L492.84,258.11 L493.64,258.18 L494.45,258.31 L495.25,258.49 L496.06,258.69 L496.86,258.91 L497.67,259.13 L498.47,259.34 L499.28,259.53 L500.08,259.69 L500.89,259.84 L501.69,259.97 L502.5,260.08 L503.3,260.18 L504.11,260.25 L504.91,260.31 L505.72,260.34 L506.52,260.35 L507.33,260.33 L508.13,260.3 L508.94,260.26 L509.74,260.2 L510.55,260.15 L511.35,260.1 L512.16,260.06 L512.96,260.04 L513.77,260.03 L514.57,260.04 L515.38,260.06 L516.18,260.11 L516.99,260.18 L517.79,260.27 L518.6,260.37 L518.6,262.63 L517.79,262.73 L516.99,262.82 L516.18,262.89 L515.38,262.94 L514.57,262.96 L513.77,262.97 L512.96,262.96 L512.16,262.94 L511.35,262.9 L510.55,262.85 L509.74,262.8 L508.94,262.74 L508.13,262.7 L507.33,262.67 L506.52,262.65 L505.72,262.66 L504.91,262.69 L504.11,262.75 L503.3,262.82 L502.5,262.92 L501.69,263.03 L500.89,263.16 L500.08,263.31 L499.28,263.47 L498.47,263.66 L497.67,263.87 L496.86,264.09 L496.06,264.31 L495.25,264.51 L494.45,264.69 L493.64,264.82 L492.84,264.89 L492.03,264.9 L491.23,264.83 L490.42,264.7 L489.62,264.5 L488.81,264.24 L488.01,263.95 L487.2,263.63Z" fill="#c9cdfa" stroke="#333" stroke-width="0.45" stroke-linejoin="round"/>
<circle cx="488.4" cy="261.5" r="1.65" fill="#0d8ff0" stroke="#021f34" stroke-width="0.6"/>
<circle cx="490.9" cy="261.5" r="1.65" fill="#0d8ff0" stroke="#021f34" stroke-width="0.6"/>
<circle cx="493.4" cy="261.5" r="1.65" fill="#0d8ff0" stroke="#021f34" stroke-width="0.6"/>
<circle cx="494.9" cy="262.8" r="1.65" fill="#0d8ff0" stroke="#021f34" stroke-width="0.6"/>
<circle cx="501.7" cy="261.5" r="1.65" fill="#0d8ff0" stroke="#021f34" stroke-width="0.6"/>
<circle cx="510.9" cy="261.5" r="1.65" fill="#0d8ff0" stroke="#021f34" stroke-width="0.6"/>
<circle cx="517.4" cy="261.5" r="1.65" fill="#0d8ff0" stroke="#021f34" stroke-width="0.6"/>
<line x1="488.4" y1="226.5" x2="488.4" y2="268.45" stroke="#1a1a1a" stroke-width="0.9" />
<line x1="487.95" y1="268" x2="571.35" y2="268" stroke="#1a1a1a" stroke-width="0.9" />
<line x1="488.4" y1="268" x2="488.4" y2="270.2" stroke="#1a1a1a" stroke-width="0.7" />
<text x="488.4" y="277.3" font-size="6.5" text-anchor="middle" stroke="#000" stroke-width="0.16">0.00</text>
<line x1="504.9" y1="268" x2="504.9" y2="270.2" stroke="#1a1a1a" stroke-width="0.7" />
<text x="504.9" y="277.3" font-size="6.5" text-anchor="middle" stroke="#000" stroke-width="0.16">0.02</text>
<line x1="521.4" y1="268" x2="521.4" y2="270.2" stroke="#1a1a1a" stroke-width="0.7" />
<text x="521.4" y="277.3" font-size="6.5" text-anchor="middle" stroke="#000" stroke-width="0.16">0.04</text>
<line x1="537.9" y1="268" x2="537.9" y2="270.2" stroke="#1a1a1a" stroke-width="0.7" />
<text x="537.9" y="277.3" font-size="6.5" text-anchor="middle" stroke="#000" stroke-width="0.16">0.06</text>
<line x1="554.4" y1="268" x2="554.4" y2="270.2" stroke="#1a1a1a" stroke-width="0.7" />
<text x="554.4" y="277.3" font-size="6.5" text-anchor="middle" stroke="#000" stroke-width="0.16">0.08</text>
<line x1="570.9" y1="268" x2="570.9" y2="270.2" stroke="#1a1a1a" stroke-width="0.7" />
<text x="570.9" y="277.3" font-size="6.5" text-anchor="middle" stroke="#000" stroke-width="0.16">0.10</text>
<line x1="486.8" y1="233" x2="488.4" y2="233" stroke="#1a1a1a" stroke-width="0.6" />
<line x1="486.8" y1="242.5" x2="488.4" y2="242.5" stroke="#1a1a1a" stroke-width="0.6" />
<line x1="486.8" y1="252" x2="488.4" y2="252" stroke="#1a1a1a" stroke-width="0.6" />
<line x1="486.8" y1="261.5" x2="488.4" y2="261.5" stroke="#1a1a1a" stroke-width="0.6" />
<line x1="596.5" y1="233" x2="679" y2="233" stroke="#b9b9b9" stroke-width="0.7" />
<line x1="596.5" y1="242.5" x2="679" y2="242.5" stroke="#b9b9b9" stroke-width="0.7" />
<line x1="596.5" y1="252" x2="679" y2="252" stroke="#b9b9b9" stroke-width="0.7" />
<line x1="596.5" y1="261.5" x2="679" y2="261.5" stroke="#b9b9b9" stroke-width="0.7" />
<text x="637.5" y="225.2" font-size="9.8" text-anchor="middle" font-style="italic" stroke="#000" stroke-width="0.16">E2f8-1</text>
<path d="M595.3,230.19 L595.89,229.93 L596.48,229.74 L597.07,229.63 L597.66,229.6 L598.25,229.64 L598.84,229.76 L599.43,229.92 L600.02,230.11 L600.61,230.31 L601.2,230.52 L601.79,230.71 L602.38,230.88 L602.97,231.03 L603.56,231.17 L604.15,231.31 L604.74,231.44 L605.33,231.57 L605.92,231.71 L606.51,231.86 L607.09,232.01 L607.68,232.16 L608.27,232.29 L608.86,232.41 L609.45,232.51 L610.04,232.57 L610.63,232.61 L611.22,232.61 L611.81,232.57 L612.4,232.51 L612.99,232.42 L613.58,232.31 L614.17,232.19 L614.76,232.07 L615.35,231.97 L615.94,231.88 L616.53,231.83 L617.12,231.81 L617.71,231.83 L618.3,231.89 L618.3,234.11 L617.71,234.17 L617.12,234.19 L616.53,234.17 L615.94,234.12 L615.35,234.03 L614.76,233.93 L614.17,233.81 L613.58,233.69 L612.99,233.58 L612.4,233.49 L611.81,233.43 L611.22,233.39 L610.63,233.39 L610.04,233.43 L609.45,233.49 L608.86,233.59 L608.27,233.71 L607.68,233.84 L607.09,233.99 L606.51,234.14 L605.92,234.29 L605.33,234.43 L604.74,234.56 L604.15,234.69 L603.56,234.83 L602.97,234.97 L602.38,235.12 L601.79,235.29 L601.2,235.48 L600.61,235.69 L600.02,235.89 L599.43,236.08 L598.84,236.24 L598.25,236.36 L597.66,236.4 L597.07,236.37 L596.48,236.26 L595.89,236.07 L595.3,235.81Z" fill="#eddaa6" stroke="#333" stroke-width="0.45" stroke-linejoin="round"/>
<circle cx="596.5" cy="233" r="1.65" fill="#c9960c" stroke="#2c2102" stroke-width="0.6"/>
<circle cx="596.5" cy="234" r="1.65" fill="#c9960c" stroke="#2c2102" stroke-width="0.6"/>
<circle cx="599.2" cy="233" r="1.65" fill="#c9960c" stroke="#2c2102" stroke-width="0.6"/>
<circle cx="604.7" cy="233" r="1.65" fill="#c9960c" stroke="#2c2102" stroke-width="0.6"/>
<circle cx="617.1" cy="233" r="1.65" fill="#c9960c" stroke="#2c2102" stroke-width="0.6"/>
<path d="M595.3,239.28 L597.36,239.15 L599.42,239.1 L601.48,239.13 L603.55,239.24 L605.61,239.41 L607.67,239.63 L609.73,239.89 L611.79,240.17 L613.85,240.45 L615.92,240.73 L617.98,241 L620.04,241.25 L622.1,241.47 L624.16,241.67 L626.22,241.84 L628.28,241.99 L630.35,242.11 L632.41,242.21 L634.47,242.29 L636.53,242.35 L638.59,242.39 L640.65,242.42 L642.72,242.43 L644.78,242.44 L646.84,242.43 L648.9,242.42 L650.96,242.39 L653.02,242.35 L655.08,242.3 L657.15,242.23 L659.21,242.16 L661.27,242.08 L663.33,242 L665.39,241.92 L667.45,241.84 L669.52,241.78 L671.58,241.74 L673.64,241.72 L675.7,241.72 L675.7,243.28 L673.64,243.28 L671.58,243.26 L669.52,243.22 L667.45,243.16 L665.39,243.08 L663.33,243 L661.27,242.92 L659.21,242.84 L657.15,242.77 L655.08,242.7 L653.02,242.65 L650.96,242.61 L648.9,242.58 L646.84,242.57 L644.78,242.56 L642.72,242.57 L640.65,242.58 L638.59,242.61 L636.53,242.65 L634.47,242.71 L632.41,242.79 L630.35,242.89 L628.28,243.01 L626.22,243.16 L624.16,243.33 L622.1,243.53 L620.04,243.75 L617.98,244 L615.92,244.27 L613.85,244.55 L611.79,244.83 L609.73,245.11 L607.67,245.37 L605.61,245.59 L603.55,245.76 L601.48,245.87 L599.42,245.9 L597.36,245.85 L595.3,245.72Z" fill="#f9c6ab" stroke="#333" stroke-width="0.45" stroke-linejoin="round"/>
<circle cx="596.5" cy="242.5" r="1.65" fill="#e8590c" stroke="#331302" stroke-width="0.6"/>
<circle cx="596.5" cy="243.5" r="1.65" fill="#e8590c" stroke="#331302" stroke-width="0.6"/>
<circle cx="596.5" cy="241.5" r="1.65" fill="#e8590c" stroke="#331302" stroke-width="0.6"/>
<circle cx="602" cy="242.5" r="1.65" fill="#e8590c" stroke="#331302" stroke-width="0.6"/>
<circle cx="614.2" cy="242.5" r="1.65" fill="#e8590c" stroke="#331302" stroke-width="0.6"/>
<circle cx="674.5" cy="242.5" r="1.65" fill="#e8590c" stroke="#331302" stroke-width="0.6"/>
<path d="M595.3,248.73 L596.01,248.62 L596.72,248.6 L597.42,248.67 L598.13,248.82 L598.84,249.04 L599.55,249.31 L600.25,249.62 L600.96,249.93 L601.67,250.23 L602.38,250.5 L603.08,250.73 L603.79,250.9 L604.5,251.03 L605.21,251.1 L605.92,251.13 L606.62,251.11 L607.33,251.07 L608.04,251.01 L608.75,250.95 L609.45,250.89 L610.16,250.84 L610.87,250.8 L611.58,250.79 L612.28,250.8 L612.99,250.82 L613.7,250.85 L614.41,250.88 L615.12,250.91 L615.82,250.92 L616.53,250.93 L617.24,250.92 L617.95,250.9 L618.65,250.87 L619.36,250.84 L620.07,250.81 L620.78,250.8 L621.48,250.8 L622.19,250.83 L622.9,250.88 L622.9,253.12 L622.19,253.17 L621.48,253.2 L620.78,253.2 L620.07,253.19 L619.36,253.16 L618.65,253.13 L617.95,253.1 L617.24,253.08 L616.53,253.07 L615.82,253.08 L615.12,253.09 L614.41,253.12 L613.7,253.15 L612.99,253.18 L612.28,253.2 L611.58,253.21 L610.87,253.2 L610.16,253.16 L609.45,253.11 L608.75,253.05 L608.04,252.99 L607.33,252.93 L606.62,252.89 L605.92,252.87 L605.21,252.9 L604.5,252.97 L603.79,253.1 L603.08,253.27 L602.38,253.5 L601.67,253.77 L600.96,254.07 L600.25,254.38 L599.55,254.69 L598.84,254.96 L598.13,255.18 L597.42,255.33 L596.72,255.4 L596.01,255.38 L595.3,255.27Z" fill="#bba3f4" stroke="#333" stroke-width="0.45" stroke-linejoin="round"/>
<circle cx="596.5" cy="252" r="1.65" fill="#6a2bd9" stroke="#17092f" stroke-width="0.6"/>
<circle cx="596.5" cy="253" r="1.65" fill="#6a2bd9" stroke="#17092f" stroke-width="0.6"/>
<circle cx="596.5" cy="251" r="1.65" fill="#6a2bd9" stroke="#17092f" stroke-width="0.6"/>
<circle cx="611.1" cy="252" r="1.65" fill="#6a2bd9" stroke="#17092f" stroke-width="0.6"/>
<circle cx="621.7" cy="252" r="1.65" fill="#6a2bd9" stroke="#17092f" stroke-width="0.6"/>
<path d="M595.3,258.68 L596.38,258.57 L597.46,258.52 L598.55,258.52 L599.63,258.55 L600.71,258.61 L601.79,258.66 L602.87,258.71 L603.96,258.73 L605.04,258.73 L606.12,258.7 L607.2,258.65 L608.28,258.6 L609.37,258.56 L610.45,258.54 L611.53,258.55 L612.61,258.6 L613.69,258.68 L614.78,258.79 L615.86,258.92 L616.94,259.06 L618.02,259.17 L619.11,259.26 L620.19,259.31 L621.27,259.31 L622.35,259.27 L623.43,259.17 L624.52,259.05 L625.6,258.89 L626.68,258.72 L627.76,258.55 L628.84,258.39 L629.93,258.25 L631.01,258.15 L632.09,258.1 L633.17,258.1 L634.25,258.17 L635.34,258.29 L636.42,258.48 L637.5,258.71 L637.5,264.29 L636.42,264.52 L635.34,264.71 L634.25,264.83 L633.17,264.9 L632.09,264.9 L631.01,264.85 L629.93,264.75 L628.84,264.61 L627.76,264.45 L626.68,264.28 L625.6,264.11 L624.52,263.95 L623.43,263.83 L622.35,263.73 L621.27,263.69 L620.19,263.69 L619.11,263.74 L618.02,263.83 L616.94,263.94 L615.86,264.08 L614.78,264.21 L613.69,264.32 L612.61,264.4 L611.53,264.45 L610.45,264.46 L609.37,264.44 L608.28,264.4 L607.2,264.35 L606.12,264.3 L605.04,264.27 L603.96,264.27 L602.87,264.29 L601.79,264.34 L600.71,264.39 L599.63,264.45 L598.55,264.48 L597.46,264.48 L596.38,264.43 L595.3,264.32Z" fill="#c9cdfa" stroke="#333" stroke-width="0.45" stroke-linejoin="round"/>
<circle cx="596.5" cy="261.5" r="1.65" fill="#0d8ff0" stroke="#021f34" stroke-width="0.6"/>
<circle cx="596.5" cy="262.5" r="1.65" fill="#0d8ff0" stroke="#021f34" stroke-width="0.6"/>
<circle cx="610.2" cy="261.5" r="1.65" fill="#0d8ff0" stroke="#021f34" stroke-width="0.6"/>
<circle cx="612.9" cy="261.5" r="1.65" fill="#0d8ff0" stroke="#021f34" stroke-width="0.6"/>
<circle cx="626.5" cy="261.5" r="1.65" fill="#0d8ff0" stroke="#021f34" stroke-width="0.6"/>
<circle cx="633.5" cy="261.5" r="1.65" fill="#0d8ff0" stroke="#021f34" stroke-width="0.6"/>
<circle cx="636.3" cy="261.5" r="1.65" fill="#0d8ff0" stroke="#021f34" stroke-width="0.6"/>
<line x1="596.5" y1="226.5" x2="596.5" y2="268.45" stroke="#1a1a1a" stroke-width="0.9" />
<line x1="596.05" y1="268" x2="679.45" y2="268" stroke="#1a1a1a" stroke-width="0.9" />
<line x1="596.5" y1="268" x2="596.5" y2="270.2" stroke="#1a1a1a" stroke-width="0.7" />
<text x="596.5" y="277.3" font-size="6.5" text-anchor="middle" stroke="#000" stroke-width="0.16">0.00</text>
<line x1="624" y1="268" x2="624" y2="270.2" stroke="#1a1a1a" stroke-width="0.7" />
<text x="624" y="277.3" font-size="6.5" text-anchor="middle" stroke="#000" stroke-width="0.16">0.02</text>
<line x1="651.5" y1="268" x2="651.5" y2="270.2" stroke="#1a1a1a" stroke-width="0.7" />
<text x="651.5" y="277.3" font-size="6.5" text-anchor="middle" stroke="#000" stroke-width="0.16">0.04</text>
<line x1="679" y1="268" x2="679" y2="270.2" stroke="#1a1a1a" stroke-width="0.7" />
<text x="679" y="277.3" font-size="6.5" text-anchor="middle" stroke="#000" stroke-width="0.16">0.06</text>
<line x1="594.9" y1="233" x2="596.5" y2="233" stroke="#1a1a1a" stroke-width="0.6" />
<line x1="594.9" y1="242.5" x2="596.5" y2="242.5" stroke="#1a1a1a" stroke-width="0.6" />
<line x1="594.9" y1="252" x2="596.5" y2="252" stroke="#1a1a1a" stroke-width="0.6" />
<line x1="594.9" y1="261.5" x2="596.5" y2="261.5" stroke="#1a1a1a" stroke-width="0.6" />
<line x1="381.5" y1="308" x2="464" y2="308" stroke="#b9b9b9" stroke-width="0.7" />
<line x1="381.5" y1="317.5" x2="464" y2="317.5" stroke="#b9b9b9" stroke-width="0.7" />
<line x1="381.5" y1="327" x2="464" y2="327" stroke="#b9b9b9" stroke-width="0.7" />
<line x1="381.5" y1="336.5" x2="464" y2="336.5" stroke="#b9b9b9" stroke-width="0.7" />
<text x="422.5" y="300" font-size="9.8" text-anchor="middle" font-style="italic" stroke="#000" stroke-width="0.16">E2f8-2</text>
<path d="M380.3,305.29 L381.15,305.22 L382,305.22 L382.85,305.29 L383.71,305.42 L384.56,305.6 L385.41,305.8 L386.26,306.03 L387.11,306.24 L387.96,306.44 L388.81,306.6 L389.66,306.72 L390.52,306.78 L391.37,306.78 L392.22,306.74 L393.07,306.65 L393.92,306.52 L394.77,306.36 L395.62,306.18 L396.47,306 L397.33,305.82 L398.18,305.65 L399.03,305.49 L399.88,305.35 L400.73,305.24 L401.58,305.14 L402.43,305.05 L403.28,304.97 L404.14,304.9 L404.99,304.83 L405.84,304.76 L406.69,304.7 L407.54,304.65 L408.39,304.61 L409.24,304.6 L410.09,304.62 L410.95,304.69 L411.8,304.8 L412.65,304.95 L413.5,305.16 L413.5,310.84 L412.65,311.05 L411.8,311.2 L410.95,311.31 L410.09,311.38 L409.24,311.4 L408.39,311.39 L407.54,311.35 L406.69,311.3 L405.84,311.24 L404.99,311.17 L404.14,311.1 L403.28,311.03 L402.43,310.95 L401.58,310.86 L400.73,310.76 L399.88,310.65 L399.03,310.51 L398.18,310.35 L397.33,310.18 L396.47,310 L395.62,309.82 L394.77,309.64 L393.92,309.48 L393.07,309.35 L392.22,309.26 L391.37,309.22 L390.52,309.22 L389.66,309.28 L388.81,309.4 L387.96,309.56 L387.11,309.76 L386.26,309.97 L385.41,310.2 L384.56,310.4 L383.71,310.58 L382.85,310.71 L382,310.78 L381.15,310.78 L380.3,310.71Z" fill="#eddaa6" stroke="#333" stroke-width="0.45" stroke-linejoin="round"/>
<circle cx="381.5" cy="308" r="1.65" fill="#c9960c" stroke="#2c2102" stroke-width="0.6"/>
<circle cx="381.5" cy="309" r="1.65" fill="#c9960c" stroke="#2c2102" stroke-width="0.6"/>
<circle cx="398" cy="308" r="1.65" fill="#c9960c" stroke="#2c2102" stroke-width="0.6"/>
<circle cx="403.5" cy="308" r="1.65" fill="#c9960c" stroke="#2c2102" stroke-width="0.6"/>
<circle cx="411" cy="308" r="1.65" fill="#c9960c" stroke="#2c2102" stroke-width="0.6"/>
<circle cx="412.3" cy="309.95" r="1.65" fill="#c9960c" stroke="#2c2102" stroke-width="0.6"/>
<path d="M380.3,314.22 L382,314.12 L383.71,314.1 L385.41,314.16 L387.11,314.29 L388.81,314.49 L390.52,314.74 L392.22,315.02 L393.92,315.33 L395.62,315.64 L397.33,315.94 L399.03,316.22 L400.73,316.47 L402.43,316.7 L404.14,316.88 L405.84,317.04 L407.54,317.16 L409.24,317.25 L410.95,317.33 L412.65,317.38 L414.35,317.41 L416.05,317.43 L417.76,317.44 L419.46,317.44 L421.16,317.43 L422.86,317.4 L424.57,317.37 L426.27,317.33 L427.97,317.28 L429.67,317.21 L431.38,317.14 L433.08,317.05 L434.78,316.97 L436.48,316.88 L438.19,316.79 L439.89,316.72 L441.59,316.66 L443.29,316.62 L445,316.6 L446.7,316.61 L446.7,318.39 L445,318.4 L443.29,318.38 L441.59,318.34 L439.89,318.28 L438.19,318.21 L436.48,318.12 L434.78,318.03 L433.08,317.95 L431.38,317.86 L429.67,317.79 L427.97,317.72 L426.27,317.67 L424.57,317.63 L422.86,317.6 L421.16,317.57 L419.46,317.56 L417.76,317.56 L416.05,317.57 L414.35,317.59 L412.65,317.62 L410.95,317.67 L409.24,317.75 L407.54,317.84 L405.84,317.96 L404.14,318.12 L402.43,318.3 L400.73,318.53 L399.03,318.78 L397.33,319.06 L395.62,319.36 L393.92,319.67 L392.22,319.98 L390.52,320.26 L388.81,320.51 L387.11,320.71 L385.41,320.84 L383.71,320.9 L382,320.88 L380.3,320.78Z" fill="#f9c6ab" stroke="#333" stroke-width="0.45" stroke-linejoin="round"/>
<circle cx="381.5" cy="317.5" r="1.65" fill="#e8590c" stroke="#331302" stroke-width="0.6"/>
<circle cx="381.5" cy="318.5" r="1.65" fill="#e8590c" stroke="#331302" stroke-width="0.6"/>
<circle cx="381.5" cy="316.5" r="1.65" fill="#e8590c" stroke="#331302" stroke-width="0.6"/>
<circle cx="389.8" cy="317.5" r="1.65" fill="#e8590c" stroke="#331302" stroke-width="0.6"/>
<circle cx="445.5" cy="317.5" r="1.65" fill="#e8590c" stroke="#331302" stroke-width="0.6"/>
<path d="M380.3,324.08 L381.96,323.85 L383.63,323.7 L385.29,323.61 L386.96,323.6 L388.62,323.66 L390.28,323.77 L391.95,323.93 L393.61,324.12 L395.28,324.33 L396.94,324.55 L398.61,324.76 L400.27,324.96 L401.93,325.15 L403.6,325.33 L405.26,325.5 L406.93,325.67 L408.59,325.83 L410.25,325.98 L411.92,326.14 L413.58,326.28 L415.25,326.41 L416.91,326.53 L418.57,326.62 L420.24,326.7 L421.9,326.76 L423.57,326.79 L425.23,326.79 L426.89,326.78 L428.56,326.74 L430.22,326.68 L431.89,326.6 L433.55,326.5 L435.22,326.41 L436.88,326.31 L438.54,326.22 L440.21,326.14 L441.87,326.09 L443.54,326.07 L445.2,326.07 L445.2,327.93 L443.54,327.93 L441.87,327.91 L440.21,327.86 L438.54,327.78 L436.88,327.69 L435.22,327.59 L433.55,327.5 L431.89,327.4 L430.22,327.32 L428.56,327.26 L426.89,327.22 L425.23,327.21 L423.57,327.21 L421.9,327.24 L420.24,327.3 L418.57,327.38 L416.91,327.47 L415.25,327.59 L413.58,327.72 L411.92,327.86 L410.25,328.02 L408.59,328.17 L406.93,328.33 L405.26,328.5 L403.6,328.67 L401.93,328.85 L400.27,329.04 L398.61,329.24 L396.94,329.45 L395.28,329.67 L393.61,329.88 L391.95,330.07 L390.28,330.23 L388.62,330.34 L386.96,330.4 L385.29,330.39 L383.63,330.3 L381.96,330.15 L380.3,329.92Z" fill="#bba3f4" stroke="#333" stroke-width="0.45" stroke-linejoin="round"/>
<circle cx="381.5" cy="327" r="1.65" fill="#6a2bd9" stroke="#17092f" stroke-width="0.6"/>
<circle cx="381.5" cy="328" r="1.65" fill="#6a2bd9" stroke="#17092f" stroke-width="0.6"/>
<circle cx="388" cy="327" r="1.65" fill="#6a2bd9" stroke="#17092f" stroke-width="0.6"/>
<circle cx="392.3" cy="327" r="1.65" fill="#6a2bd9" stroke="#17092f" stroke-width="0.6"/>
<circle cx="405.5" cy="327" r="1.65" fill="#6a2bd9" stroke="#17092f" stroke-width="0.6"/>
<circle cx="444" cy="327" r="1.65" fill="#6a2bd9" stroke="#17092f" stroke-width="0.6"/>
<path d="M380.3,333.56 L381.95,333.35 L383.6,333.2 L385.25,333.12 L386.91,333.1 L388.56,333.15 L390.21,333.26 L391.86,333.43 L393.51,333.64 L395.16,333.88 L396.81,334.13 L398.46,334.38 L400.12,334.61 L401.77,334.81 L403.42,334.98 L405.07,335.11 L406.72,335.19 L408.37,335.24 L410.02,335.25 L411.67,335.23 L413.33,335.19 L414.98,335.14 L416.63,335.09 L418.28,335.03 L419.93,334.98 L421.58,334.94 L423.23,334.89 L424.88,334.86 L426.54,334.83 L428.19,334.8 L429.84,334.78 L431.49,334.77 L433.14,334.76 L434.79,334.77 L436.44,334.79 L438.09,334.83 L439.75,334.88 L441.4,334.95 L443.05,335.04 L444.7,335.15 L444.7,337.85 L443.05,337.96 L441.4,338.05 L439.75,338.12 L438.09,338.17 L436.44,338.21 L434.79,338.23 L433.14,338.24 L431.49,338.23 L429.84,338.22 L428.19,338.2 L426.54,338.17 L424.88,338.14 L423.23,338.11 L421.58,338.06 L419.93,338.02 L418.28,337.97 L416.63,337.91 L414.98,337.86 L413.33,337.81 L411.67,337.77 L410.02,337.75 L408.37,337.76 L406.72,337.81 L405.07,337.89 L403.42,338.02 L401.77,338.19 L400.12,338.39 L398.46,338.62 L396.81,338.87 L395.16,339.12 L393.51,339.36 L391.86,339.57 L390.21,339.74 L388.56,339.85 L386.91,339.9 L385.25,339.88 L383.6,339.8 L381.95,339.65 L380.3,339.44Z" fill="#c9cdfa" stroke="#333" stroke-width="0.45" stroke-linejoin="round"/>
<circle cx="381.5" cy="336.5" r="1.65" fill="#0d8ff0" stroke="#021f34" stroke-width="0.6"/>
<circle cx="381.5" cy="337.5" r="1.65" fill="#0d8ff0" stroke="#021f34" stroke-width="0.6"/>
<circle cx="389.8" cy="336.5" r="1.65" fill="#0d8ff0" stroke="#021f34" stroke-width="0.6"/>
<circle cx="393.5" cy="336.5" r="1.65" fill="#0d8ff0" stroke="#021f34" stroke-width="0.6"/>
<circle cx="416.5" cy="336.5" r="1.65" fill="#0d8ff0" stroke="#021f34" stroke-width="0.6"/>
<circle cx="431" cy="336.5" r="1.65" fill="#0d8ff0" stroke="#021f34" stroke-width="0.6"/>
<circle cx="443.5" cy="336.5" r="1.65" fill="#0d8ff0" stroke="#021f34" stroke-width="0.6"/>
<line x1="381.5" y1="301.5" x2="381.5" y2="343.45" stroke="#1a1a1a" stroke-width="0.9" />
<line x1="381.05" y1="343" x2="464.45" y2="343" stroke="#1a1a1a" stroke-width="0.9" />
<line x1="381.5" y1="343" x2="381.5" y2="345.2" stroke="#1a1a1a" stroke-width="0.7" />
<text x="381.5" y="352.3" font-size="6.5" text-anchor="middle" stroke="#000" stroke-width="0.16">0.00</text>
<line x1="402.12" y1="343" x2="402.12" y2="345.2" stroke="#1a1a1a" stroke-width="0.7" />
<text x="402.12" y="352.3" font-size="6.5" text-anchor="middle" stroke="#000" stroke-width="0.16">0.01</text>
<line x1="422.75" y1="343" x2="422.75" y2="345.2" stroke="#1a1a1a" stroke-width="0.7" />
<text x="422.75" y="352.3" font-size="6.5" text-anchor="middle" stroke="#000" stroke-width="0.16">0.02</text>
<line x1="443.38" y1="343" x2="443.38" y2="345.2" stroke="#1a1a1a" stroke-width="0.7" />
<text x="443.38" y="352.3" font-size="6.5" text-anchor="middle" stroke="#000" stroke-width="0.16">0.03</text>
<line x1="464" y1="343" x2="464" y2="345.2" stroke="#1a1a1a" stroke-width="0.7" />
<text x="464" y="352.3" font-size="6.5" text-anchor="middle" stroke="#000" stroke-width="0.16">0.04</text>
<line x1="379.9" y1="308" x2="381.5" y2="308" stroke="#1a1a1a" stroke-width="0.6" />
<line x1="379.9" y1="317.5" x2="381.5" y2="317.5" stroke="#1a1a1a" stroke-width="0.6" />
<line x1="379.9" y1="327" x2="381.5" y2="327" stroke="#1a1a1a" stroke-width="0.6" />
<line x1="379.9" y1="336.5" x2="381.5" y2="336.5" stroke="#1a1a1a" stroke-width="0.6" />
<line x1="488.4" y1="308" x2="570.9" y2="308" stroke="#b9b9b9" stroke-width="0.7" />
<line x1="488.4" y1="317.5" x2="570.9" y2="317.5" stroke="#b9b9b9" stroke-width="0.7" />
<line x1="488.4" y1="327" x2="570.9" y2="327" stroke="#b9b9b9" stroke-width="0.7" />
<line x1="488.4" y1="336.5" x2="570.9" y2="336.5" stroke="#b9b9b9" stroke-width="0.7" />
<text x="529.5" y="300" font-size="9.8" text-anchor="middle" font-style="italic" stroke="#000" stroke-width="0.16">Mitch1</text>
<path d="M487.2,304.95 L487.62,304.75 L488.04,304.63 L488.46,304.6 L488.88,304.66 L489.3,304.8 L489.72,305.01 L490.14,305.29 L490.56,305.6 L490.98,305.93 L491.41,306.26 L491.83,306.57 L492.25,306.84 L492.67,307.08 L493.09,307.27 L493.51,307.41 L493.93,307.51 L494.35,307.55 L494.77,307.56 L495.19,307.53 L495.61,307.46 L496.03,307.37 L496.45,307.25 L496.87,307.11 L497.29,306.97 L497.71,306.81 L498.13,306.67 L498.55,306.52 L498.97,306.4 L499.39,306.29 L499.82,306.21 L500.24,306.15 L500.66,306.13 L501.08,306.13 L501.5,306.17 L501.92,306.23 L502.34,306.32 L502.76,306.44 L503.18,306.57 L503.6,306.72 L503.6,309.28 L503.18,309.43 L502.76,309.56 L502.34,309.68 L501.92,309.77 L501.5,309.83 L501.08,309.87 L500.66,309.87 L500.24,309.85 L499.82,309.79 L499.39,309.71 L498.97,309.6 L498.55,309.48 L498.13,309.33 L497.71,309.19 L497.29,309.03 L496.87,308.89 L496.45,308.75 L496.03,308.63 L495.61,308.54 L495.19,308.47 L494.77,308.44 L494.35,308.45 L493.93,308.49 L493.51,308.59 L493.09,308.73 L492.67,308.92 L492.25,309.16 L491.83,309.43 L491.41,309.74 L490.98,310.07 L490.56,310.4 L490.14,310.71 L489.72,310.99 L489.3,311.2 L488.88,311.34 L488.46,311.4 L488.04,311.37 L487.62,311.25 L487.2,311.05Z" fill="#eddaa6" stroke="#333" stroke-width="0.45" stroke-linejoin="round"/>
<circle cx="488.4" cy="308" r="1.65" fill="#c9960c" stroke="#2c2102" stroke-width="0.6"/>
<circle cx="488.4" cy="309" r="1.65" fill="#c9960c" stroke="#2c2102" stroke-width="0.6"/>
<circle cx="488.4" cy="307" r="1.65" fill="#c9960c" stroke="#2c2102" stroke-width="0.6"/>
<circle cx="499.2" cy="308" r="1.65" fill="#c9960c" stroke="#2c2102" stroke-width="0.6"/>
<circle cx="502.4" cy="308" r="1.65" fill="#c9960c" stroke="#2c2102" stroke-width="0.6"/>
<path d="M487.2,314.39 L488.95,314.21 L490.7,314.12 L492.45,314.1 L494.19,314.17 L495.94,314.31 L497.69,314.52 L499.44,314.78 L501.19,315.08 L502.94,315.39 L504.69,315.71 L506.44,316.02 L508.18,316.3 L509.93,316.56 L511.68,316.77 L513.43,316.96 L515.18,317.1 L516.93,317.22 L518.68,317.31 L520.43,317.37 L522.17,317.41 L523.92,317.44 L525.67,317.46 L527.42,317.46 L529.17,317.46 L530.92,317.45 L532.67,317.43 L534.42,317.4 L536.16,317.36 L537.91,317.3 L539.66,317.24 L541.41,317.17 L543.16,317.09 L544.91,317.01 L546.66,316.93 L548.41,316.86 L550.15,316.8 L551.9,316.76 L553.65,316.74 L555.4,316.74 L555.4,318.26 L553.65,318.26 L551.9,318.24 L550.15,318.2 L548.41,318.14 L546.66,318.07 L544.91,317.99 L543.16,317.91 L541.41,317.83 L539.66,317.76 L537.91,317.7 L536.16,317.64 L534.42,317.6 L532.67,317.57 L530.92,317.55 L529.17,317.54 L527.42,317.54 L525.67,317.54 L523.92,317.56 L522.17,317.59 L520.43,317.63 L518.68,317.69 L516.93,317.78 L515.18,317.9 L513.43,318.04 L511.68,318.23 L509.93,318.44 L508.18,318.7 L506.44,318.98 L504.69,319.29 L502.94,319.61 L501.19,319.92 L499.44,320.22 L497.69,320.48 L495.94,320.69 L494.19,320.83 L492.45,320.9 L490.7,320.88 L488.95,320.79 L487.2,320.61Z" fill="#f9c6ab" stroke="#333" stroke-width="0.45" stroke-linejoin="round"/>
<circle cx="488.4" cy="317.5" r="1.65" fill="#e8590c" stroke="#331302" stroke-width="0.6"/>
<circle cx="488.4" cy="318.5" r="1.65" fill="#e8590c" stroke="#331302" stroke-width="0.6"/>
<circle cx="488.4" cy="316.5" r="1.65" fill="#e8590c" stroke="#331302" stroke-width="0.6"/>
<circle cx="496.7" cy="317.5" r="1.65" fill="#e8590c" stroke="#331302" stroke-width="0.6"/>
<circle cx="499.2" cy="317.5" r="1.65" fill="#e8590c" stroke="#331302" stroke-width="0.6"/>
<circle cx="554.2" cy="317.5" r="1.65" fill="#e8590c" stroke="#331302" stroke-width="0.6"/>
<path d="M487.2,324.43 L487.6,324.13 L488.01,323.87 L488.41,323.7 L488.81,323.61 L489.21,323.6 L489.62,323.67 L490.02,323.81 L490.42,323.98 L490.82,324.17 L491.23,324.35 L491.63,324.49 L492.03,324.6 L492.43,324.65 L492.84,324.66 L493.24,324.64 L493.64,324.61 L494.04,324.59 L494.45,324.58 L494.85,324.62 L495.25,324.7 L495.65,324.83 L496.06,325 L496.46,325.19 L496.86,325.39 L497.26,325.59 L497.67,325.76 L498.07,325.89 L498.47,325.99 L498.87,326.03 L499.28,326.04 L499.68,326.01 L500.08,325.96 L500.48,325.9 L500.89,325.85 L501.29,325.82 L501.69,325.81 L502.09,325.84 L502.5,325.9 L502.9,325.99 L502.9,328.01 L502.5,328.1 L502.09,328.16 L501.69,328.19 L501.29,328.18 L500.89,328.15 L500.48,328.1 L500.08,328.04 L499.68,327.99 L499.28,327.96 L498.87,327.97 L498.47,328.01 L498.07,328.11 L497.67,328.24 L497.26,328.41 L496.86,328.61 L496.46,328.81 L496.06,329 L495.65,329.17 L495.25,329.3 L494.85,329.38 L494.45,329.42 L494.04,329.41 L493.64,329.39 L493.24,329.36 L492.84,329.34 L492.43,329.35 L492.03,329.4 L491.63,329.51 L491.23,329.65 L490.82,329.83 L490.42,330.02 L490.02,330.19 L489.62,330.33 L489.21,330.4 L488.81,330.39 L488.41,330.3 L488.01,330.13 L487.6,329.87 L487.2,329.57Z" fill="#bba3f4" stroke="#333" stroke-width="0.45" stroke-linejoin="round"/>
<circle cx="488.4" cy="327" r="1.65" fill="#6a2bd9" stroke="#17092f" stroke-width="0.6"/>
<circle cx="488.4" cy="328" r="1.65" fill="#6a2bd9" stroke="#17092f" stroke-width="0.6"/>
<circle cx="489.9" cy="325.7" r="1.65" fill="#6a2bd9" stroke="#17092f" stroke-width="0.6"/>
<circle cx="494.2" cy="327" r="1.65" fill="#6a2bd9" stroke="#17092f" stroke-width="0.6"/>
<circle cx="495.4" cy="328.95" r="1.65" fill="#6a2bd9" stroke="#17092f" stroke-width="0.6"/>
<circle cx="501.7" cy="327" r="1.65" fill="#6a2bd9" stroke="#17092f" stroke-width="0.6"/>
<path d="M487.2,333.39 L488.53,333.22 L489.86,333.12 L491.19,333.1 L492.52,333.16 L493.85,333.29 L495.18,333.46 L496.52,333.67 L497.85,333.9 L499.18,334.12 L500.51,334.34 L501.84,334.53 L503.17,334.71 L504.5,334.87 L505.83,335.01 L507.16,335.15 L508.49,335.28 L509.82,335.42 L511.15,335.55 L512.48,335.68 L513.82,335.81 L515.15,335.93 L516.48,336.03 L517.81,336.12 L519.14,336.2 L520.47,336.25 L521.8,336.27 L523.13,336.28 L524.46,336.26 L525.79,336.22 L527.12,336.16 L528.45,336.08 L529.78,335.99 L531.12,335.9 L532.45,335.8 L533.78,335.72 L535.11,335.65 L536.44,335.61 L537.77,335.59 L539.1,335.6 L539.1,337.4 L537.77,337.41 L536.44,337.39 L535.11,337.35 L533.78,337.28 L532.45,337.2 L531.12,337.1 L529.78,337.01 L528.45,336.92 L527.12,336.84 L525.79,336.78 L524.46,336.74 L523.13,336.72 L521.8,336.73 L520.47,336.75 L519.14,336.8 L517.81,336.88 L516.48,336.97 L515.15,337.07 L513.82,337.19 L512.48,337.32 L511.15,337.45 L509.82,337.58 L508.49,337.72 L507.16,337.85 L505.83,337.99 L504.5,338.13 L503.17,338.29 L501.84,338.47 L500.51,338.66 L499.18,338.88 L497.85,339.1 L496.52,339.33 L495.18,339.54 L493.85,339.71 L492.52,339.84 L491.19,339.9 L489.86,339.88 L488.53,339.78 L487.2,339.61Z" fill="#c9cdfa" stroke="#333" stroke-width="0.45" stroke-linejoin="round"/>
<circle cx="488.4" cy="336.5" r="1.65" fill="#0d8ff0" stroke="#021f34" stroke-width="0.6"/>
<circle cx="488.4" cy="337.5" r="1.65" fill="#0d8ff0" stroke="#021f34" stroke-width="0.6"/>
<circle cx="489.9" cy="335.2" r="1.65" fill="#0d8ff0" stroke="#021f34" stroke-width="0.6"/>
<circle cx="496.2" cy="336.5" r="1.65" fill="#0d8ff0" stroke="#021f34" stroke-width="0.6"/>
<circle cx="507.4" cy="336.5" r="1.65" fill="#0d8ff0" stroke="#021f34" stroke-width="0.6"/>
<circle cx="537.9" cy="336.5" r="1.65" fill="#0d8ff0" stroke="#021f34" stroke-width="0.6"/>
<line x1="488.4" y1="301.5" x2="488.4" y2="343.45" stroke="#1a1a1a" stroke-width="0.9" />
<line x1="487.95" y1="343" x2="571.35" y2="343" stroke="#1a1a1a" stroke-width="0.9" />
<line x1="488.4" y1="343" x2="488.4" y2="345.2" stroke="#1a1a1a" stroke-width="0.7" />
<text x="488.4" y="352.3" font-size="6.5" text-anchor="middle" stroke="#000" stroke-width="0.16">0.00</text>
<line x1="504.9" y1="343" x2="504.9" y2="345.2" stroke="#1a1a1a" stroke-width="0.7" />
<text x="504.9" y="352.3" font-size="6.5" text-anchor="middle" stroke="#000" stroke-width="0.16">0.02</text>
<line x1="521.4" y1="343" x2="521.4" y2="345.2" stroke="#1a1a1a" stroke-width="0.7" />
<text x="521.4" y="352.3" font-size="6.5" text-anchor="middle" stroke="#000" stroke-width="0.16">0.04</text>
<line x1="537.9" y1="343" x2="537.9" y2="345.2" stroke="#1a1a1a" stroke-width="0.7" />
<text x="537.9" y="352.3" font-size="6.5" text-anchor="middle" stroke="#000" stroke-width="0.16">0.06</text>
<line x1="554.4" y1="343" x2="554.4" y2="345.2" stroke="#1a1a1a" stroke-width="0.7" />
<text x="554.4" y="352.3" font-size="6.5" text-anchor="middle" stroke="#000" stroke-width="0.16">0.08</text>
<line x1="570.9" y1="343" x2="570.9" y2="345.2" stroke="#1a1a1a" stroke-width="0.7" />
<text x="570.9" y="352.3" font-size="6.5" text-anchor="middle" stroke="#000" stroke-width="0.16">0.10</text>
<line x1="486.8" y1="308" x2="488.4" y2="308" stroke="#1a1a1a" stroke-width="0.6" />
<line x1="486.8" y1="317.5" x2="488.4" y2="317.5" stroke="#1a1a1a" stroke-width="0.6" />
<line x1="486.8" y1="327" x2="488.4" y2="327" stroke="#1a1a1a" stroke-width="0.6" />
<line x1="486.8" y1="336.5" x2="488.4" y2="336.5" stroke="#1a1a1a" stroke-width="0.6" />
<line x1="596.5" y1="308" x2="679" y2="308" stroke="#b9b9b9" stroke-width="0.7" />
<line x1="596.5" y1="317.5" x2="679" y2="317.5" stroke="#b9b9b9" stroke-width="0.7" />
<line x1="596.5" y1="327" x2="679" y2="327" stroke="#b9b9b9" stroke-width="0.7" />
<line x1="596.5" y1="336.5" x2="679" y2="336.5" stroke="#b9b9b9" stroke-width="0.7" />
<text x="638" y="300" font-size="9.8" text-anchor="middle" font-style="italic" stroke="#000" stroke-width="0.16">Slc20a1-1</text>
<path d="M595.3,305.16 L595.46,305.05 L595.63,304.94 L595.79,304.85 L595.96,304.77 L596.12,304.7 L596.28,304.65 L596.45,304.62 L596.61,304.6 L596.78,304.6 L596.94,304.61 L597.11,304.64 L597.27,304.68 L597.43,304.74 L597.6,304.81 L597.76,304.89 L597.93,304.97 L598.09,305.07 L598.25,305.17 L598.42,305.27 L598.58,305.38 L598.75,305.49 L598.91,305.6 L599.07,305.71 L599.24,305.82 L599.4,305.93 L599.57,306.04 L599.73,306.14 L599.89,306.24 L600.06,306.33 L600.22,306.43 L600.39,306.51 L600.55,306.6 L600.72,306.68 L600.88,306.76 L601.04,306.83 L601.21,306.91 L601.37,306.97 L601.54,307.04 L601.7,307.11 L601.7,308.89 L601.54,308.96 L601.37,309.03 L601.21,309.09 L601.04,309.17 L600.88,309.24 L600.72,309.32 L600.55,309.4 L600.39,309.49 L600.22,309.57 L600.06,309.67 L599.89,309.76 L599.73,309.86 L599.57,309.96 L599.4,310.07 L599.24,310.18 L599.07,310.29 L598.91,310.4 L598.75,310.51 L598.58,310.62 L598.42,310.73 L598.25,310.83 L598.09,310.93 L597.93,311.03 L597.76,311.11 L597.6,311.19 L597.43,311.26 L597.27,311.32 L597.11,311.36 L596.94,311.39 L596.78,311.4 L596.61,311.4 L596.45,311.38 L596.28,311.35 L596.12,311.3 L595.96,311.23 L595.79,311.15 L595.63,311.06 L595.46,310.95 L595.3,310.84Z" fill="#eddaa6" stroke="#333" stroke-width="0.45" stroke-linejoin="round"/>
<circle cx="596.5" cy="308" r="1.65" fill="#c9960c" stroke="#2c2102" stroke-width="0.6"/>
<circle cx="596.5" cy="309" r="1.65" fill="#c9960c" stroke="#2c2102" stroke-width="0.6"/>
<circle cx="596.5" cy="307" r="1.65" fill="#c9960c" stroke="#2c2102" stroke-width="0.6"/>
<circle cx="596.5" cy="308.5" r="1.65" fill="#c9960c" stroke="#2c2102" stroke-width="0.6"/>
<circle cx="600.5" cy="308" r="1.65" fill="#c9960c" stroke="#2c2102" stroke-width="0.6"/>
<path d="M595.3,314.77 L597.36,314.54 L599.42,314.35 L601.48,314.23 L603.55,314.15 L605.61,314.11 L607.67,314.1 L609.73,314.12 L611.79,314.15 L613.85,314.19 L615.92,314.26 L617.98,314.34 L620.04,314.45 L622.1,314.59 L624.16,314.77 L626.22,315 L628.28,315.25 L630.35,315.54 L632.41,315.83 L634.47,316.13 L636.53,316.41 L638.59,316.65 L640.65,316.87 L642.72,317.04 L644.78,317.17 L646.84,317.26 L648.9,317.32 L650.96,317.34 L653.02,317.33 L655.08,317.3 L657.15,317.24 L659.21,317.16 L661.27,317.06 L663.33,316.96 L665.39,316.84 L667.45,316.74 L669.52,316.64 L671.58,316.58 L673.64,316.55 L675.7,316.55 L675.7,318.45 L673.64,318.45 L671.58,318.42 L669.52,318.36 L667.45,318.26 L665.39,318.16 L663.33,318.04 L661.27,317.94 L659.21,317.84 L657.15,317.76 L655.08,317.7 L653.02,317.67 L650.96,317.66 L648.9,317.68 L646.84,317.74 L644.78,317.83 L642.72,317.96 L640.65,318.13 L638.59,318.35 L636.53,318.59 L634.47,318.87 L632.41,319.17 L630.35,319.46 L628.28,319.75 L626.22,320 L624.16,320.23 L622.1,320.41 L620.04,320.55 L617.98,320.66 L615.92,320.74 L613.85,320.81 L611.79,320.85 L609.73,320.88 L607.67,320.9 L605.61,320.89 L603.55,320.85 L601.48,320.77 L599.42,320.65 L597.36,320.46 L595.3,320.23Z" fill="#f9c6ab" stroke="#333" stroke-width="0.45" stroke-linejoin="round"/>
<circle cx="596.5" cy="317.5" r="1.65" fill="#e8590c" stroke="#331302" stroke-width="0.6"/>
<circle cx="596.5" cy="318.5" r="1.65" fill="#e8590c" stroke="#331302" stroke-width="0.6"/>
<circle cx="606.2" cy="317.5" r="1.65" fill="#e8590c" stroke="#331302" stroke-width="0.6"/>
<circle cx="612.9" cy="317.5" r="1.65" fill="#e8590c" stroke="#331302" stroke-width="0.6"/>
<circle cx="623.9" cy="317.5" r="1.65" fill="#e8590c" stroke="#331302" stroke-width="0.6"/>
<circle cx="625.3" cy="319.45" r="1.65" fill="#e8590c" stroke="#331302" stroke-width="0.6"/>
<circle cx="674.5" cy="317.5" r="1.65" fill="#e8590c" stroke="#331302" stroke-width="0.6"/>
<path d="M595.3,323.73 L596.02,323.62 L596.73,323.6 L597.45,323.67 L598.16,323.82 L598.88,324.04 L599.59,324.32 L600.31,324.62 L601.02,324.92 L601.74,325.21 L602.45,325.47 L603.17,325.68 L603.88,325.85 L604.6,325.95 L605.32,326.01 L606.03,326.03 L606.75,326.01 L607.46,325.97 L608.18,325.92 L608.89,325.87 L609.61,325.84 L610.32,325.82 L611.04,325.82 L611.75,325.84 L612.47,325.87 L613.18,325.92 L613.9,325.97 L614.62,326.01 L615.33,326.04 L616.05,326.06 L616.76,326.05 L617.48,326.03 L618.19,325.99 L618.91,325.95 L619.62,325.9 L620.34,325.86 L621.05,325.84 L621.77,325.83 L622.48,325.85 L623.2,325.89 L623.2,328.11 L622.48,328.15 L621.77,328.17 L621.05,328.16 L620.34,328.14 L619.62,328.1 L618.91,328.05 L618.19,328.01 L617.48,327.97 L616.76,327.95 L616.05,327.94 L615.33,327.96 L614.62,327.99 L613.9,328.03 L613.18,328.08 L612.47,328.13 L611.75,328.16 L611.04,328.18 L610.32,328.18 L609.61,328.16 L608.89,328.13 L608.18,328.08 L607.46,328.03 L606.75,327.99 L606.03,327.97 L605.32,327.99 L604.6,328.05 L603.88,328.15 L603.17,328.32 L602.45,328.53 L601.74,328.79 L601.02,329.08 L600.31,329.38 L599.59,329.68 L598.88,329.96 L598.16,330.18 L597.45,330.33 L596.73,330.4 L596.02,330.38 L595.3,330.27Z" fill="#bba3f4" stroke="#333" stroke-width="0.45" stroke-linejoin="round"/>
<circle cx="596.5" cy="327" r="1.65" fill="#6a2bd9" stroke="#17092f" stroke-width="0.6"/>
<circle cx="596.5" cy="328" r="1.65" fill="#6a2bd9" stroke="#17092f" stroke-width="0.6"/>
<circle cx="596.5" cy="326" r="1.65" fill="#6a2bd9" stroke="#17092f" stroke-width="0.6"/>
<circle cx="610.5" cy="327" r="1.65" fill="#6a2bd9" stroke="#17092f" stroke-width="0.6"/>
<circle cx="622" cy="327" r="1.65" fill="#6a2bd9" stroke="#17092f" stroke-width="0.6"/>
<path d="M595.3,333.28 L596.48,333.15 L597.67,333.1 L598.85,333.13 L600.04,333.23 L601.22,333.39 L602.41,333.59 L603.59,333.81 L604.78,334.04 L605.96,334.25 L607.15,334.44 L608.33,334.6 L609.52,334.73 L610.7,334.84 L611.88,334.91 L613.07,334.97 L614.25,335.02 L615.44,335.06 L616.62,335.09 L617.81,335.12 L618.99,335.15 L620.18,335.16 L621.36,335.16 L622.55,335.15 L623.73,335.12 L624.92,335.08 L626.1,335.04 L627.28,334.99 L628.47,334.94 L629.65,334.89 L630.84,334.85 L632.02,334.82 L633.21,334.81 L634.39,334.8 L635.58,334.81 L636.76,334.84 L637.95,334.89 L639.13,334.95 L640.32,335.03 L641.5,335.13 L641.5,337.87 L640.32,337.97 L639.13,338.05 L637.95,338.11 L636.76,338.16 L635.58,338.19 L634.39,338.2 L633.21,338.19 L632.02,338.18 L630.84,338.15 L629.65,338.11 L628.47,338.06 L627.28,338.01 L626.1,337.96 L624.92,337.92 L623.73,337.88 L622.55,337.85 L621.36,337.84 L620.18,337.84 L618.99,337.85 L617.81,337.88 L616.62,337.91 L615.44,337.94 L614.25,337.98 L613.07,338.03 L611.88,338.09 L610.7,338.16 L609.52,338.27 L608.33,338.4 L607.15,338.56 L605.96,338.75 L604.78,338.96 L603.59,339.19 L602.41,339.41 L601.22,339.61 L600.04,339.77 L598.85,339.87 L597.67,339.9 L596.48,339.85 L595.3,339.72Z" fill="#c9cdfa" stroke="#333" stroke-width="0.45" stroke-linejoin="round"/>
<circle cx="596.5" cy="336.5" r="1.65" fill="#0d8ff0" stroke="#021f34" stroke-width="0.6"/>
<circle cx="596.5" cy="337.5" r="1.65" fill="#0d8ff0" stroke="#021f34" stroke-width="0.6"/>
<circle cx="599.2" cy="336.5" r="1.65" fill="#0d8ff0" stroke="#021f34" stroke-width="0.6"/>
<circle cx="614.2" cy="336.5" r="1.65" fill="#0d8ff0" stroke="#021f34" stroke-width="0.6"/>
<circle cx="629.3" cy="336.5" r="1.65" fill="#0d8ff0" stroke="#021f34" stroke-width="0.6"/>
<circle cx="640.3" cy="336.5" r="1.65" fill="#0d8ff0" stroke="#021f34" stroke-width="0.6"/>
<line x1="596.5" y1="301.5" x2="596.5" y2="343.45" stroke="#1a1a1a" stroke-width="0.9" />
<line x1="596.05" y1="343" x2="679.45" y2="343" stroke="#1a1a1a" stroke-width="0.9" />
<line x1="596.5" y1="343" x2="596.5" y2="345.2" stroke="#1a1a1a" stroke-width="0.7" />
<text x="596.5" y="352.3" font-size="6.5" text-anchor="middle" stroke="#000" stroke-width="0.16">0.00</text>
<line x1="624" y1="343" x2="624" y2="345.2" stroke="#1a1a1a" stroke-width="0.7" />
<text x="624" y="352.3" font-size="6.5" text-anchor="middle" stroke="#000" stroke-width="0.16">0.02</text>
<line x1="651.5" y1="343" x2="651.5" y2="345.2" stroke="#1a1a1a" stroke-width="0.7" />
<text x="651.5" y="352.3" font-size="6.5" text-anchor="middle" stroke="#000" stroke-width="0.16">0.04</text>
<line x1="679" y1="343" x2="679" y2="345.2" stroke="#1a1a1a" stroke-width="0.7" />
<text x="679" y="352.3" font-size="6.5" text-anchor="middle" stroke="#000" stroke-width="0.16">0.06</text>
<line x1="594.9" y1="308" x2="596.5" y2="308" stroke="#1a1a1a" stroke-width="0.6" />
<line x1="594.9" y1="317.5" x2="596.5" y2="317.5" stroke="#1a1a1a" stroke-width="0.6" />
<line x1="594.9" y1="327" x2="596.5" y2="327" stroke="#1a1a1a" stroke-width="0.6" />
<line x1="594.9" y1="336.5" x2="596.5" y2="336.5" stroke="#1a1a1a" stroke-width="0.6" />
<line x1="381.5" y1="378" x2="464" y2="378" stroke="#b9b9b9" stroke-width="0.7" />
<line x1="381.5" y1="387.5" x2="464" y2="387.5" stroke="#b9b9b9" stroke-width="0.7" />
<line x1="381.5" y1="397" x2="464" y2="397" stroke="#b9b9b9" stroke-width="0.7" />
<line x1="381.5" y1="406.5" x2="464" y2="406.5" stroke="#b9b9b9" stroke-width="0.7" />
<text x="422.5" y="370.4" font-size="9.8" text-anchor="middle" font-style="italic" stroke="#000" stroke-width="0.16">Slc20a1-2</text>
<path d="M380.3,374.8 L380.96,374.66 L381.62,374.6 L382.28,374.61 L382.94,374.7 L383.59,374.84 L384.25,375.02 L384.91,375.21 L385.57,375.4 L386.23,375.57 L386.89,375.72 L387.55,375.82 L388.21,375.9 L388.87,375.95 L389.53,375.98 L390.18,375.99 L390.84,376.01 L391.5,376.03 L392.16,376.06 L392.82,376.09 L393.48,376.12 L394.14,376.13 L394.8,376.13 L395.46,376.11 L396.12,376.06 L396.77,375.98 L397.43,375.88 L398.09,375.77 L398.75,375.65 L399.41,375.53 L400.07,375.42 L400.73,375.34 L401.39,375.28 L402.05,375.26 L402.71,375.28 L403.36,375.34 L404.02,375.44 L404.68,375.57 L405.34,375.74 L406,375.94 L406,380.06 L405.34,380.26 L404.68,380.43 L404.02,380.56 L403.36,380.66 L402.71,380.72 L402.05,380.74 L401.39,380.72 L400.73,380.66 L400.07,380.58 L399.41,380.47 L398.75,380.35 L398.09,380.23 L397.43,380.12 L396.77,380.02 L396.12,379.94 L395.46,379.89 L394.8,379.87 L394.14,379.87 L393.48,379.88 L392.82,379.91 L392.16,379.94 L391.5,379.97 L390.84,379.99 L390.18,380.01 L389.53,380.02 L388.87,380.05 L388.21,380.1 L387.55,380.18 L386.89,380.28 L386.23,380.43 L385.57,380.6 L384.91,380.79 L384.25,380.98 L383.59,381.16 L382.94,381.3 L382.28,381.39 L381.62,381.4 L380.96,381.34 L380.3,381.2Z" fill="#eddaa6" stroke="#333" stroke-width="0.45" stroke-linejoin="round"/>
<circle cx="381.5" cy="378" r="1.65" fill="#c9960c" stroke="#2c2102" stroke-width="0.6"/>
<circle cx="381.5" cy="379" r="1.65" fill="#c9960c" stroke="#2c2102" stroke-width="0.6"/>
<circle cx="391" cy="378" r="1.65" fill="#c9960c" stroke="#2c2102" stroke-width="0.6"/>
<circle cx="399.8" cy="378" r="1.65" fill="#c9960c" stroke="#2c2102" stroke-width="0.6"/>
<circle cx="404.8" cy="378" r="1.65" fill="#c9960c" stroke="#2c2102" stroke-width="0.6"/>
<path d="M380.3,384.49 L381.63,384.29 L382.96,384.16 L384.29,384.1 L385.62,384.11 L386.95,384.18 L388.28,384.31 L389.62,384.47 L390.95,384.66 L392.28,384.85 L393.61,385.05 L394.94,385.24 L396.27,385.41 L397.6,385.56 L398.93,385.69 L400.26,385.79 L401.59,385.88 L402.92,385.95 L404.25,386.01 L405.58,386.07 L406.92,386.13 L408.25,386.2 L409.58,386.29 L410.91,386.38 L412.24,386.48 L413.57,386.58 L414.9,386.68 L416.23,386.76 L417.56,386.82 L418.89,386.85 L420.22,386.85 L421.55,386.82 L422.88,386.77 L424.22,386.7 L425.55,386.62 L426.88,386.55 L428.21,386.48 L429.54,386.44 L430.87,386.43 L432.2,386.44 L432.2,388.56 L430.87,388.57 L429.54,388.56 L428.21,388.52 L426.88,388.45 L425.55,388.38 L424.22,388.3 L422.88,388.23 L421.55,388.18 L420.22,388.15 L418.89,388.15 L417.56,388.18 L416.23,388.24 L414.9,388.32 L413.57,388.42 L412.24,388.52 L410.91,388.62 L409.58,388.71 L408.25,388.8 L406.92,388.87 L405.58,388.93 L404.25,388.99 L402.92,389.05 L401.59,389.12 L400.26,389.21 L398.93,389.31 L397.6,389.44 L396.27,389.59 L394.94,389.76 L393.61,389.95 L392.28,390.15 L390.95,390.34 L389.62,390.53 L388.28,390.69 L386.95,390.82 L385.62,390.89 L384.29,390.9 L382.96,390.84 L381.63,390.71 L380.3,390.51Z" fill="#f9c6ab" stroke="#333" stroke-width="0.45" stroke-linejoin="round"/>
<circle cx="381.5" cy="387.5" r="1.65" fill="#e8590c" stroke="#331302" stroke-width="0.6"/>
<circle cx="381.5" cy="388.5" r="1.65" fill="#e8590c" stroke="#331302" stroke-width="0.6"/>
<circle cx="386.5" cy="387.5" r="1.65" fill="#e8590c" stroke="#331302" stroke-width="0.6"/>
<circle cx="394.8" cy="387.5" r="1.65" fill="#e8590c" stroke="#331302" stroke-width="0.6"/>
<circle cx="408" cy="387.5" r="1.65" fill="#e8590c" stroke="#331302" stroke-width="0.6"/>
<circle cx="431" cy="387.5" r="1.65" fill="#e8590c" stroke="#331302" stroke-width="0.6"/>
<path d="M380.3,393.7 L381.43,393.61 L382.55,393.6 L383.68,393.66 L384.8,393.79 L385.93,393.96 L387.05,394.17 L388.18,394.38 L389.31,394.6 L390.43,394.81 L391.56,395 L392.68,395.17 L393.81,395.32 L394.93,395.46 L396.06,395.59 L397.18,395.72 L398.31,395.85 L399.44,395.98 L400.56,396.11 L401.69,396.24 L402.81,396.36 L403.94,396.46 L405.06,396.56 L406.19,396.63 L407.32,396.68 L408.44,396.71 L409.57,396.72 L410.69,396.7 L411.82,396.66 L412.94,396.6 L414.07,396.52 L415.19,396.42 L416.32,396.32 L417.45,396.22 L418.57,396.12 L419.7,396.03 L420.82,395.97 L421.95,395.92 L423.07,395.91 L424.2,395.93 L424.2,398.07 L423.07,398.09 L421.95,398.08 L420.82,398.03 L419.7,397.97 L418.57,397.88 L417.45,397.78 L416.32,397.68 L415.19,397.58 L414.07,397.48 L412.94,397.4 L411.82,397.34 L410.69,397.3 L409.57,397.28 L408.44,397.29 L407.32,397.32 L406.19,397.37 L405.06,397.44 L403.94,397.54 L402.81,397.64 L401.69,397.76 L400.56,397.89 L399.44,398.02 L398.31,398.15 L397.18,398.28 L396.06,398.41 L394.93,398.54 L393.81,398.68 L392.68,398.83 L391.56,399 L390.43,399.19 L389.31,399.4 L388.18,399.62 L387.05,399.83 L385.93,400.04 L384.8,400.21 L383.68,400.34 L382.55,400.4 L381.43,400.39 L380.3,400.3Z" fill="#bba3f4" stroke="#333" stroke-width="0.45" stroke-linejoin="round"/>
<circle cx="381.5" cy="397" r="1.65" fill="#6a2bd9" stroke="#17092f" stroke-width="0.6"/>
<circle cx="381.5" cy="398" r="1.65" fill="#6a2bd9" stroke="#17092f" stroke-width="0.6"/>
<circle cx="381.5" cy="396" r="1.65" fill="#6a2bd9" stroke="#17092f" stroke-width="0.6"/>
<circle cx="395.5" cy="397" r="1.65" fill="#6a2bd9" stroke="#17092f" stroke-width="0.6"/>
<circle cx="423" cy="397" r="1.65" fill="#6a2bd9" stroke="#17092f" stroke-width="0.6"/>
<path d="M380.3,403.44 L382.02,403.26 L383.73,403.14 L385.45,403.1 L387.16,403.14 L388.88,403.26 L390.59,403.44 L392.31,403.68 L394.02,403.96 L395.74,404.26 L397.45,404.56 L399.17,404.86 L400.88,405.12 L402.6,405.34 L404.32,405.53 L406.03,405.66 L407.75,405.74 L409.46,405.79 L411.18,405.79 L412.89,405.77 L414.61,405.72 L416.32,405.67 L418.04,405.61 L419.75,405.56 L421.47,405.52 L423.18,405.49 L424.9,405.48 L426.62,405.49 L428.33,405.5 L430.05,405.51 L431.76,405.53 L433.48,405.53 L435.19,405.54 L436.91,405.53 L438.62,405.52 L440.34,405.5 L442.05,405.49 L443.77,405.49 L445.48,405.5 L447.2,405.53 L447.2,407.47 L445.48,407.5 L443.77,407.51 L442.05,407.51 L440.34,407.5 L438.62,407.48 L436.91,407.47 L435.19,407.46 L433.48,407.47 L431.76,407.47 L430.05,407.49 L428.33,407.5 L426.62,407.51 L424.9,407.52 L423.18,407.51 L421.47,407.48 L419.75,407.44 L418.04,407.39 L416.32,407.33 L414.61,407.28 L412.89,407.23 L411.18,407.21 L409.46,407.21 L407.75,407.26 L406.03,407.34 L404.32,407.47 L402.6,407.66 L400.88,407.88 L399.17,408.14 L397.45,408.44 L395.74,408.74 L394.02,409.04 L392.31,409.32 L390.59,409.56 L388.88,409.74 L387.16,409.86 L385.45,409.9 L383.73,409.86 L382.02,409.74 L380.3,409.56Z" fill="#c9cdfa" stroke="#333" stroke-width="0.45" stroke-linejoin="round"/>
<circle cx="381.5" cy="406.5" r="1.65" fill="#0d8ff0" stroke="#021f34" stroke-width="0.6"/>
<circle cx="381.5" cy="407.5" r="1.65" fill="#0d8ff0" stroke="#021f34" stroke-width="0.6"/>
<circle cx="388" cy="406.5" r="1.65" fill="#0d8ff0" stroke="#021f34" stroke-width="0.6"/>
<circle cx="391" cy="406.5" r="1.65" fill="#0d8ff0" stroke="#021f34" stroke-width="0.6"/>
<circle cx="422.8" cy="406.5" r="1.65" fill="#0d8ff0" stroke="#021f34" stroke-width="0.6"/>
<circle cx="446" cy="406.5" r="1.65" fill="#0d8ff0" stroke="#021f34" stroke-width="0.6"/>
<line x1="381.5" y1="371.5" x2="381.5" y2="413.45" stroke="#1a1a1a" stroke-width="0.9" />
<line x1="381.05" y1="413" x2="464.45" y2="413" stroke="#1a1a1a" stroke-width="0.9" />
<line x1="381.5" y1="413" x2="381.5" y2="415.2" stroke="#1a1a1a" stroke-width="0.7" />
<text x="381.5" y="422.3" font-size="6.5" text-anchor="middle" stroke="#000" stroke-width="0.16">0.00</text>
<line x1="398" y1="413" x2="398" y2="415.2" stroke="#1a1a1a" stroke-width="0.7" />
<text x="398" y="422.3" font-size="6.5" text-anchor="middle" stroke="#000" stroke-width="0.16">0.01</text>
<line x1="414.5" y1="413" x2="414.5" y2="415.2" stroke="#1a1a1a" stroke-width="0.7" />
<text x="414.5" y="422.3" font-size="6.5" text-anchor="middle" stroke="#000" stroke-width="0.16">0.02</text>
<line x1="431" y1="413" x2="431" y2="415.2" stroke="#1a1a1a" stroke-width="0.7" />
<text x="431" y="422.3" font-size="6.5" text-anchor="middle" stroke="#000" stroke-width="0.16">0.03</text>
<line x1="447.5" y1="413" x2="447.5" y2="415.2" stroke="#1a1a1a" stroke-width="0.7" />
<text x="447.5" y="422.3" font-size="6.5" text-anchor="middle" stroke="#000" stroke-width="0.16">0.04</text>
<line x1="464" y1="413" x2="464" y2="415.2" stroke="#1a1a1a" stroke-width="0.7" />
<text x="464" y="422.3" font-size="6.5" text-anchor="middle" stroke="#000" stroke-width="0.16">0.05</text>
<line x1="379.9" y1="378" x2="381.5" y2="378" stroke="#1a1a1a" stroke-width="0.6" />
<line x1="379.9" y1="387.5" x2="381.5" y2="387.5" stroke="#1a1a1a" stroke-width="0.6" />
<line x1="379.9" y1="397" x2="381.5" y2="397" stroke="#1a1a1a" stroke-width="0.6" />
<line x1="379.9" y1="406.5" x2="381.5" y2="406.5" stroke="#1a1a1a" stroke-width="0.6" />
<line x1="488.4" y1="378" x2="570.9" y2="378" stroke="#b9b9b9" stroke-width="0.7" />
<line x1="488.4" y1="387.5" x2="570.9" y2="387.5" stroke="#b9b9b9" stroke-width="0.7" />
<line x1="488.4" y1="397" x2="570.9" y2="397" stroke="#b9b9b9" stroke-width="0.7" />
<line x1="488.4" y1="406.5" x2="570.9" y2="406.5" stroke="#b9b9b9" stroke-width="0.7" />
<text x="529.5" y="370.4" font-size="9.8" text-anchor="middle" font-style="italic" stroke="#000" stroke-width="0.16">Tmem87</text>
<path d="M487.2,376.37 L488.58,376.14 L489.96,375.91 L491.35,375.66 L492.73,375.42 L494.11,375.18 L495.49,374.96 L496.87,374.78 L498.26,374.66 L499.64,374.6 L501.02,374.63 L502.4,374.74 L503.78,374.93 L505.17,375.2 L506.55,375.52 L507.93,375.87 L509.31,376.23 L510.69,376.57 L512.08,376.89 L513.46,377.16 L514.84,377.38 L516.22,377.56 L517.61,377.69 L518.99,377.79 L520.37,377.84 L521.75,377.87 L523.13,377.87 L524.52,377.85 L525.9,377.81 L527.28,377.75 L528.66,377.66 L530.04,377.56 L531.43,377.45 L532.81,377.33 L534.19,377.21 L535.57,377.1 L536.95,377.01 L538.34,376.95 L539.72,376.93 L541.1,376.94 L541.1,379.06 L539.72,379.07 L538.34,379.05 L536.95,378.99 L535.57,378.9 L534.19,378.79 L532.81,378.67 L531.43,378.55 L530.04,378.44 L528.66,378.34 L527.28,378.25 L525.9,378.19 L524.52,378.15 L523.13,378.13 L521.75,378.13 L520.37,378.16 L518.99,378.21 L517.61,378.31 L516.22,378.44 L514.84,378.62 L513.46,378.84 L512.08,379.11 L510.69,379.43 L509.31,379.77 L507.93,380.13 L506.55,380.48 L505.17,380.8 L503.78,381.07 L502.4,381.26 L501.02,381.37 L499.64,381.4 L498.26,381.34 L496.87,381.22 L495.49,381.04 L494.11,380.82 L492.73,380.58 L491.35,380.34 L489.96,380.09 L488.58,379.86 L487.2,379.63Z" fill="#eddaa6" stroke="#333" stroke-width="0.45" stroke-linejoin="round"/>
<circle cx="488.4" cy="378" r="1.65" fill="#c9960c" stroke="#2c2102" stroke-width="0.6"/>
<circle cx="499.2" cy="378" r="1.65" fill="#c9960c" stroke="#2c2102" stroke-width="0.6"/>
<circle cx="500.9" cy="379.3" r="1.65" fill="#c9960c" stroke="#2c2102" stroke-width="0.6"/>
<circle cx="503.4" cy="378" r="1.65" fill="#c9960c" stroke="#2c2102" stroke-width="0.6"/>
<circle cx="539.9" cy="378" r="1.65" fill="#c9960c" stroke="#2c2102" stroke-width="0.6"/>
<path d="M487.2,384.58 L488.1,384.35 L489.01,384.2 L489.91,384.11 L490.81,384.1 L491.71,384.15 L492.62,384.26 L493.52,384.42 L494.42,384.6 L495.32,384.79 L496.23,384.99 L497.13,385.19 L498.03,385.37 L498.93,385.53 L499.84,385.66 L500.74,385.76 L501.64,385.83 L502.54,385.85 L503.45,385.82 L504.35,385.76 L505.25,385.66 L506.15,385.54 L507.06,385.42 L507.96,385.3 L508.86,385.21 L509.76,385.16 L510.67,385.15 L511.57,385.19 L512.47,385.27 L513.37,385.37 L514.28,385.49 L515.18,385.61 L516.08,385.73 L516.98,385.83 L517.89,385.92 L518.79,385.99 L519.69,386.06 L520.59,386.13 L521.5,386.21 L522.4,386.3 L522.4,388.7 L521.5,388.79 L520.59,388.87 L519.69,388.94 L518.79,389.01 L517.89,389.08 L516.98,389.17 L516.08,389.27 L515.18,389.39 L514.28,389.51 L513.37,389.63 L512.47,389.73 L511.57,389.81 L510.67,389.85 L509.76,389.84 L508.86,389.79 L507.96,389.7 L507.06,389.58 L506.15,389.46 L505.25,389.34 L504.35,389.24 L503.45,389.18 L502.54,389.15 L501.64,389.17 L500.74,389.24 L499.84,389.34 L498.93,389.47 L498.03,389.63 L497.13,389.81 L496.23,390.01 L495.32,390.21 L494.42,390.4 L493.52,390.58 L492.62,390.74 L491.71,390.85 L490.81,390.9 L489.91,390.89 L489.01,390.8 L488.1,390.65 L487.2,390.42Z" fill="#f9c6ab" stroke="#333" stroke-width="0.45" stroke-linejoin="round"/>
<circle cx="488.4" cy="387.5" r="1.65" fill="#e8590c" stroke="#331302" stroke-width="0.6"/>
<circle cx="488.4" cy="388.5" r="1.65" fill="#e8590c" stroke="#331302" stroke-width="0.6"/>
<circle cx="492.2" cy="387.5" r="1.65" fill="#e8590c" stroke="#331302" stroke-width="0.6"/>
<circle cx="498.4" cy="387.5" r="1.65" fill="#e8590c" stroke="#331302" stroke-width="0.6"/>
<circle cx="509.2" cy="387.5" r="1.65" fill="#e8590c" stroke="#331302" stroke-width="0.6"/>
<circle cx="511.2" cy="387.5" r="1.65" fill="#e8590c" stroke="#331302" stroke-width="0.6"/>
<circle cx="521.2" cy="387.5" r="1.65" fill="#e8590c" stroke="#331302" stroke-width="0.6"/>
<path d="M487.2,393.62 L488.8,393.6 L490.4,393.65 L492,393.76 L493.6,393.92 L495.2,394.13 L496.8,394.38 L498.4,394.65 L500,394.93 L501.6,395.21 L503.2,395.48 L504.8,395.73 L506.4,395.96 L508,396.16 L509.6,396.32 L511.2,396.45 L512.8,396.55 L514.4,396.62 L516,396.66 L517.6,396.67 L519.2,396.65 L520.8,396.61 L522.4,396.54 L524,396.45 L525.6,396.34 L527.2,396.21 L528.8,396.06 L530.4,395.9 L532,395.73 L533.6,395.56 L535.2,395.4 L536.8,395.25 L538.4,395.11 L540,395 L541.6,394.91 L543.2,394.86 L544.8,394.85 L546.4,394.87 L548,394.93 L549.6,395.02 L549.6,398.98 L548,399.07 L546.4,399.13 L544.8,399.15 L543.2,399.14 L541.6,399.09 L540,399 L538.4,398.89 L536.8,398.75 L535.2,398.6 L533.6,398.44 L532,398.27 L530.4,398.1 L528.8,397.94 L527.2,397.79 L525.6,397.66 L524,397.55 L522.4,397.46 L520.8,397.39 L519.2,397.35 L517.6,397.33 L516,397.34 L514.4,397.38 L512.8,397.45 L511.2,397.55 L509.6,397.68 L508,397.84 L506.4,398.04 L504.8,398.27 L503.2,398.52 L501.6,398.79 L500,399.07 L498.4,399.35 L496.8,399.62 L495.2,399.87 L493.6,400.08 L492,400.24 L490.4,400.35 L488.8,400.4 L487.2,400.38Z" fill="#bba3f4" stroke="#333" stroke-width="0.45" stroke-linejoin="round"/>
<circle cx="488.4" cy="397" r="1.65" fill="#6a2bd9" stroke="#17092f" stroke-width="0.6"/>
<circle cx="488.4" cy="398" r="1.65" fill="#6a2bd9" stroke="#17092f" stroke-width="0.6"/>
<circle cx="488.4" cy="396" r="1.65" fill="#6a2bd9" stroke="#17092f" stroke-width="0.6"/>
<circle cx="540.9" cy="397" r="1.65" fill="#6a2bd9" stroke="#17092f" stroke-width="0.6"/>
<circle cx="548.4" cy="397" r="1.65" fill="#6a2bd9" stroke="#17092f" stroke-width="0.6"/>
<path d="M487.2,403.34 L489.27,403.19 L491.34,403.11 L493.41,403.1 L495.48,403.16 L497.55,403.27 L499.62,403.42 L501.68,403.6 L503.75,403.78 L505.82,403.95 L507.89,404.1 L509.96,404.22 L512.03,404.3 L514.1,404.35 L516.17,404.36 L518.24,404.33 L520.31,404.28 L522.38,404.2 L524.45,404.11 L526.52,404 L528.58,403.89 L530.65,403.79 L532.72,403.7 L534.79,403.63 L536.86,403.59 L538.93,403.58 L541,403.61 L543.07,403.68 L545.14,403.78 L547.21,403.91 L549.28,404.06 L551.35,404.2 L553.42,404.35 L555.48,404.47 L557.55,404.58 L559.62,404.68 L561.69,404.76 L563.76,404.85 L565.83,404.93 L567.9,405.03 L567.9,407.97 L565.83,408.07 L563.76,408.15 L561.69,408.24 L559.62,408.32 L557.55,408.42 L555.48,408.53 L553.42,408.65 L551.35,408.8 L549.28,408.94 L547.21,409.09 L545.14,409.22 L543.07,409.32 L541,409.39 L538.93,409.42 L536.86,409.41 L534.79,409.37 L532.72,409.3 L530.65,409.21 L528.58,409.11 L526.52,409 L524.45,408.89 L522.38,408.8 L520.31,408.72 L518.24,408.67 L516.17,408.64 L514.1,408.65 L512.03,408.7 L509.96,408.78 L507.89,408.9 L505.82,409.05 L503.75,409.22 L501.68,409.4 L499.62,409.58 L497.55,409.73 L495.48,409.84 L493.41,409.9 L491.34,409.89 L489.27,409.81 L487.2,409.66Z" fill="#c9cdfa" stroke="#333" stroke-width="0.45" stroke-linejoin="round"/>
<circle cx="488.4" cy="406.5" r="1.65" fill="#0d8ff0" stroke="#021f34" stroke-width="0.6"/>
<circle cx="488.4" cy="407.5" r="1.65" fill="#0d8ff0" stroke="#021f34" stroke-width="0.6"/>
<circle cx="501.2" cy="406.5" r="1.65" fill="#0d8ff0" stroke="#021f34" stroke-width="0.6"/>
<circle cx="521.7" cy="406.5" r="1.65" fill="#0d8ff0" stroke="#021f34" stroke-width="0.6"/>
<circle cx="537.9" cy="406.5" r="1.65" fill="#0d8ff0" stroke="#021f34" stroke-width="0.6"/>
<circle cx="544.2" cy="406.5" r="1.65" fill="#0d8ff0" stroke="#021f34" stroke-width="0.6"/>
<circle cx="566.7" cy="406.5" r="1.65" fill="#0d8ff0" stroke="#021f34" stroke-width="0.6"/>
<line x1="488.4" y1="371.5" x2="488.4" y2="413.45" stroke="#1a1a1a" stroke-width="0.9" />
<line x1="487.95" y1="413" x2="571.35" y2="413" stroke="#1a1a1a" stroke-width="0.9" />
<line x1="488.4" y1="413" x2="488.4" y2="415.2" stroke="#1a1a1a" stroke-width="0.7" />
<text x="488.4" y="422.3" font-size="6.5" text-anchor="middle" stroke="#000" stroke-width="0.16">0.00</text>
<line x1="509.02" y1="413" x2="509.02" y2="415.2" stroke="#1a1a1a" stroke-width="0.7" />
<text x="509.02" y="422.3" font-size="6.5" text-anchor="middle" stroke="#000" stroke-width="0.16">0.01</text>
<line x1="529.65" y1="413" x2="529.65" y2="415.2" stroke="#1a1a1a" stroke-width="0.7" />
<text x="529.65" y="422.3" font-size="6.5" text-anchor="middle" stroke="#000" stroke-width="0.16">0.02</text>
<line x1="550.27" y1="413" x2="550.27" y2="415.2" stroke="#1a1a1a" stroke-width="0.7" />
<text x="550.27" y="422.3" font-size="6.5" text-anchor="middle" stroke="#000" stroke-width="0.16">0.03</text>
<line x1="570.9" y1="413" x2="570.9" y2="415.2" stroke="#1a1a1a" stroke-width="0.7" />
<text x="570.9" y="422.3" font-size="6.5" text-anchor="middle" stroke="#000" stroke-width="0.16">0.04</text>
<line x1="486.8" y1="378" x2="488.4" y2="378" stroke="#1a1a1a" stroke-width="0.6" />
<line x1="486.8" y1="387.5" x2="488.4" y2="387.5" stroke="#1a1a1a" stroke-width="0.6" />
<line x1="486.8" y1="397" x2="488.4" y2="397" stroke="#1a1a1a" stroke-width="0.6" />
<line x1="486.8" y1="406.5" x2="488.4" y2="406.5" stroke="#1a1a1a" stroke-width="0.6" />
<line x1="596.5" y1="378" x2="679" y2="378" stroke="#b9b9b9" stroke-width="0.7" />
<line x1="596.5" y1="387.5" x2="679" y2="387.5" stroke="#b9b9b9" stroke-width="0.7" />
<line x1="596.5" y1="397" x2="679" y2="397" stroke="#b9b9b9" stroke-width="0.7" />
<line x1="596.5" y1="406.5" x2="679" y2="406.5" stroke="#b9b9b9" stroke-width="0.7" />
<text x="638.5" y="370.4" font-size="9.8" text-anchor="middle" font-style="italic" stroke="#000" stroke-width="0.16">Agxt2l2</text>
<path d="M595.3,375.83 L595.44,375.72 L595.58,375.61 L595.72,375.5 L595.85,375.4 L595.99,375.3 L596.13,375.2 L596.27,375.11 L596.41,375.02 L596.55,374.95 L596.68,374.87 L596.82,374.81 L596.96,374.75 L597.1,374.71 L597.24,374.67 L597.38,374.64 L597.52,374.62 L597.65,374.6 L597.79,374.6 L597.93,374.61 L598.07,374.62 L598.21,374.64 L598.35,374.68 L598.48,374.72 L598.62,374.77 L598.76,374.82 L598.9,374.89 L599.04,374.96 L599.18,375.03 L599.32,375.12 L599.45,375.2 L599.59,375.3 L599.73,375.39 L599.87,375.49 L600.01,375.59 L600.15,375.7 L600.28,375.81 L600.42,375.91 L600.56,376.02 L600.7,376.13 L600.7,379.87 L600.56,379.98 L600.42,380.09 L600.28,380.19 L600.15,380.3 L600.01,380.41 L599.87,380.51 L599.73,380.61 L599.59,380.7 L599.45,380.8 L599.32,380.88 L599.18,380.97 L599.04,381.04 L598.9,381.11 L598.76,381.18 L598.62,381.23 L598.48,381.28 L598.35,381.32 L598.21,381.36 L598.07,381.38 L597.93,381.39 L597.79,381.4 L597.65,381.4 L597.52,381.38 L597.38,381.36 L597.24,381.33 L597.1,381.29 L596.96,381.25 L596.82,381.19 L596.68,381.13 L596.55,381.05 L596.41,380.98 L596.27,380.89 L596.13,380.8 L595.99,380.7 L595.85,380.6 L595.72,380.5 L595.58,380.39 L595.44,380.28 L595.3,380.17Z" fill="#eddaa6" stroke="#333" stroke-width="0.45" stroke-linejoin="round"/>
<circle cx="596.5" cy="378" r="1.65" fill="#c9960c" stroke="#2c2102" stroke-width="0.6"/>
<circle cx="596.5" cy="379" r="1.65" fill="#c9960c" stroke="#2c2102" stroke-width="0.6"/>
<circle cx="597.5" cy="376.05" r="1.65" fill="#c9960c" stroke="#2c2102" stroke-width="0.6"/>
<circle cx="599.2" cy="378" r="1.65" fill="#c9960c" stroke="#2c2102" stroke-width="0.6"/>
<circle cx="599.5" cy="379.95" r="1.65" fill="#c9960c" stroke="#2c2102" stroke-width="0.6"/>
<path d="M595.3,385.42 L595.45,385.3 L595.61,385.18 L595.76,385.06 L595.92,384.94 L596.07,384.83 L596.22,384.72 L596.38,384.62 L596.53,384.53 L596.68,384.44 L596.84,384.36 L596.99,384.29 L597.15,384.24 L597.3,384.19 L597.45,384.15 L597.61,384.12 L597.76,384.1 L597.92,384.1 L598.07,384.11 L598.22,384.12 L598.38,384.15 L598.53,384.19 L598.68,384.24 L598.84,384.3 L598.99,384.36 L599.15,384.44 L599.3,384.52 L599.45,384.62 L599.61,384.71 L599.76,384.82 L599.92,384.92 L600.07,385.04 L600.22,385.15 L600.38,385.27 L600.53,385.38 L600.68,385.5 L600.84,385.62 L600.99,385.74 L601.15,385.85 L601.3,385.97 L601.3,389.03 L601.15,389.15 L600.99,389.26 L600.84,389.38 L600.68,389.5 L600.53,389.62 L600.38,389.73 L600.22,389.85 L600.07,389.96 L599.92,390.08 L599.76,390.18 L599.61,390.29 L599.45,390.38 L599.3,390.48 L599.15,390.56 L598.99,390.64 L598.84,390.7 L598.68,390.76 L598.53,390.81 L598.38,390.85 L598.22,390.88 L598.07,390.89 L597.92,390.9 L597.76,390.9 L597.61,390.88 L597.45,390.85 L597.3,390.81 L597.15,390.76 L596.99,390.71 L596.84,390.64 L596.68,390.56 L596.53,390.47 L596.38,390.38 L596.22,390.28 L596.07,390.17 L595.92,390.06 L595.76,389.94 L595.61,389.82 L595.45,389.7 L595.3,389.58Z" fill="#f9c6ab" stroke="#333" stroke-width="0.45" stroke-linejoin="round"/>
<circle cx="596.5" cy="387.5" r="1.65" fill="#e8590c" stroke="#331302" stroke-width="0.6"/>
<circle cx="596.5" cy="388.5" r="1.65" fill="#e8590c" stroke="#331302" stroke-width="0.6"/>
<circle cx="598.3" cy="386.2" r="1.65" fill="#e8590c" stroke="#331302" stroke-width="0.6"/>
<circle cx="598.5" cy="388.8" r="1.65" fill="#e8590c" stroke="#331302" stroke-width="0.6"/>
<circle cx="600.1" cy="387.5" r="1.65" fill="#e8590c" stroke="#331302" stroke-width="0.6"/>
<path d="M595.3,394.6 L595.5,394.43 L595.71,394.27 L595.91,394.13 L596.11,393.99 L596.31,393.88 L596.52,393.78 L596.72,393.7 L596.92,393.65 L597.12,393.61 L597.33,393.6 L597.53,393.61 L597.73,393.64 L597.93,393.69 L598.14,393.76 L598.34,393.85 L598.54,393.94 L598.74,394.05 L598.95,394.17 L599.15,394.29 L599.35,394.42 L599.55,394.54 L599.76,394.67 L599.96,394.79 L600.16,394.9 L600.36,395.02 L600.57,395.12 L600.77,395.22 L600.97,395.32 L601.17,395.41 L601.38,395.49 L601.58,395.57 L601.78,395.64 L601.98,395.72 L602.19,395.79 L602.39,395.86 L602.59,395.92 L602.79,395.99 L603,396.06 L603.2,396.12 L603.2,397.88 L603,397.94 L602.79,398.01 L602.59,398.08 L602.39,398.14 L602.19,398.21 L601.98,398.28 L601.78,398.36 L601.58,398.43 L601.38,398.51 L601.17,398.59 L600.97,398.68 L600.77,398.78 L600.57,398.88 L600.36,398.98 L600.16,399.1 L599.96,399.21 L599.76,399.33 L599.55,399.46 L599.35,399.58 L599.15,399.71 L598.95,399.83 L598.74,399.95 L598.54,400.06 L598.34,400.15 L598.14,400.24 L597.93,400.31 L597.73,400.36 L597.53,400.39 L597.33,400.4 L597.12,400.39 L596.92,400.35 L596.72,400.3 L596.52,400.22 L596.31,400.12 L596.11,400.01 L595.91,399.87 L595.71,399.73 L595.5,399.57 L595.3,399.4Z" fill="#bba3f4" stroke="#333" stroke-width="0.45" stroke-linejoin="round"/>
<circle cx="596.5" cy="397" r="1.65" fill="#6a2bd9" stroke="#17092f" stroke-width="0.6"/>
<circle cx="596.5" cy="398" r="1.65" fill="#6a2bd9" stroke="#17092f" stroke-width="0.6"/>
<circle cx="597.5" cy="395.05" r="1.65" fill="#6a2bd9" stroke="#17092f" stroke-width="0.6"/>
<circle cx="598.3" cy="398.95" r="1.65" fill="#6a2bd9" stroke="#17092f" stroke-width="0.6"/>
<circle cx="602" cy="397" r="1.65" fill="#6a2bd9" stroke="#17092f" stroke-width="0.6"/>
<path d="M595.3,406.07 L596.87,406.06 L598.45,406.05 L600.02,406.05 L601.6,406.07 L603.17,406.09 L604.75,406.12 L606.32,406.16 L607.89,406.2 L609.47,406.24 L611.04,406.28 L612.62,406.31 L614.19,406.35 L615.77,406.38 L617.34,406.41 L618.92,406.43 L620.49,406.45 L622.06,406.46 L623.64,406.47 L625.21,406.48 L626.79,406.49 L628.36,406.49 L629.94,406.49 L631.51,406.49 L633.08,406.49 L634.66,406.49 L636.23,406.48 L637.81,406.48 L639.38,406.47 L640.96,406.46 L642.53,406.45 L644.11,406.44 L645.68,406.43 L647.25,406.42 L648.83,406.4 L650.4,406.39 L651.98,406.39 L653.55,406.38 L655.13,406.38 L656.7,406.38 L656.7,406.62 L655.13,406.62 L653.55,406.62 L651.98,406.61 L650.4,406.61 L648.83,406.6 L647.25,406.58 L645.68,406.57 L644.11,406.56 L642.53,406.55 L640.96,406.54 L639.38,406.53 L637.81,406.52 L636.23,406.52 L634.66,406.51 L633.08,406.51 L631.51,406.51 L629.94,406.51 L628.36,406.51 L626.79,406.51 L625.21,406.52 L623.64,406.53 L622.06,406.54 L620.49,406.55 L618.92,406.57 L617.34,406.59 L615.77,406.62 L614.19,406.65 L612.62,406.69 L611.04,406.72 L609.47,406.76 L607.89,406.8 L606.32,406.84 L604.75,406.88 L603.17,406.91 L601.6,406.93 L600.02,406.95 L598.45,406.95 L596.87,406.94 L595.3,406.93Z" fill="#c9cdfa" stroke="#333" stroke-width="0.45" stroke-linejoin="round"/>
<circle cx="596.5" cy="406.5" r="1.65" fill="#0d8ff0" stroke="#021f34" stroke-width="0.6"/>
<circle cx="596.5" cy="407.5" r="1.65" fill="#0d8ff0" stroke="#021f34" stroke-width="0.6"/>
<circle cx="597.5" cy="404.55" r="1.65" fill="#0d8ff0" stroke="#021f34" stroke-width="0.6"/>
<circle cx="605.5" cy="406.5" r="1.65" fill="#0d8ff0" stroke="#021f34" stroke-width="0.6"/>
<circle cx="655.5" cy="406.5" r="1.65" fill="#0d8ff0" stroke="#021f34" stroke-width="0.6"/>
<line x1="596.5" y1="371.5" x2="596.5" y2="413.45" stroke="#1a1a1a" stroke-width="0.9" />
<line x1="596.05" y1="413" x2="679.45" y2="413" stroke="#1a1a1a" stroke-width="0.9" />
<line x1="596.5" y1="413" x2="596.5" y2="415.2" stroke="#1a1a1a" stroke-width="0.7" />
<text x="596.5" y="422.3" font-size="6.5" text-anchor="middle" stroke="#000" stroke-width="0.16">0.0</text>
<line x1="617.12" y1="413" x2="617.12" y2="415.2" stroke="#1a1a1a" stroke-width="0.7" />
<text x="617.12" y="422.3" font-size="6.5" text-anchor="middle" stroke="#000" stroke-width="0.16">0.1</text>
<line x1="637.75" y1="413" x2="637.75" y2="415.2" stroke="#1a1a1a" stroke-width="0.7" />
<text x="637.75" y="422.3" font-size="6.5" text-anchor="middle" stroke="#000" stroke-width="0.16">0.2</text>
<line x1="658.38" y1="413" x2="658.38" y2="415.2" stroke="#1a1a1a" stroke-width="0.7" />
<text x="658.38" y="422.3" font-size="6.5" text-anchor="middle" stroke="#000" stroke-width="0.16">0.3</text>
<line x1="679" y1="413" x2="679" y2="415.2" stroke="#1a1a1a" stroke-width="0.7" />
<text x="679" y="422.3" font-size="6.5" text-anchor="middle" stroke="#000" stroke-width="0.16">0.4</text>
<line x1="594.9" y1="378" x2="596.5" y2="378" stroke="#1a1a1a" stroke-width="0.6" />
<line x1="594.9" y1="387.5" x2="596.5" y2="387.5" stroke="#1a1a1a" stroke-width="0.6" />
<line x1="594.9" y1="397" x2="596.5" y2="397" stroke="#1a1a1a" stroke-width="0.6" />
<line x1="594.9" y1="406.5" x2="596.5" y2="406.5" stroke="#1a1a1a" stroke-width="0.6" />
<text x="361.5" y="440" font-size="15" font-weight="bold" stroke="#000" stroke-width="0.16">f</text>
<line x1="381.5" y1="454" x2="463.6" y2="454" stroke="#b9b9b9" stroke-width="0.7" />
<line x1="381.5" y1="463.5" x2="463.6" y2="463.5" stroke="#b9b9b9" stroke-width="0.7" />
<line x1="381.5" y1="473" x2="463.6" y2="473" stroke="#b9b9b9" stroke-width="0.7" />
<line x1="381.5" y1="482.5" x2="463.6" y2="482.5" stroke="#b9b9b9" stroke-width="0.7" />
<text x="422.8" y="445.7" font-size="9.8" text-anchor="middle" font-style="italic" stroke="#000" stroke-width="0.16">Cumulative sum</text>
<path d="M381.8,454 L383.15,454 L384.5,454 L385.85,454 L387.21,454 L388.56,454 L389.91,454 L391.26,454 L392.61,453.99 L393.96,453.95 L395.31,453.87 L396.66,453.68 L398.02,453.36 L399.37,452.9 L400.72,452.36 L402.07,451.84 L403.42,451.46 L404.77,451.24 L406.12,451.2 L407.47,451.33 L408.83,451.61 L410.18,452 L411.53,452.41 L412.88,452.75 L414.23,453.02 L415.58,453.25 L416.93,453.46 L418.28,453.66 L419.64,453.82 L420.99,453.92 L422.34,453.97 L423.69,453.99 L425.04,454 L426.39,454 L427.74,454 L429.09,454 L430.45,454 L431.8,454 L433.15,454 L434.5,454 L434.5,454 L433.15,454 L431.8,454 L430.45,454 L429.09,454 L427.74,454 L426.39,454 L425.04,454 L423.69,454.01 L422.34,454.03 L420.99,454.08 L419.64,454.18 L418.28,454.34 L416.93,454.54 L415.58,454.75 L414.23,454.98 L412.88,455.25 L411.53,455.59 L410.18,456 L408.83,456.39 L407.47,456.67 L406.12,456.8 L404.77,456.76 L403.42,456.54 L402.07,456.16 L400.72,455.64 L399.37,455.1 L398.02,454.64 L396.66,454.32 L395.31,454.13 L393.96,454.05 L392.61,454.01 L391.26,454 L389.91,454 L388.56,454 L387.21,454 L385.85,454 L384.5,454 L383.15,454 L381.8,454Z" fill="#eddaa6" stroke="#55555f" stroke-width="0.4" stroke-linejoin="round"/>
<circle cx="401.8" cy="454" r="1.7" fill="#c9960c" stroke="#2c2102" stroke-width="0.6"/>
<circle cx="403.1" cy="455.95" r="1.7" fill="#c9960c" stroke="#2c2102" stroke-width="0.6"/>
<circle cx="404" cy="454" r="1.7" fill="#c9960c" stroke="#2c2102" stroke-width="0.6"/>
<circle cx="407.1" cy="454" r="1.7" fill="#c9960c" stroke="#2c2102" stroke-width="0.6"/>
<circle cx="408.4" cy="455.95" r="1.7" fill="#c9960c" stroke="#2c2102" stroke-width="0.6"/>
<circle cx="408.8" cy="452.7" r="1.7" fill="#c9960c" stroke="#2c2102" stroke-width="0.6"/>
<circle cx="414.5" cy="454" r="1.7" fill="#c9960c" stroke="#2c2102" stroke-width="0.6"/>
<path d="M385.6,463.5 L387.37,463.5 L389.13,463.5 L390.9,463.5 L392.67,463.49 L394.43,463.47 L396.2,463.4 L397.97,463.23 L399.73,462.88 L401.5,462.34 L403.27,461.66 L405.03,461.03 L406.8,460.7 L408.57,460.78 L410.33,461.17 L412.1,461.63 L413.87,461.95 L415.63,462.08 L417.4,462.11 L419.17,462.17 L420.93,462.34 L422.7,462.61 L424.47,462.88 L426.23,463.08 L428,463.14 L429.77,463.07 L431.53,462.92 L433.3,462.8 L435.07,462.79 L436.83,462.89 L438.6,463.06 L440.37,463.24 L442.13,463.37 L443.9,463.45 L445.67,463.48 L447.43,463.5 L449.2,463.5 L450.97,463.5 L452.73,463.5 L454.5,463.5 L454.5,463.5 L452.73,463.5 L450.97,463.5 L449.2,463.5 L447.43,463.5 L445.67,463.52 L443.9,463.55 L442.13,463.63 L440.37,463.76 L438.6,463.94 L436.83,464.11 L435.07,464.21 L433.3,464.2 L431.53,464.08 L429.77,463.93 L428,463.86 L426.23,463.92 L424.47,464.12 L422.7,464.39 L420.93,464.66 L419.17,464.83 L417.4,464.89 L415.63,464.92 L413.87,465.05 L412.1,465.37 L410.33,465.83 L408.57,466.22 L406.8,466.3 L405.03,465.97 L403.27,465.34 L401.5,464.66 L399.73,464.12 L397.97,463.77 L396.2,463.6 L394.43,463.53 L392.67,463.51 L390.9,463.5 L389.13,463.5 L387.37,463.5 L385.6,463.5Z" fill="#f9c6ab" stroke="#55555f" stroke-width="0.4" stroke-linejoin="round"/>
<circle cx="405.6" cy="463.5" r="1.7" fill="#e8590c" stroke="#331302" stroke-width="0.6"/>
<circle cx="406.6" cy="465.45" r="1.7" fill="#e8590c" stroke="#331302" stroke-width="0.6"/>
<circle cx="407.5" cy="462.2" r="1.7" fill="#e8590c" stroke="#331302" stroke-width="0.6"/>
<circle cx="408.8" cy="464.15" r="1.7" fill="#e8590c" stroke="#331302" stroke-width="0.6"/>
<circle cx="416.7" cy="463.5" r="1.7" fill="#e8590c" stroke="#331302" stroke-width="0.6"/>
<circle cx="420.6" cy="463.5" r="1.7" fill="#e8590c" stroke="#331302" stroke-width="0.6"/>
<circle cx="434.5" cy="463.5" r="1.7" fill="#e8590c" stroke="#331302" stroke-width="0.6"/>
<path d="M381.4,473 L382.95,473 L384.49,473 L386.04,473 L387.58,473 L389.13,473 L390.68,473 L392.22,472.98 L393.77,472.92 L395.32,472.76 L396.86,472.41 L398.41,471.82 L399.95,471.09 L401.5,470.46 L403.05,470.2 L404.59,470.4 L406.14,470.91 L407.68,471.51 L409.23,471.98 L410.78,472.21 L412.32,472.22 L413.87,472.12 L415.42,472.05 L416.96,472.04 L418.51,472.05 L420.05,472.04 L421.6,472.08 L423.15,472.23 L424.69,472.46 L426.24,472.7 L427.78,472.87 L429.33,472.95 L430.88,472.99 L432.42,473 L433.97,473 L435.52,473 L437.06,473 L438.61,473 L440.15,473 L441.7,473 L441.7,473 L440.15,473 L438.61,473 L437.06,473 L435.52,473 L433.97,473 L432.42,473 L430.88,473.01 L429.33,473.05 L427.78,473.13 L426.24,473.3 L424.69,473.54 L423.15,473.77 L421.6,473.92 L420.05,473.96 L418.51,473.95 L416.96,473.96 L415.42,473.95 L413.87,473.88 L412.32,473.78 L410.78,473.79 L409.23,474.02 L407.68,474.49 L406.14,475.09 L404.59,475.6 L403.05,475.8 L401.5,475.54 L399.95,474.91 L398.41,474.18 L396.86,473.59 L395.32,473.24 L393.77,473.08 L392.22,473.02 L390.68,473 L389.13,473 L387.58,473 L386.04,473 L384.49,473 L382.95,473 L381.4,473Z" fill="#bba3f4" stroke="#55555f" stroke-width="0.4" stroke-linejoin="round"/>
<circle cx="401.4" cy="473" r="1.7" fill="#6a2bd9" stroke="#17092f" stroke-width="0.6"/>
<circle cx="402.7" cy="474.95" r="1.7" fill="#6a2bd9" stroke="#17092f" stroke-width="0.6"/>
<circle cx="403.1" cy="471.7" r="1.7" fill="#6a2bd9" stroke="#17092f" stroke-width="0.6"/>
<circle cx="406.6" cy="473" r="1.7" fill="#6a2bd9" stroke="#17092f" stroke-width="0.6"/>
<circle cx="415" cy="473" r="1.7" fill="#6a2bd9" stroke="#17092f" stroke-width="0.6"/>
<circle cx="421.7" cy="473" r="1.7" fill="#6a2bd9" stroke="#17092f" stroke-width="0.6"/>
<path d="M392.9,482.5 L394.61,482.5 L396.33,482.5 L398.04,482.5 L399.75,482.5 L401.46,482.5 L403.18,482.49 L404.89,482.46 L406.6,482.38 L408.32,482.21 L410.03,481.93 L411.74,481.58 L413.45,481.2 L415.17,480.78 L416.88,480.33 L418.59,479.92 L420.31,479.7 L422.02,479.82 L423.73,480.3 L425.44,480.99 L427.16,481.66 L428.87,482.12 L430.58,482.35 L432.29,482.41 L434.01,482.33 L435.72,482.16 L437.43,481.95 L439.15,481.81 L440.86,481.84 L442.57,482.02 L444.28,482.23 L446,482.39 L447.71,482.46 L449.42,482.49 L451.14,482.5 L452.85,482.5 L454.56,482.5 L456.27,482.5 L457.99,482.5 L459.7,482.5 L459.7,482.5 L457.99,482.5 L456.27,482.5 L454.56,482.5 L452.85,482.5 L451.14,482.5 L449.42,482.51 L447.71,482.54 L446,482.61 L444.28,482.77 L442.57,482.98 L440.86,483.16 L439.15,483.19 L437.43,483.05 L435.72,482.84 L434.01,482.67 L432.29,482.59 L430.58,482.65 L428.87,482.88 L427.16,483.34 L425.44,484.01 L423.73,484.7 L422.02,485.18 L420.31,485.3 L418.59,485.08 L416.88,484.67 L415.17,484.22 L413.45,483.8 L411.74,483.42 L410.03,483.07 L408.32,482.79 L406.6,482.62 L404.89,482.54 L403.18,482.51 L401.46,482.5 L399.75,482.5 L398.04,482.5 L396.33,482.5 L394.61,482.5 L392.9,482.5Z" fill="#c9cdfa" stroke="#55555f" stroke-width="0.4" stroke-linejoin="round"/>
<circle cx="412.9" cy="482.5" r="1.7" fill="#0d8ff0" stroke="#021f34" stroke-width="0.6"/>
<circle cx="417.1" cy="482.5" r="1.7" fill="#0d8ff0" stroke="#021f34" stroke-width="0.6"/>
<circle cx="419.3" cy="482.5" r="1.7" fill="#0d8ff0" stroke="#021f34" stroke-width="0.6"/>
<circle cx="420.6" cy="484.45" r="1.7" fill="#0d8ff0" stroke="#021f34" stroke-width="0.6"/>
<circle cx="422.8" cy="482.5" r="1.7" fill="#0d8ff0" stroke="#021f34" stroke-width="0.6"/>
<circle cx="423.7" cy="484.45" r="1.7" fill="#0d8ff0" stroke="#021f34" stroke-width="0.6"/>
<circle cx="439.7" cy="482.5" r="1.7" fill="#0d8ff0" stroke="#021f34" stroke-width="0.6"/>
<line x1="381.5" y1="447.5" x2="381.5" y2="489.45" stroke="#1a1a1a" stroke-width="0.9" />
<line x1="381.05" y1="489" x2="464.05" y2="489" stroke="#1a1a1a" stroke-width="0.9" />
<line x1="381.5" y1="489" x2="381.5" y2="491.2" stroke="#1a1a1a" stroke-width="0.7" />
<text x="381.5" y="498.3" font-size="6.1" text-anchor="middle" stroke="#000" stroke-width="0.16">-0.2</text>
<line x1="402.02" y1="489" x2="402.02" y2="491.2" stroke="#1a1a1a" stroke-width="0.7" />
<text x="402.02" y="498.3" font-size="6.1" text-anchor="middle" stroke="#000" stroke-width="0.16">0.0</text>
<line x1="422.55" y1="489" x2="422.55" y2="491.2" stroke="#1a1a1a" stroke-width="0.7" />
<text x="422.55" y="498.3" font-size="6.1" text-anchor="middle" stroke="#000" stroke-width="0.16">0.2</text>
<line x1="443.07" y1="489" x2="443.07" y2="491.2" stroke="#1a1a1a" stroke-width="0.7" />
<text x="443.07" y="498.3" font-size="6.1" text-anchor="middle" stroke="#000" stroke-width="0.16">0.4</text>
<line x1="463.6" y1="489" x2="463.6" y2="491.2" stroke="#1a1a1a" stroke-width="0.7" />
<text x="463.6" y="498.3" font-size="6.1" text-anchor="middle" stroke="#000" stroke-width="0.16">0.6</text>
<line x1="379.9" y1="454" x2="381.5" y2="454" stroke="#1a1a1a" stroke-width="0.6" />
<line x1="379.9" y1="463.5" x2="381.5" y2="463.5" stroke="#1a1a1a" stroke-width="0.6" />
<line x1="379.9" y1="473" x2="381.5" y2="473" stroke="#1a1a1a" stroke-width="0.6" />
<line x1="379.9" y1="482.5" x2="381.5" y2="482.5" stroke="#1a1a1a" stroke-width="0.6" />
<text x="378" y="456" font-size="5.85" text-anchor="end" stroke="#000" stroke-width="0.16">LV::Conca</text>
<text x="378" y="465.5" font-size="5.85" text-anchor="end" stroke="#000" stroke-width="0.16">LV::Conca-27</text>
<text x="378" y="475" font-size="5.85" text-anchor="end" stroke="#000" stroke-width="0.16">LV::UB-A7</text>
<text x="378" y="484.5" font-size="5.85" text-anchor="end" stroke="#000" stroke-width="0.16">LV::UB-A7-27</text>
<text x="422.5" y="507" font-size="5.4" text-anchor="middle" stroke="#000" stroke-width="0.16">% of CD4+ IFNγ+ TNFα+</text>
<line x1="453.4" y1="473" x2="453.4" y2="482.5" stroke="#222" stroke-width="0.6" />
<text x="457.2" y="480.4" font-size="6.5" text-anchor="middle" font-weight="bold" stroke="#000" stroke-width="0.16">*</text>
<line x1="463.6" y1="454" x2="463.6" y2="482.5" stroke="#222" stroke-width="0.6" />
<text x="463.79" y="468.25" font-size="5.5" text-anchor="middle" font-weight="bold" stroke="#000" stroke-width="0.16" transform="rotate(90 463.79 468.25)">**</text>
<text x="475.8" y="440.1" font-size="15" font-weight="bold" stroke="#000" stroke-width="0.16">g</text>
<line x1="488.3" y1="454.4" x2="570.6" y2="454.4" stroke="#b9b9b9" stroke-width="0.7" />
<line x1="488.3" y1="463.35" x2="570.6" y2="463.35" stroke="#b9b9b9" stroke-width="0.7" />
<line x1="488.3" y1="472.4" x2="570.6" y2="472.4" stroke="#b9b9b9" stroke-width="0.7" />
<line x1="488.3" y1="481.4" x2="570.6" y2="481.4" stroke="#b9b9b9" stroke-width="0.7" />
<text x="529.8" y="445.2" font-size="9.8" text-anchor="middle" font-style="italic" stroke="#000" stroke-width="0.16">Diversity</text>
<rect x="488.3" y="451.5" width="4.4" height="5.8" fill="#a9a9a9" stroke="#2a2a2a" stroke-width="0.55"/>
<rect x="492.7" y="451.5" width="1.7" height="5.8" fill="#f9b3b3" stroke="#2a2a2a" stroke-width="0.55"/>
<rect x="494.4" y="451.5" width="1.1" height="5.8" fill="#e0793a" stroke="#2a2a2a" stroke-width="0.55"/>
<rect x="495.5" y="451.5" width="1.6" height="5.8" fill="#d8d8a6" stroke="#2a2a2a" stroke-width="0.55"/>
<rect x="497.1" y="451.5" width="1.6" height="5.8" fill="#6ba52f" stroke="#2a2a2a" stroke-width="0.55"/>
<rect x="498.7" y="451.5" width="0.8" height="5.8" fill="#5c9bd8" stroke="#2a2a2a" stroke-width="0.55"/>
<rect x="499.5" y="451.5" width="0.7" height="5.8" fill="#727272" stroke="#2a2a2a" stroke-width="0.55"/>
<rect x="500.2" y="451.5" width="1.8" height="5.8" fill="#f3de4d" stroke="#2a2a2a" stroke-width="0.55"/>
<rect x="502" y="451.5" width="1.6" height="5.8" fill="#27c4dc" stroke="#2a2a2a" stroke-width="0.55"/>
<rect x="488.3" y="460.45" width="7.2" height="5.8" fill="#a9a9a9" stroke="#2a2a2a" stroke-width="0.55"/>
<rect x="495.5" y="460.45" width="9.3" height="5.8" fill="#f9b3b3" stroke="#2a2a2a" stroke-width="0.55"/>
<rect x="504.8" y="460.45" width="3.4" height="5.8" fill="#e0793a" stroke="#2a2a2a" stroke-width="0.55"/>
<rect x="508.2" y="460.45" width="1.9" height="5.8" fill="#d8d8a6" stroke="#2a2a2a" stroke-width="0.55"/>
<rect x="510.1" y="460.45" width="4.7" height="5.8" fill="#6ba52f" stroke="#2a2a2a" stroke-width="0.55"/>
<rect x="514.8" y="460.45" width="5" height="5.8" fill="#5c9bd8" stroke="#2a2a2a" stroke-width="0.55"/>
<rect x="519.8" y="460.45" width="2.5" height="5.8" fill="#727272" stroke="#2a2a2a" stroke-width="0.55"/>
<rect x="522.3" y="460.45" width="2.5" height="5.8" fill="#f3de4d" stroke="#2a2a2a" stroke-width="0.55"/>
<rect x="524.8" y="460.45" width="3" height="5.8" fill="#27c4dc" stroke="#2a2a2a" stroke-width="0.55"/>
<rect x="488.3" y="469.5" width="1.9" height="5.8" fill="#a9a9a9" stroke="#2a2a2a" stroke-width="0.55"/>
<rect x="490.2" y="469.5" width="2" height="5.8" fill="#f9b3b3" stroke="#2a2a2a" stroke-width="0.55"/>
<rect x="492.2" y="469.5" width="1.7" height="5.8" fill="#e0793a" stroke="#2a2a2a" stroke-width="0.55"/>
<rect x="493.9" y="469.5" width="2.2" height="5.8" fill="#d8d8a6" stroke="#2a2a2a" stroke-width="0.55"/>
<rect x="496.1" y="469.5" width="1.9" height="5.8" fill="#6ba52f" stroke="#2a2a2a" stroke-width="0.55"/>
<rect x="498" y="469.5" width="1.3" height="5.8" fill="#5c9bd8" stroke="#2a2a2a" stroke-width="0.55"/>
<rect x="499.3" y="469.5" width="1.6" height="5.8" fill="#727272" stroke="#2a2a2a" stroke-width="0.55"/>
<rect x="500.9" y="469.5" width="2.5" height="5.8" fill="#f3de4d" stroke="#2a2a2a" stroke-width="0.55"/>
<rect x="503.4" y="469.5" width="2.3" height="5.8" fill="#27c4dc" stroke="#2a2a2a" stroke-width="0.55"/>
<rect x="488.3" y="478.5" width="10" height="5.8" fill="#a9a9a9" stroke="#2a2a2a" stroke-width="0.55"/>
<rect x="498.3" y="478.5" width="4.5" height="5.8" fill="#f9b3b3" stroke="#2a2a2a" stroke-width="0.55"/>
<rect x="502.8" y="478.5" width="4.5" height="5.8" fill="#e0793a" stroke="#2a2a2a" stroke-width="0.55"/>
<rect x="507.3" y="478.5" width="4" height="5.8" fill="#d8d8a6" stroke="#2a2a2a" stroke-width="0.55"/>
<rect x="511.3" y="478.5" width="4" height="5.8" fill="#6ba52f" stroke="#2a2a2a" stroke-width="0.55"/>
<rect x="515.3" y="478.5" width="3.5" height="5.8" fill="#5c9bd8" stroke="#2a2a2a" stroke-width="0.55"/>
<rect x="518.8" y="478.5" width="4" height="5.8" fill="#727272" stroke="#2a2a2a" stroke-width="0.55"/>
<rect x="522.8" y="478.5" width="5" height="5.8" fill="#f3de4d" stroke="#2a2a2a" stroke-width="0.55"/>
<rect x="527.8" y="478.5" width="16.3" height="5.8" fill="#27c4dc" stroke="#2a2a2a" stroke-width="0.55"/>
<line x1="488.3" y1="448.3" x2="488.3" y2="487.65" stroke="#1a1a1a" stroke-width="0.9" />
<line x1="487.85" y1="487.2" x2="571.05" y2="487.2" stroke="#1a1a1a" stroke-width="0.9" />
<line x1="488.3" y1="487.2" x2="488.3" y2="489.4" stroke="#1a1a1a" stroke-width="0.7" />
<text x="488.3" y="495.6" font-size="5.8" text-anchor="middle" stroke="#000" stroke-width="0.16">0.00</text>
<line x1="504.76" y1="487.2" x2="504.76" y2="489.4" stroke="#1a1a1a" stroke-width="0.7" />
<text x="504.76" y="495.6" font-size="5.8" text-anchor="middle" stroke="#000" stroke-width="0.16">0.05</text>
<line x1="521.22" y1="487.2" x2="521.22" y2="489.4" stroke="#1a1a1a" stroke-width="0.7" />
<text x="521.22" y="495.6" font-size="5.8" text-anchor="middle" stroke="#000" stroke-width="0.16">0.10</text>
<line x1="537.68" y1="487.2" x2="537.68" y2="489.4" stroke="#1a1a1a" stroke-width="0.7" />
<text x="537.68" y="495.6" font-size="5.8" text-anchor="middle" stroke="#000" stroke-width="0.16">0.15</text>
<line x1="554.14" y1="487.2" x2="554.14" y2="489.4" stroke="#1a1a1a" stroke-width="0.7" />
<text x="554.14" y="495.6" font-size="5.8" text-anchor="middle" stroke="#000" stroke-width="0.16">0.20</text>
<line x1="570.6" y1="487.2" x2="570.6" y2="489.4" stroke="#1a1a1a" stroke-width="0.7" />
<text x="570.6" y="495.6" font-size="5.8" text-anchor="middle" stroke="#000" stroke-width="0.16">0.25</text>
<line x1="486.3" y1="454.4" x2="488.3" y2="454.4" stroke="#1a1a1a" stroke-width="0.6" />
<line x1="486.3" y1="463.35" x2="488.3" y2="463.35" stroke="#1a1a1a" stroke-width="0.6" />
<line x1="486.3" y1="472.4" x2="488.3" y2="472.4" stroke="#1a1a1a" stroke-width="0.6" />
<line x1="486.3" y1="481.4" x2="488.3" y2="481.4" stroke="#1a1a1a" stroke-width="0.6" />
<text x="529.2" y="503" font-size="5.55" text-anchor="middle" stroke="#000" stroke-width="0.16">% of CD4+ IFNg+ TNFa+</text>
<rect x="581.2" y="453.2" width="6.2" height="6.2" fill="#a9a9a9" stroke="#555" stroke-width="0.5"/>
<text x="590.7" y="458.55" font-size="6.25" stroke="#000" stroke-width="0.16">Aldh18a1</text>
<rect x="581.2" y="460.9" width="6.2" height="6.2" fill="#f9b3b3" stroke="#555" stroke-width="0.5"/>
<text x="590.7" y="466.25" font-size="6.25" stroke="#000" stroke-width="0.16">Dhx35</text>
<rect x="581.2" y="468.6" width="6.2" height="6.2" fill="#e0793a" stroke="#555" stroke-width="0.5"/>
<text x="590.7" y="473.95" font-size="6.25" stroke="#000" stroke-width="0.16">E2f8-1</text>
<rect x="581.2" y="476.3" width="6.2" height="6.2" fill="#d8d8a6" stroke="#555" stroke-width="0.5"/>
<text x="590.7" y="481.65" font-size="6.25" stroke="#000" stroke-width="0.16">E2f8-2</text>
<rect x="581.2" y="484" width="6.2" height="6.2" fill="#6ba52f" stroke="#555" stroke-width="0.5"/>
<text x="590.7" y="489.35" font-size="6.25" stroke="#000" stroke-width="0.16">Mitch1</text>
<rect x="621.1" y="453.2" width="6.2" height="6.2" fill="#5c9bd8" stroke="#555" stroke-width="0.5"/>
<text x="630.6" y="458.55" font-size="6.25" stroke="#000" stroke-width="0.16">Slc20a1-1</text>
<rect x="621.1" y="460.9" width="6.2" height="6.2" fill="#727272" stroke="#555" stroke-width="0.5"/>
<text x="630.6" y="466.25" font-size="6.25" stroke="#000" stroke-width="0.16">Slc20a1-2</text>
<rect x="621.1" y="468.6" width="6.2" height="6.2" fill="#f3de4d" stroke="#555" stroke-width="0.5"/>
<text x="630.6" y="473.95" font-size="6.25" stroke="#000" stroke-width="0.16">Tmem87</text>
<rect x="621.1" y="476.3" width="6.2" height="6.2" fill="#27c4dc" stroke="#555" stroke-width="0.5"/>
<text x="630.6" y="481.65" font-size="6.25" stroke="#000" stroke-width="0.16">Agxt2l2</text>
<text x="18.4" y="540.6" font-size="15" font-weight="bold" stroke="#000" stroke-width="0.16">h</text>
<text x="39.6" y="561.3" font-size="6.6" text-anchor="middle" stroke="#000" stroke-width="0.16" transform="rotate(-90 39.6 561.3)">Tumor volume (mm<tspan font-size="4" dy="-2.2">3</tspan><tspan dy="2.2">)</tspan></text>
<text x="104.5" y="529.4" font-size="7.7" text-anchor="middle" stroke="#000" stroke-width="0.16">Ctrl LV</text>
<line x1="81.37" y1="533" x2="81.37" y2="590.6" stroke="#f0332b" stroke-width="0.7" stroke-dasharray="1 0.9"/>
<path d="M82.84,590.6 L98.65,587.91 L104.8,574.09 L111.83,565.26 L125.3,533 L145.8,533" fill="none" stroke="#bdbdbd" stroke-width="0.95" stroke-linejoin="round" stroke-linecap="round"/>
<path d="M82.84,590.6 L98.94,588.3 L110.95,581.38 L125.3,560.42 L130.86,560.42 L140.24,535.19 L145.8,533" fill="none" stroke="#bdbdbd" stroke-width="0.95" stroke-linejoin="round" stroke-linecap="round"/>
<path d="M82.84,590.6 L98.94,588.87 L110.95,582.11 L125.3,568.9 L131.16,561.3 L136.43,546.94 L145.8,533" fill="none" stroke="#bdbdbd" stroke-width="0.95" stroke-linejoin="round" stroke-linecap="round"/>
<path d="M82.84,590.6 L104.8,588.68 L116.22,585.03 L125.3,578.43 L130.86,573.32 L139.36,561.57 L145.8,552.51" fill="none" stroke="#bdbdbd" stroke-width="0.95" stroke-linejoin="round" stroke-linecap="round"/>
<path d="M82.84,590.6 L104.8,589.06 L116.22,585.8 L125.3,579.89 L131.16,575.51 L139.36,563.03 L145.8,557.92" fill="none" stroke="#bdbdbd" stroke-width="0.95" stroke-linejoin="round" stroke-linecap="round"/>
<path d="M82.84,590.6 L104.8,589.45 L116.22,586.57 L125.3,581.38 L131.45,577.39 L139.36,575.51 L145.8,570.09" fill="none" stroke="#bdbdbd" stroke-width="0.95" stroke-linejoin="round" stroke-linecap="round"/>
<line x1="63.8" y1="532.7" x2="63.8" y2="591.18" stroke="#8d8d8d" stroke-width="1.15" />
<line x1="63.22" y1="590.6" x2="146.38" y2="590.6" stroke="#8d8d8d" stroke-width="1.15" />
<line x1="60.8" y1="590.6" x2="63.3" y2="590.6" stroke="#333" stroke-width="0.7" />
<text x="58.9" y="592.8" font-size="6.3" text-anchor="end" stroke="#000" stroke-width="0.16">0</text>
<line x1="60.8" y1="571.4" x2="63.3" y2="571.4" stroke="#333" stroke-width="0.7" />
<text x="58.9" y="573.6" font-size="6.3" text-anchor="end" stroke="#000" stroke-width="0.16">500</text>
<line x1="60.8" y1="552.2" x2="63.3" y2="552.2" stroke="#333" stroke-width="0.7" />
<text x="58.9" y="554.4" font-size="6.3" text-anchor="end" stroke="#000" stroke-width="0.16">1000</text>
<line x1="60.8" y1="533" x2="63.3" y2="533" stroke="#333" stroke-width="0.7" />
<text x="58.9" y="535.2" font-size="6.3" text-anchor="end" stroke="#000" stroke-width="0.16">1500</text>
<line x1="63.8" y1="591.1" x2="63.8" y2="593.4" stroke="#333" stroke-width="0.7" />
<text x="63.8" y="601.1" font-size="6.6" text-anchor="middle" stroke="#000" stroke-width="0.16">0</text>
<line x1="84.3" y1="591.1" x2="84.3" y2="593.4" stroke="#333" stroke-width="0.7" />
<text x="84.3" y="601.1" font-size="6.6" text-anchor="middle" stroke="#000" stroke-width="0.16">7</text>
<line x1="104.8" y1="591.1" x2="104.8" y2="593.4" stroke="#333" stroke-width="0.7" />
<text x="104.8" y="601.1" font-size="6.6" text-anchor="middle" stroke="#000" stroke-width="0.16">14</text>
<line x1="125.3" y1="591.1" x2="125.3" y2="593.4" stroke="#333" stroke-width="0.7" />
<text x="125.3" y="601.1" font-size="6.6" text-anchor="middle" stroke="#000" stroke-width="0.16">21</text>
<line x1="145.8" y1="591.1" x2="145.8" y2="593.4" stroke="#333" stroke-width="0.7" />
<text x="145.8" y="601.1" font-size="6.6" text-anchor="middle" stroke="#000" stroke-width="0.16">28</text>
<text x="105.4" y="609" font-size="6.65" text-anchor="middle" stroke="#000" stroke-width="0.16">Days post-engraftment</text>
<text x="202" y="528.3" font-size="7.7" text-anchor="middle" stroke="#000" stroke-width="0.16">LV::conca-CT26</text>
<line x1="178.79" y1="533" x2="178.79" y2="590.6" stroke="#f0332b" stroke-width="0.7" stroke-dasharray="1 0.9"/>
<path d="M161.2,590.6 L178.79,589.83 L196.39,587.91 L202.25,582.92 L211.05,577.93 L222.78,570.63 L230.11,563.72 L235.97,548.36 L243.3,533" fill="none" stroke="#b8900f" stroke-width="0.95" stroke-linejoin="round" stroke-linecap="round"/>
<path d="M161.2,590.6 L178.79,590.02 L196.39,588.3 L202.25,584.46 L222.78,572.17 L230.11,565.64 L237.44,550.28 L243.3,533.77" fill="none" stroke="#b8900f" stroke-width="0.95" stroke-linejoin="round" stroke-linecap="round"/>
<path d="M161.2,590.6 L178.79,590.02 L196.39,588.49 L202.25,585.22 L222.78,572.94 L228.64,567.56 L237.44,552.2 L243.3,538.76" fill="none" stroke="#b8900f" stroke-width="0.95" stroke-linejoin="round" stroke-linecap="round"/>
<path d="M161.2,590.6 L178.79,590.22 L196.39,588.68 L202.25,585.99 L222.78,574.09 L228.64,570.63 L235.97,559.88 L243.3,546.44" fill="none" stroke="#b8900f" stroke-width="0.95" stroke-linejoin="round" stroke-linecap="round"/>
<path d="M161.2,590.6 L178.79,590.22 L196.39,588.87 L202.25,586.76 L213.98,579.08 L222.78,576.39 L228.64,576.78 L243.3,566.79" fill="none" stroke="#b8900f" stroke-width="0.95" stroke-linejoin="round" stroke-linecap="round"/>
<path d="M161.2,590.6 L178.79,590.22 L196.39,589.06 L202.25,587.53 L213.98,581 L222.78,577.93 L228.64,578.7 L243.3,569.86" fill="none" stroke="#b8900f" stroke-width="0.95" stroke-linejoin="round" stroke-linecap="round"/>
<path d="M161.2,590.6 L178.79,590.22 L196.39,589.45 L202.25,588.68 L211.05,587.53 L219.84,585.61 L228.64,586.76 L243.3,583.69" fill="none" stroke="#b8900f" stroke-width="0.95" stroke-linejoin="round" stroke-linecap="round"/>
<path d="M161.2,590.6 L178.79,590.14 L196.39,588.3 L202.25,583.69 L222.78,571.4 L231.57,565.64 L237.44,552.2 L243.3,536.84" fill="none" stroke="#b8900f" stroke-width="0.95" stroke-linejoin="round" stroke-linecap="round"/>
<line x1="161.2" y1="532.7" x2="161.2" y2="591.05" stroke="#2e2e2e" stroke-width="0.9" />
<line x1="160.75" y1="590.6" x2="243.75" y2="590.6" stroke="#2e2e2e" stroke-width="0.9" />
<line x1="158.2" y1="590.6" x2="160.7" y2="590.6" stroke="#333" stroke-width="0.7" />
<line x1="158.2" y1="571.4" x2="160.7" y2="571.4" stroke="#333" stroke-width="0.7" />
<line x1="158.2" y1="552.2" x2="160.7" y2="552.2" stroke="#333" stroke-width="0.7" />
<line x1="158.2" y1="533" x2="160.7" y2="533" stroke="#333" stroke-width="0.7" />
<line x1="161.2" y1="591.1" x2="161.2" y2="593.4" stroke="#333" stroke-width="0.7" />
<text x="161.2" y="601.1" font-size="6.6" text-anchor="middle" stroke="#000" stroke-width="0.16">0</text>
<line x1="181.72" y1="591.1" x2="181.72" y2="593.4" stroke="#333" stroke-width="0.7" />
<text x="181.72" y="601.1" font-size="6.6" text-anchor="middle" stroke="#000" stroke-width="0.16">7</text>
<line x1="202.25" y1="591.1" x2="202.25" y2="593.4" stroke="#333" stroke-width="0.7" />
<text x="202.25" y="601.1" font-size="6.6" text-anchor="middle" stroke="#000" stroke-width="0.16">14</text>
<line x1="222.78" y1="591.1" x2="222.78" y2="593.4" stroke="#333" stroke-width="0.7" />
<text x="222.78" y="601.1" font-size="6.6" text-anchor="middle" stroke="#000" stroke-width="0.16">21</text>
<line x1="243.3" y1="591.1" x2="243.3" y2="593.4" stroke="#333" stroke-width="0.7" />
<text x="243.3" y="601.1" font-size="6.6" text-anchor="middle" stroke="#000" stroke-width="0.16">28</text>
<text x="299.4" y="529.4" font-size="7.7" text-anchor="middle" stroke="#000" stroke-width="0.16">LV::UBA7-CT26</text>
<line x1="276.31" y1="533" x2="276.31" y2="590.6" stroke="#f0332b" stroke-width="0.7" stroke-dasharray="1 0.9"/>
<path d="M258.8,590.6 L279.23,590.41 L299.65,584.84 L308.4,579.08 L320.07,570.63 L325.91,563.72 L334.66,557.96 L340.5,533" fill="none" stroke="#6c47f2" stroke-width="0.95" stroke-linejoin="round" stroke-linecap="round"/>
<path d="M258.8,590.6 L279.23,590.41 L299.65,583.69 L305.49,582.92 L320.07,572.17 L325.91,566.79 L334.66,558.73 L340.5,548.36" fill="none" stroke="#6c47f2" stroke-width="0.95" stroke-linejoin="round" stroke-linecap="round"/>
<path d="M258.8,590.6 L279.23,590.41 L299.65,586.76 L320.07,577.93 L325.91,574.47 L331.75,571.4 L340.5,559.5" fill="none" stroke="#6c47f2" stroke-width="0.95" stroke-linejoin="round" stroke-linecap="round"/>
<path d="M258.8,590.6 L279.23,590.41 L299.65,585.99 L308.4,584.84 L320.07,579.08 L325.91,573.7 L331.75,573.32 L340.5,567.56" fill="none" stroke="#6c47f2" stroke-width="0.95" stroke-linejoin="round" stroke-linecap="round"/>
<path d="M258.8,590.6 L279.23,590.41 L299.65,588.3 L311.32,585.99 L320.07,582.92 L325.91,581 L334.66,574.09 L340.5,569.1" fill="none" stroke="#6c47f2" stroke-width="0.95" stroke-linejoin="round" stroke-linecap="round"/>
<path d="M258.8,590.6 L279.23,590.41 L299.65,588.68 L320.07,583.69 L325.91,582.92 L334.66,576.01 L340.5,570.63" fill="none" stroke="#6c47f2" stroke-width="0.95" stroke-linejoin="round" stroke-linecap="round"/>
<path d="M258.8,590.6 L279.23,590.41 L299.65,589.06 L320.07,584.07 L325.91,583.69 L334.66,577.93 L340.5,572.17" fill="none" stroke="#6c47f2" stroke-width="0.95" stroke-linejoin="round" stroke-linecap="round"/>
<path d="M258.8,590.6 L279.23,590.41 L299.65,587.53 L320.07,579.85 L325.91,575.24 L334.66,572.94 L340.5,572.55" fill="none" stroke="#6c47f2" stroke-width="0.95" stroke-linejoin="round" stroke-linecap="round"/>
<line x1="258.8" y1="532.7" x2="258.8" y2="591.05" stroke="#2e2e2e" stroke-width="0.9" />
<line x1="258.35" y1="590.6" x2="340.95" y2="590.6" stroke="#2e2e2e" stroke-width="0.9" />
<line x1="255.8" y1="590.6" x2="258.3" y2="590.6" stroke="#333" stroke-width="0.7" />
<line x1="255.8" y1="571.4" x2="258.3" y2="571.4" stroke="#333" stroke-width="0.7" />
<line x1="255.8" y1="552.2" x2="258.3" y2="552.2" stroke="#333" stroke-width="0.7" />
<line x1="255.8" y1="533" x2="258.3" y2="533" stroke="#333" stroke-width="0.7" />
<line x1="258.8" y1="591.1" x2="258.8" y2="593.4" stroke="#333" stroke-width="0.7" />
<text x="258.8" y="601.1" font-size="6.6" text-anchor="middle" stroke="#000" stroke-width="0.16">0</text>
<line x1="279.23" y1="591.1" x2="279.23" y2="593.4" stroke="#333" stroke-width="0.7" />
<text x="279.23" y="601.1" font-size="6.6" text-anchor="middle" stroke="#000" stroke-width="0.16">7</text>
<line x1="299.65" y1="591.1" x2="299.65" y2="593.4" stroke="#333" stroke-width="0.7" />
<text x="299.65" y="601.1" font-size="6.6" text-anchor="middle" stroke="#000" stroke-width="0.16">14</text>
<line x1="320.07" y1="591.1" x2="320.07" y2="593.4" stroke="#333" stroke-width="0.7" />
<text x="320.07" y="601.1" font-size="6.6" text-anchor="middle" stroke="#000" stroke-width="0.16">21</text>
<line x1="340.5" y1="591.1" x2="340.5" y2="593.4" stroke="#333" stroke-width="0.7" />
<text x="340.5" y="601.1" font-size="6.6" text-anchor="middle" stroke="#000" stroke-width="0.16">28</text>
<text x="202" y="624.3" font-size="7.7" text-anchor="middle" stroke="#000" stroke-width="0.16">LV::Conca-27-CT26</text>
<line x1="178.79" y1="626.8" x2="178.79" y2="684.2" stroke="#f0332b" stroke-width="0.7" stroke-dasharray="1 0.9"/>
<path d="M161.2,684.2 L181.72,683.43 L196.39,680.37 L202.25,675.78 L208.11,674.25 L222.78,660.47 L228.64,665.83 L237.44,653.59 L243.3,626.8" fill="none" stroke="#ea600a" stroke-width="0.95" stroke-linejoin="round" stroke-linecap="round"/>
<path d="M161.2,684.2 L181.72,683.43 L196.39,680.76 L202.25,677.31 L222.78,665.83 L231.57,657.41 L237.44,650.53 L243.3,645.17" fill="none" stroke="#ea600a" stroke-width="0.95" stroke-linejoin="round" stroke-linecap="round"/>
<path d="M161.2,684.2 L181.72,683.63 L202.25,678.46 L222.78,666.98 L231.57,659.33 L237.44,655.12 L243.3,647.85" fill="none" stroke="#ea600a" stroke-width="0.95" stroke-linejoin="round" stroke-linecap="round"/>
<path d="M161.2,684.2 L181.72,683.63 L202.25,679.23 L222.78,667.75 L228.64,662.77 L237.44,658.18 L243.3,649.76" fill="none" stroke="#ea600a" stroke-width="0.95" stroke-linejoin="round" stroke-linecap="round"/>
<path d="M161.2,684.2 L181.72,683.63 L202.25,679.61 L222.78,667.36 L228.64,668.89 L237.44,668.13 L243.3,661.24" fill="none" stroke="#ea600a" stroke-width="0.95" stroke-linejoin="round" stroke-linecap="round"/>
<path d="M161.2,684.2 L181.72,683.82 L202.25,682.29 L211.05,680.37 L222.78,676.55 L231.57,673.49 L243.3,669.28" fill="none" stroke="#ea600a" stroke-width="0.95" stroke-linejoin="round" stroke-linecap="round"/>
<path d="M161.2,684.2 L181.72,683.82 L202.25,682.67 L211.05,680.76 L222.78,676.93 L231.57,674.25 L243.3,670.42" fill="none" stroke="#ea600a" stroke-width="0.95" stroke-linejoin="round" stroke-linecap="round"/>
<path d="M161.2,684.2 L181.72,683.63 L202.25,678.08 L222.78,666.6 L228.64,666.21 L237.44,661.24 L243.3,651.29" fill="none" stroke="#ea600a" stroke-width="0.95" stroke-linejoin="round" stroke-linecap="round"/>
<line x1="161.2" y1="626.5" x2="161.2" y2="684.65" stroke="#2e2e2e" stroke-width="0.9" />
<line x1="160.75" y1="684.2" x2="243.75" y2="684.2" stroke="#2e2e2e" stroke-width="0.9" />
<line x1="158.2" y1="684.2" x2="160.7" y2="684.2" stroke="#333" stroke-width="0.7" />
<line x1="158.2" y1="665.07" x2="160.7" y2="665.07" stroke="#333" stroke-width="0.7" />
<line x1="158.2" y1="645.93" x2="160.7" y2="645.93" stroke="#333" stroke-width="0.7" />
<line x1="158.2" y1="626.8" x2="160.7" y2="626.8" stroke="#333" stroke-width="0.7" />
<line x1="161.2" y1="684.7" x2="161.2" y2="687" stroke="#333" stroke-width="0.7" />
<text x="161.2" y="694.7" font-size="6.6" text-anchor="middle" stroke="#000" stroke-width="0.16">0</text>
<line x1="181.72" y1="684.7" x2="181.72" y2="687" stroke="#333" stroke-width="0.7" />
<text x="181.72" y="694.7" font-size="6.6" text-anchor="middle" stroke="#000" stroke-width="0.16">7</text>
<line x1="202.25" y1="684.7" x2="202.25" y2="687" stroke="#333" stroke-width="0.7" />
<text x="202.25" y="694.7" font-size="6.6" text-anchor="middle" stroke="#000" stroke-width="0.16">14</text>
<line x1="222.78" y1="684.7" x2="222.78" y2="687" stroke="#333" stroke-width="0.7" />
<text x="222.78" y="694.7" font-size="6.6" text-anchor="middle" stroke="#000" stroke-width="0.16">21</text>
<line x1="243.3" y1="684.7" x2="243.3" y2="687" stroke="#333" stroke-width="0.7" />
<text x="243.3" y="694.7" font-size="6.6" text-anchor="middle" stroke="#000" stroke-width="0.16">28</text>
<text x="300.2" y="624.3" font-size="7.7" text-anchor="middle" stroke="#000" stroke-width="0.16">LV::UBA7-27-CT26</text>
<line x1="277.01" y1="626.8" x2="277.01" y2="684.2" stroke="#f0332b" stroke-width="0.7" stroke-dasharray="1 0.9"/>
<path d="M259.4,684.2 L279.95,684.01 L300.5,681.9 L321.05,674.25 L326.92,671.95 L335.73,665.83 L341.6,658.18" fill="none" stroke="#1a8df0" stroke-width="0.95" stroke-linejoin="round" stroke-linecap="round"/>
<path d="M259.4,684.2 L279.95,684.01 L300.5,682.1 L321.05,675.02 L329.86,668.89 L335.73,664.3 L341.6,659.71" fill="none" stroke="#1a8df0" stroke-width="0.95" stroke-linejoin="round" stroke-linecap="round"/>
<path d="M259.4,684.2 L279.95,684.01 L300.5,682.29 L321.05,675.78 L329.86,672.72 L335.73,668.13 L341.6,661.24" fill="none" stroke="#1a8df0" stroke-width="0.95" stroke-linejoin="round" stroke-linecap="round"/>
<path d="M259.4,684.2 L279.95,684.01 L300.5,682.48 L321.05,676.55 L329.86,673.49 L335.73,671.57 L341.6,666.21" fill="none" stroke="#1a8df0" stroke-width="0.95" stroke-linejoin="round" stroke-linecap="round"/>
<path d="M259.4,684.2 L279.95,684.01 L300.5,682.1 L321.05,675.4 L329.86,671.57 L335.73,670.81 L341.6,671.95" fill="none" stroke="#1a8df0" stroke-width="0.95" stroke-linejoin="round" stroke-linecap="round"/>
<path d="M259.4,684.2 L279.95,684.01 L300.5,682.67 L321.05,677.31 L329.86,674.63 L335.73,672.72 L341.6,672.34" fill="none" stroke="#1a8df0" stroke-width="0.95" stroke-linejoin="round" stroke-linecap="round"/>
<path d="M259.4,684.2 L279.95,684.01 L300.5,682.67 L312.24,680.37 L321.05,679.99 L329.86,681.9 L341.6,684.2" fill="none" stroke="#1a8df0" stroke-width="0.95" stroke-linejoin="round" stroke-linecap="round"/>
<path d="M259.4,684.2 L279.95,684.01 L300.5,681.9 L321.05,674.63 L326.92,672.72 L335.73,664.3 L341.6,662.77" fill="none" stroke="#1a8df0" stroke-width="0.95" stroke-linejoin="round" stroke-linecap="round"/>
<line x1="259.4" y1="626.5" x2="259.4" y2="684.65" stroke="#2e2e2e" stroke-width="0.9" />
<line x1="258.95" y1="684.2" x2="342.05" y2="684.2" stroke="#2e2e2e" stroke-width="0.9" />
<line x1="256.4" y1="684.2" x2="258.9" y2="684.2" stroke="#333" stroke-width="0.7" />
<line x1="256.4" y1="665.07" x2="258.9" y2="665.07" stroke="#333" stroke-width="0.7" />
<line x1="256.4" y1="645.93" x2="258.9" y2="645.93" stroke="#333" stroke-width="0.7" />
<line x1="256.4" y1="626.8" x2="258.9" y2="626.8" stroke="#333" stroke-width="0.7" />
<line x1="259.4" y1="684.7" x2="259.4" y2="687" stroke="#333" stroke-width="0.7" />
<text x="259.4" y="694.7" font-size="6.6" text-anchor="middle" stroke="#000" stroke-width="0.16">0</text>
<line x1="279.95" y1="684.7" x2="279.95" y2="687" stroke="#333" stroke-width="0.7" />
<text x="279.95" y="694.7" font-size="6.6" text-anchor="middle" stroke="#000" stroke-width="0.16">7</text>
<line x1="300.5" y1="684.7" x2="300.5" y2="687" stroke="#333" stroke-width="0.7" />
<text x="300.5" y="694.7" font-size="6.6" text-anchor="middle" stroke="#000" stroke-width="0.16">14</text>
<line x1="321.05" y1="684.7" x2="321.05" y2="687" stroke="#333" stroke-width="0.7" />
<text x="321.05" y="694.7" font-size="6.6" text-anchor="middle" stroke="#000" stroke-width="0.16">21</text>
<line x1="341.6" y1="684.7" x2="341.6" y2="687" stroke="#333" stroke-width="0.7" />
<text x="341.6" y="694.7" font-size="6.6" text-anchor="middle" stroke="#000" stroke-width="0.16">28</text>
<text x="363" y="546.2" font-size="15" font-weight="bold" stroke="#000" stroke-width="0.16">i</text>
<text x="490.2" y="554.3" font-size="9.6" text-anchor="middle" stroke="#000" stroke-width="0.16">D28 Tumor size</text>
<line x1="444" y1="567" x2="545.4" y2="567" stroke="#b0b0b0" stroke-width="0.8" />
<line x1="444" y1="580.4" x2="545.4" y2="580.4" stroke="#b0b0b0" stroke-width="0.8" />
<line x1="444" y1="593.7" x2="545.4" y2="593.7" stroke="#b0b0b0" stroke-width="0.8" />
<line x1="444" y1="607.2" x2="545.4" y2="607.2" stroke="#b0b0b0" stroke-width="0.8" />
<line x1="444" y1="620.5" x2="545.4" y2="620.5" stroke="#b0b0b0" stroke-width="0.8" />
<line x1="444" y1="558.6" x2="444" y2="629.7" stroke="#1a1a1a" stroke-width="0.9" />
<line x1="443.6" y1="629.3" x2="545.8" y2="629.3" stroke="#1a1a1a" stroke-width="0.9" />
<path d="M471.2,566.4 L472.47,565.23 L473.74,565.19 L475.02,565.17 L476.29,565.14 L477.56,565.11 L478.83,565.06 L480.1,564.98 L481.37,564.89 L482.65,564.77 L483.92,564.63 L485.19,564.49 L486.46,564.36 L487.73,564.25 L489.01,564.16 L490.28,564.12 L491.55,564.13 L492.82,564.18 L494.09,564.28 L495.36,564.41 L496.64,564.57 L497.91,564.74 L499.18,564.9 L500.45,565.04 L501.72,565.15 L502.99,565.19 L504.27,565.17 L505.54,565.08 L506.81,564.92 L508.08,564.69 L509.35,564.4 L510.63,564.08 L511.9,563.74 L513.17,563.4 L514.44,563.1 L515.71,562.85 L516.98,562.68 L518.26,562.6 L519.53,562.62 L520.8,566.4 L520.8,567.6 L519.53,571.38 L518.26,571.4 L516.98,571.32 L515.71,571.15 L514.44,570.9 L513.17,570.6 L511.9,570.26 L510.63,569.92 L509.35,569.6 L508.08,569.31 L506.81,569.08 L505.54,568.92 L504.27,568.83 L502.99,568.81 L501.72,568.85 L500.45,568.96 L499.18,569.1 L497.91,569.26 L496.64,569.43 L495.36,569.59 L494.09,569.72 L492.82,569.82 L491.55,569.87 L490.28,569.88 L489.01,569.84 L487.73,569.75 L486.46,569.64 L485.19,569.51 L483.92,569.37 L482.65,569.23 L481.37,569.11 L480.1,569.02 L478.83,568.94 L477.56,568.89 L476.29,568.86 L475.02,568.83 L473.74,568.81 L472.47,568.77 L471.2,567.6Z" fill="#cfcfcf" stroke="#2a2a2a" stroke-width="0.55" stroke-linejoin="round"/>
<circle cx="471.2" cy="567" r="3" fill="#808080" stroke="#1e1e1e" stroke-width="0.6"/>
<circle cx="487.8" cy="567" r="3" fill="#808080" stroke="#1e1e1e" stroke-width="0.6"/>
<circle cx="494.6" cy="567" r="3" fill="#808080" stroke="#1e1e1e" stroke-width="0.6"/>
<circle cx="515" cy="567" r="3" fill="#808080" stroke="#1e1e1e" stroke-width="0.6"/>
<circle cx="520" cy="567" r="3" fill="#808080" stroke="#1e1e1e" stroke-width="0.6"/>
<circle cx="520.8" cy="568.4" r="3" fill="#808080" stroke="#1e1e1e" stroke-width="0.6"/>
<path d="M452.8,579.8 L454.54,578.5 L456.29,578.37 L458.03,578.24 L459.77,578.12 L461.52,577.98 L463.26,577.85 L465.01,577.73 L466.75,577.62 L468.49,577.53 L470.24,577.49 L471.98,577.49 L473.72,577.54 L475.47,577.64 L477.21,577.78 L478.95,577.96 L480.7,578.16 L482.44,578.36 L484.18,578.53 L485.93,578.68 L487.67,578.77 L489.42,578.81 L491.16,578.79 L492.9,578.7 L494.65,578.55 L496.39,578.35 L498.13,578.11 L499.88,577.83 L501.62,577.54 L503.36,577.23 L505.11,576.94 L506.85,576.65 L508.59,576.41 L510.34,576.21 L512.08,576.07 L513.83,576 L515.57,576.01 L517.31,576.11 L519.06,576.29 L520.8,579.8 L520.8,581 L519.06,584.51 L517.31,584.69 L515.57,584.79 L513.83,584.8 L512.08,584.73 L510.34,584.59 L508.59,584.39 L506.85,584.15 L505.11,583.86 L503.36,583.57 L501.62,583.26 L499.88,582.97 L498.13,582.69 L496.39,582.45 L494.65,582.25 L492.9,582.1 L491.16,582.01 L489.42,581.99 L487.67,582.03 L485.93,582.12 L484.18,582.27 L482.44,582.44 L480.7,582.64 L478.95,582.84 L477.21,583.02 L475.47,583.16 L473.72,583.26 L471.98,583.31 L470.24,583.31 L468.49,583.27 L466.75,583.18 L465.01,583.07 L463.26,582.95 L461.52,582.82 L459.77,582.68 L458.03,582.56 L456.29,582.43 L454.54,582.3 L452.8,581Z" fill="#f2b705" stroke="#2a2a2a" stroke-width="0.55" stroke-linejoin="round"/>
<circle cx="452.8" cy="580.4" r="3" fill="#c99a12" stroke="#1e1e1e" stroke-width="0.6"/>
<circle cx="471.2" cy="580.4" r="3" fill="#c99a12" stroke="#1e1e1e" stroke-width="0.6"/>
<circle cx="474.7" cy="581.8" r="3" fill="#c99a12" stroke="#1e1e1e" stroke-width="0.6"/>
<circle cx="501.9" cy="580.4" r="3" fill="#c99a12" stroke="#1e1e1e" stroke-width="0.6"/>
<circle cx="512.7" cy="580.4" r="3" fill="#c99a12" stroke="#1e1e1e" stroke-width="0.6"/>
<circle cx="517" cy="580.4" r="3" fill="#c99a12" stroke="#1e1e1e" stroke-width="0.6"/>
<circle cx="520.8" cy="580.4" r="3" fill="#c99a12" stroke="#1e1e1e" stroke-width="0.6"/>
<path d="M462.4,593.1 L463.88,589.8 L465.35,589.7 L466.83,589.68 L468.31,589.74 L469.78,589.86 L471.26,590.03 L472.74,590.22 L474.22,590.39 L475.69,590.54 L477.17,590.64 L478.65,590.66 L480.12,590.62 L481.6,590.5 L483.08,590.31 L484.55,590.09 L486.03,589.84 L487.51,589.61 L488.98,589.43 L490.46,589.32 L491.94,589.3 L493.42,589.39 L494.89,589.58 L496.37,589.87 L497.85,590.23 L499.32,590.63 L500.8,591.05 L502.28,591.45 L503.75,591.8 L505.23,592.1 L506.71,592.32 L508.18,592.4 L509.66,592.4 L511.14,592.4 L512.62,592.4 L514.09,592.36 L515.57,592.27 L517.05,592.18 L518.52,592.13 L520,593.1 L520,594.3 L518.52,595.27 L517.05,595.22 L515.57,595.13 L514.09,595.04 L512.62,595 L511.14,595 L509.66,595 L508.18,595 L506.71,595.08 L505.23,595.3 L503.75,595.6 L502.28,595.95 L500.8,596.35 L499.32,596.77 L497.85,597.17 L496.37,597.53 L494.89,597.82 L493.42,598.01 L491.94,598.1 L490.46,598.08 L488.98,597.97 L487.51,597.79 L486.03,597.56 L484.55,597.31 L483.08,597.09 L481.6,596.9 L480.12,596.78 L478.65,596.74 L477.17,596.76 L475.69,596.86 L474.22,597.01 L472.74,597.18 L471.26,597.37 L469.78,597.54 L468.31,597.66 L466.83,597.72 L465.35,597.7 L463.88,597.6 L462.4,594.3Z" fill="#f59467" stroke="#2a2a2a" stroke-width="0.55" stroke-linejoin="round"/>
<circle cx="462.4" cy="593.7" r="3" fill="#ee6418" stroke="#1e1e1e" stroke-width="0.6"/>
<circle cx="464.5" cy="595.1" r="3" fill="#ee6418" stroke="#1e1e1e" stroke-width="0.6"/>
<circle cx="473.2" cy="593.7" r="3" fill="#ee6418" stroke="#1e1e1e" stroke-width="0.6"/>
<circle cx="487.8" cy="593.7" r="3" fill="#ee6418" stroke="#1e1e1e" stroke-width="0.6"/>
<circle cx="492.2" cy="593.7" r="3" fill="#ee6418" stroke="#1e1e1e" stroke-width="0.6"/>
<circle cx="496" cy="593.7" r="3" fill="#ee6418" stroke="#1e1e1e" stroke-width="0.6"/>
<circle cx="520" cy="593.7" r="3" fill="#ee6418" stroke="#1e1e1e" stroke-width="0.6"/>
<path d="M468.9,606.6 L470.22,603.04 L471.55,602.87 L472.87,602.8 L474.19,602.83 L475.52,602.95 L476.84,603.15 L478.16,603.41 L479.48,603.7 L480.81,604.01 L482.13,604.32 L483.45,604.61 L484.78,604.88 L486.1,605.11 L487.42,605.32 L488.75,605.48 L490.07,605.61 L491.39,605.71 L492.72,605.78 L494.04,605.82 L495.36,605.85 L496.68,605.87 L498.01,605.89 L499.33,605.9 L500.65,605.9 L501.98,605.9 L503.3,605.9 L504.62,605.9 L505.95,605.9 L507.27,605.9 L508.59,605.9 L509.92,605.9 L511.24,605.9 L512.56,605.9 L513.88,605.9 L515.21,605.9 L516.53,605.9 L517.85,605.9 L519.18,605.9 L520.5,606.6 L520.5,607.8 L519.18,608.5 L517.85,608.5 L516.53,608.5 L515.21,608.5 L513.88,608.5 L512.56,608.5 L511.24,608.5 L509.92,608.5 L508.59,608.5 L507.27,608.5 L505.95,608.5 L504.62,608.5 L503.3,608.5 L501.98,608.5 L500.65,608.5 L499.33,608.5 L498.01,608.51 L496.68,608.53 L495.36,608.55 L494.04,608.58 L492.72,608.62 L491.39,608.69 L490.07,608.79 L488.75,608.92 L487.42,609.08 L486.1,609.29 L484.78,609.52 L483.45,609.79 L482.13,610.08 L480.81,610.39 L479.48,610.7 L478.16,610.99 L476.84,611.25 L475.52,611.45 L474.19,611.57 L472.87,611.6 L471.55,611.53 L470.22,611.36 L468.9,607.8Z" fill="#c7b0e6" stroke="#2a2a2a" stroke-width="0.55" stroke-linejoin="round"/>
<circle cx="468.9" cy="607.2" r="3" fill="#7b2fd6" stroke="#1e1e1e" stroke-width="0.6"/>
<circle cx="471.2" cy="608.6" r="3" fill="#7b2fd6" stroke="#1e1e1e" stroke-width="0.6"/>
<circle cx="473.2" cy="605.8" r="3" fill="#7b2fd6" stroke="#1e1e1e" stroke-width="0.6"/>
<circle cx="475.3" cy="608.6" r="3" fill="#7b2fd6" stroke="#1e1e1e" stroke-width="0.6"/>
<circle cx="485" cy="607.2" r="3" fill="#7b2fd6" stroke="#1e1e1e" stroke-width="0.6"/>
<circle cx="500" cy="607.2" r="3" fill="#7b2fd6" stroke="#1e1e1e" stroke-width="0.6"/>
<circle cx="520.5" cy="607.2" r="3" fill="#7b2fd6" stroke="#1e1e1e" stroke-width="0.6"/>
<path d="M444,619.9 L444.86,619.03 L445.72,619.09 L446.58,619.19 L447.45,619.2 L448.31,619.2 L449.17,619.2 L450.03,619.2 L450.89,619.2 L451.75,619.2 L452.62,619.2 L453.48,619.02 L454.34,618.75 L455.2,618.44 L456.06,618.12 L456.92,617.82 L457.78,617.56 L458.65,617.35 L459.51,617.22 L460.37,617.15 L461.23,617.13 L462.09,617.16 L462.95,617.19 L463.82,617.22 L464.68,617.23 L465.54,617.19 L466.4,617.12 L467.26,617 L468.12,616.85 L468.98,616.68 L469.85,616.51 L470.71,616.35 L471.57,616.21 L472.43,616.13 L473.29,616.1 L474.15,616.14 L475.02,616.26 L475.88,616.46 L476.74,616.73 L477.6,619.9 L477.6,621.1 L476.74,624.27 L475.88,624.54 L475.02,624.74 L474.15,624.86 L473.29,624.9 L472.43,624.87 L471.57,624.79 L470.71,624.65 L469.85,624.49 L468.98,624.32 L468.12,624.15 L467.26,624 L466.4,623.88 L465.54,623.81 L464.68,623.77 L463.82,623.78 L462.95,623.81 L462.09,623.84 L461.23,623.87 L460.37,623.85 L459.51,623.78 L458.65,623.65 L457.78,623.44 L456.92,623.18 L456.06,622.88 L455.2,622.56 L454.34,622.25 L453.48,621.98 L452.62,621.8 L451.75,621.8 L450.89,621.8 L450.03,621.8 L449.17,621.8 L448.31,621.8 L447.45,621.8 L446.58,621.81 L445.72,621.91 L444.86,621.97 L444,621.1Z" fill="#a9bcf2" stroke="#2a2a2a" stroke-width="0.55" stroke-linejoin="round"/>
<circle cx="444" cy="620.5" r="3" fill="#1490f0" stroke="#1e1e1e" stroke-width="0.6"/>
<circle cx="458.6" cy="620.5" r="3" fill="#1490f0" stroke="#1e1e1e" stroke-width="0.6"/>
<circle cx="460" cy="621.9" r="3" fill="#1490f0" stroke="#1e1e1e" stroke-width="0.6"/>
<circle cx="467.4" cy="620.5" r="3" fill="#1490f0" stroke="#1e1e1e" stroke-width="0.6"/>
<circle cx="471.8" cy="620.5" r="3" fill="#1490f0" stroke="#1e1e1e" stroke-width="0.6"/>
<circle cx="474.7" cy="621.9" r="3" fill="#1490f0" stroke="#1e1e1e" stroke-width="0.6"/>
<circle cx="477.6" cy="619.1" r="3" fill="#1490f0" stroke="#1e1e1e" stroke-width="0.6"/>
<line x1="444" y1="629.3" x2="444" y2="632.1" stroke="#1a1a1a" stroke-width="0.8" />
<text x="444" y="641.5" font-size="6.6" text-anchor="middle" stroke="#000" stroke-width="0.16">0</text>
<line x1="469.35" y1="629.3" x2="469.35" y2="632.1" stroke="#1a1a1a" stroke-width="0.8" />
<text x="469.35" y="641.5" font-size="6.6" text-anchor="middle" stroke="#000" stroke-width="0.16">500</text>
<line x1="494.7" y1="629.3" x2="494.7" y2="632.1" stroke="#1a1a1a" stroke-width="0.8" />
<text x="494.7" y="641.5" font-size="6.6" text-anchor="middle" stroke="#000" stroke-width="0.16">1000</text>
<line x1="520.05" y1="629.3" x2="520.05" y2="632.1" stroke="#1a1a1a" stroke-width="0.8" />
<text x="520.05" y="641.5" font-size="6.6" text-anchor="middle" stroke="#000" stroke-width="0.16">1500</text>
<line x1="545.4" y1="629.3" x2="545.4" y2="632.1" stroke="#1a1a1a" stroke-width="0.8" />
<text x="545.4" y="641.5" font-size="6.6" text-anchor="middle" stroke="#000" stroke-width="0.16">2000</text>
<line x1="441" y1="567" x2="444" y2="567" stroke="#1a1a1a" stroke-width="0.8" />
<text x="438.8" y="569.7" font-size="7.8" text-anchor="end" stroke="#000" stroke-width="0.16">Ctrl LV</text>
<line x1="441" y1="580.4" x2="444" y2="580.4" stroke="#1a1a1a" stroke-width="0.8" />
<text x="438.8" y="583.1" font-size="7.8" text-anchor="end" stroke="#000" stroke-width="0.16">LV::Conca-CT26</text>
<line x1="441" y1="593.7" x2="444" y2="593.7" stroke="#1a1a1a" stroke-width="0.8" />
<text x="438.8" y="596.4" font-size="7.8" text-anchor="end" stroke="#000" stroke-width="0.16">LV::Conca-27-CT26</text>
<line x1="441" y1="607.2" x2="444" y2="607.2" stroke="#1a1a1a" stroke-width="0.8" />
<text x="438.8" y="609.9" font-size="7.8" text-anchor="end" stroke="#000" stroke-width="0.16">LV::UBA7-CT26</text>
<line x1="441" y1="620.5" x2="444" y2="620.5" stroke="#1a1a1a" stroke-width="0.8" />
<text x="438.8" y="623.2" font-size="7.8" text-anchor="end" stroke="#000" stroke-width="0.16">LV::UBA7-27-CT26</text>
<text x="495" y="653.4" font-size="8.2" text-anchor="middle" stroke="#000" stroke-width="0.16">Tumor volume (mm<tspan font-size="4.8" dy="-2.8">3</tspan><tspan dy="2.8">)</tspan></text>
<line x1="532.2" y1="567" x2="532.2" y2="620.5" stroke="#111" stroke-width="1.1" />
<text x="539" y="599.3" font-size="11.5" text-anchor="middle" font-weight="bold" stroke="#000" stroke-width="0.16">*</text>
</svg>
</body>
</html>
